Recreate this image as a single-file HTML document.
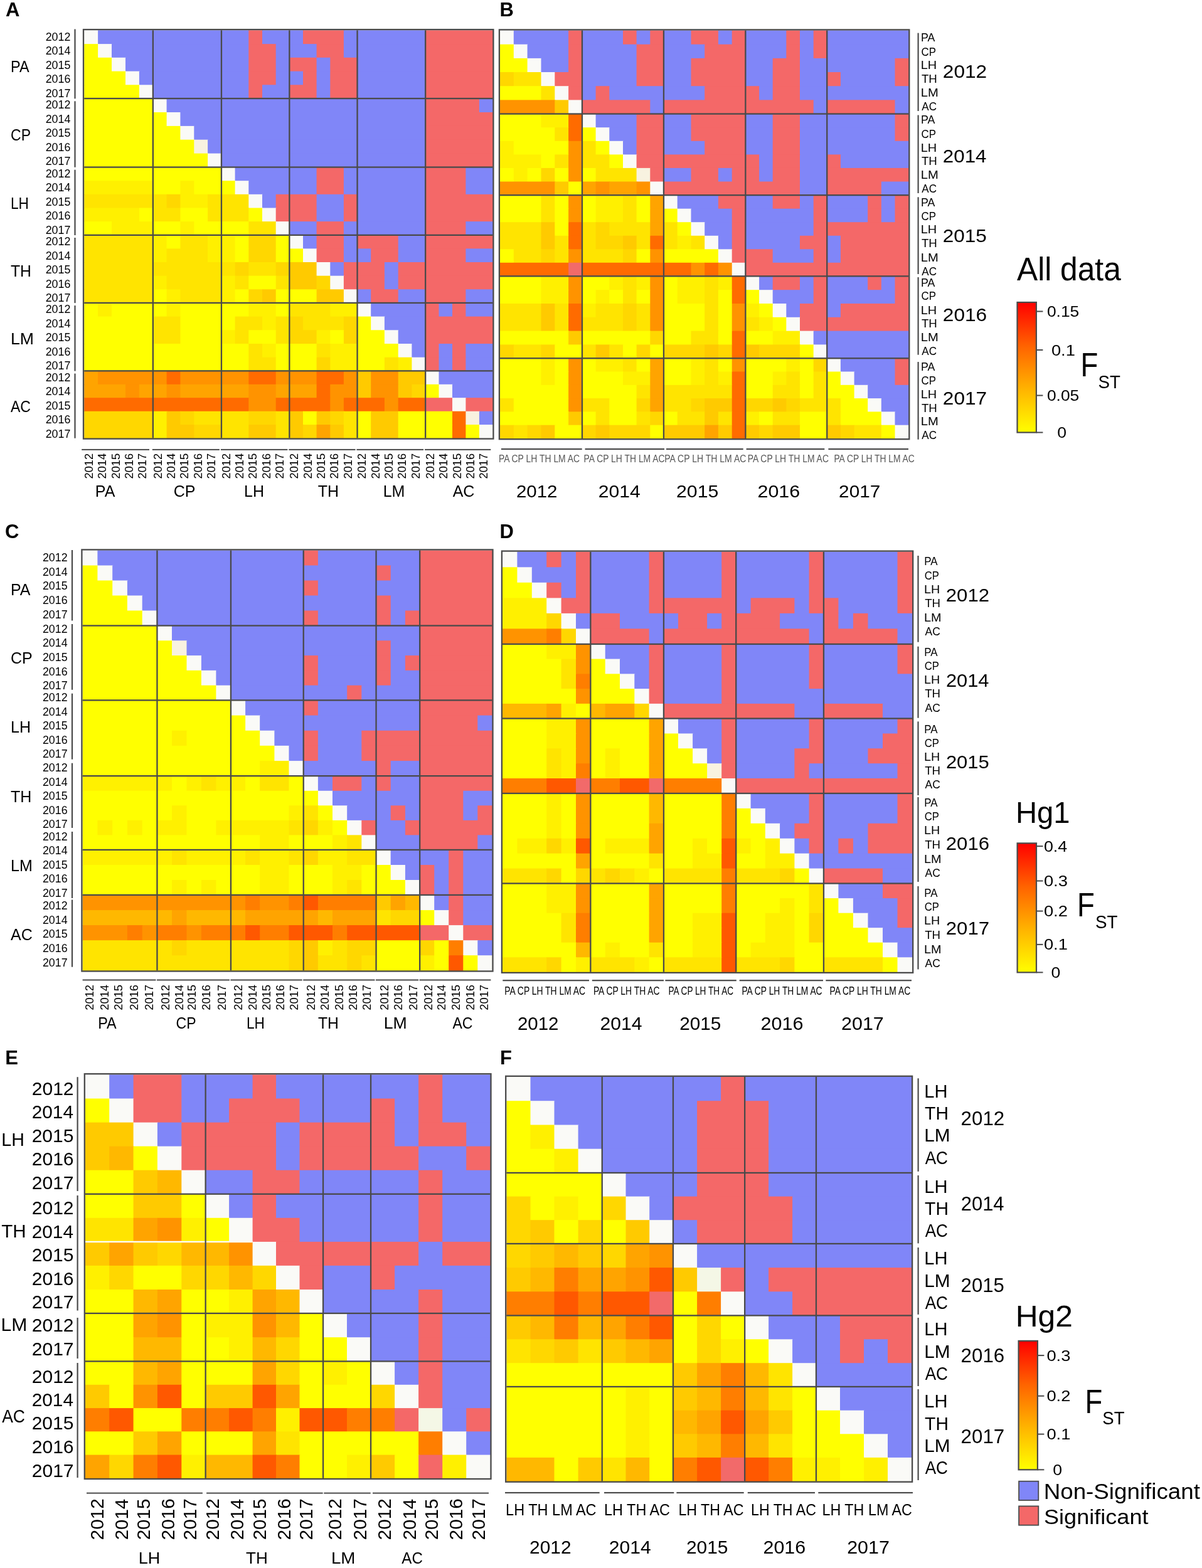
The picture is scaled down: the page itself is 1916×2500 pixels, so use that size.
<!DOCTYPE html>
<html><head><meta charset="utf-8"><title>Pairwise FST heatmaps</title>
<style>html,body{margin:0;padding:0;background:#fff;} svg{display:block;} text{font-family:'Liberation Sans', Arial, sans-serif;}</style>
</head><body>
<svg xmlns="http://www.w3.org/2000/svg" width="1916" height="2500" viewBox="0 0 1916 2500">
<rect width="1916" height="2500" fill="#fff"/>
<text x="9.0" y="25.9" font-size="31" font-weight="bold" fill="#000">A</text>
<rect x="134.2" y="48.3" width="22.9" height="22.8" fill="#fafaf7"/>
<rect x="156.1" y="48.3" width="241.2" height="22.8" fill="#8086f8"/>
<rect x="396.3" y="48.3" width="22.7" height="22.8" fill="#f46868"/>
<rect x="418.0" y="48.3" width="66.0" height="22.8" fill="#8086f8"/>
<rect x="483.0" y="48.3" width="65.9" height="22.8" fill="#f46868"/>
<rect x="547.9" y="48.3" width="131.2" height="22.8" fill="#8086f8"/>
<rect x="678.1" y="48.3" width="108.2" height="22.8" fill="#f46868"/>
<rect x="134.2" y="70.1" width="22.9" height="22.8" fill="#ffff00"/>
<rect x="156.1" y="70.1" width="22.9" height="22.8" fill="#fafaf7"/>
<rect x="178.0" y="70.1" width="219.3" height="22.8" fill="#8086f8"/>
<rect x="396.3" y="70.1" width="44.4" height="22.8" fill="#f46868"/>
<rect x="439.7" y="70.1" width="65.9" height="22.8" fill="#8086f8"/>
<rect x="504.6" y="70.1" width="44.2" height="22.8" fill="#f46868"/>
<rect x="547.9" y="70.1" width="131.2" height="22.8" fill="#8086f8"/>
<rect x="678.1" y="70.1" width="108.2" height="22.8" fill="#f46868"/>
<rect x="134.2" y="91.8" width="44.8" height="22.8" fill="#ffff00"/>
<rect x="178.0" y="91.8" width="22.9" height="22.8" fill="#fafaf7"/>
<rect x="200.0" y="91.8" width="197.3" height="22.8" fill="#8086f8"/>
<rect x="396.3" y="91.8" width="44.4" height="22.8" fill="#f46868"/>
<rect x="439.7" y="91.8" width="22.7" height="22.8" fill="#8086f8"/>
<rect x="461.4" y="91.8" width="44.2" height="22.8" fill="#f46868"/>
<rect x="504.6" y="91.8" width="22.6" height="22.8" fill="#8086f8"/>
<rect x="526.3" y="91.8" width="44.2" height="22.8" fill="#f46868"/>
<rect x="569.5" y="91.8" width="109.6" height="22.8" fill="#8086f8"/>
<rect x="678.1" y="91.8" width="108.2" height="22.8" fill="#f46868"/>
<rect x="134.2" y="113.6" width="66.8" height="22.8" fill="#ffff00"/>
<rect x="200.0" y="113.6" width="22.9" height="22.8" fill="#fafaf7"/>
<rect x="221.9" y="113.6" width="175.4" height="22.8" fill="#8086f8"/>
<rect x="396.3" y="113.6" width="44.4" height="22.8" fill="#f46868"/>
<rect x="439.7" y="113.6" width="44.3" height="22.8" fill="#8086f8"/>
<rect x="483.0" y="113.6" width="22.6" height="22.8" fill="#f46868"/>
<rect x="504.6" y="113.6" width="22.6" height="22.8" fill="#8086f8"/>
<rect x="526.3" y="113.6" width="44.2" height="22.8" fill="#f46868"/>
<rect x="569.5" y="113.6" width="109.6" height="22.8" fill="#8086f8"/>
<rect x="678.1" y="113.6" width="108.2" height="22.8" fill="#f46868"/>
<rect x="134.2" y="135.3" width="88.7" height="22.8" fill="#ffff00"/>
<rect x="221.9" y="135.3" width="22.9" height="22.8" fill="#fafaf7"/>
<rect x="243.8" y="135.3" width="153.5" height="22.8" fill="#8086f8"/>
<rect x="396.3" y="135.3" width="22.7" height="22.8" fill="#f46868"/>
<rect x="418.0" y="135.3" width="44.4" height="22.8" fill="#8086f8"/>
<rect x="461.4" y="135.3" width="44.2" height="22.8" fill="#f46868"/>
<rect x="504.6" y="135.3" width="22.6" height="22.8" fill="#8086f8"/>
<rect x="526.3" y="135.3" width="44.2" height="22.8" fill="#f46868"/>
<rect x="569.5" y="135.3" width="109.6" height="22.8" fill="#8086f8"/>
<rect x="678.1" y="135.3" width="108.2" height="22.8" fill="#f46868"/>
<rect x="134.2" y="157.1" width="110.6" height="22.9" fill="#ffff00"/>
<rect x="243.8" y="157.1" width="22.8" height="22.9" fill="#fafaf7"/>
<rect x="265.6" y="157.1" width="413.5" height="22.9" fill="#8086f8"/>
<rect x="678.1" y="157.1" width="86.8" height="22.9" fill="#f46868"/>
<rect x="763.9" y="157.1" width="22.4" height="22.9" fill="#8086f8"/>
<rect x="134.2" y="179.0" width="132.4" height="22.9" fill="#ffff00"/>
<rect x="265.6" y="179.0" width="22.8" height="22.9" fill="#fafaf7"/>
<rect x="287.4" y="179.0" width="391.7" height="22.9" fill="#8086f8"/>
<rect x="678.1" y="179.0" width="108.2" height="22.9" fill="#f46868"/>
<rect x="134.2" y="200.9" width="154.2" height="22.9" fill="#ffff00"/>
<rect x="287.4" y="200.9" width="22.8" height="22.9" fill="#fafaf7"/>
<rect x="309.3" y="200.9" width="369.8" height="22.9" fill="#8086f8"/>
<rect x="678.1" y="200.9" width="108.2" height="22.9" fill="#f46868"/>
<rect x="134.2" y="222.7" width="176.1" height="22.9" fill="#ffff00"/>
<rect x="309.3" y="222.7" width="22.8" height="22.9" fill="#f8f2e0"/>
<rect x="331.1" y="222.7" width="348.0" height="22.9" fill="#8086f8"/>
<rect x="678.1" y="222.7" width="108.2" height="22.9" fill="#f46868"/>
<rect x="134.2" y="244.6" width="197.9" height="22.9" fill="#ffff00"/>
<rect x="331.1" y="244.6" width="22.8" height="22.9" fill="#fafaf7"/>
<rect x="352.9" y="244.6" width="326.2" height="22.9" fill="#8086f8"/>
<rect x="678.1" y="244.6" width="108.2" height="22.9" fill="#f46868"/>
<rect x="134.2" y="266.5" width="219.7" height="22.7" fill="#ffff00"/>
<rect x="352.9" y="266.5" width="22.7" height="22.7" fill="#fafaf7"/>
<rect x="374.6" y="266.5" width="131.0" height="22.7" fill="#8086f8"/>
<rect x="504.6" y="266.5" width="44.2" height="22.7" fill="#f46868"/>
<rect x="547.9" y="266.5" width="131.2" height="22.7" fill="#8086f8"/>
<rect x="678.1" y="266.5" width="65.3" height="22.7" fill="#f46868"/>
<rect x="742.4" y="266.5" width="43.9" height="22.7" fill="#8086f8"/>
<rect x="134.2" y="288.2" width="110.6" height="22.7" fill="#fff000"/>
<rect x="243.8" y="288.2" width="44.6" height="22.7" fill="#ffff00"/>
<rect x="287.4" y="288.2" width="22.8" height="22.7" fill="#fff000"/>
<rect x="309.3" y="288.2" width="66.3" height="22.7" fill="#ffff00"/>
<rect x="374.6" y="288.2" width="22.7" height="22.7" fill="#fafaf7"/>
<rect x="396.3" y="288.2" width="109.3" height="22.7" fill="#8086f8"/>
<rect x="504.6" y="288.2" width="44.2" height="22.7" fill="#f46868"/>
<rect x="547.9" y="288.2" width="131.2" height="22.7" fill="#8086f8"/>
<rect x="678.1" y="288.2" width="65.3" height="22.7" fill="#f46868"/>
<rect x="742.4" y="288.2" width="43.9" height="22.7" fill="#8086f8"/>
<rect x="134.2" y="309.8" width="132.4" height="22.7" fill="#ffe400"/>
<rect x="265.6" y="309.8" width="22.8" height="22.7" fill="#ffd700"/>
<rect x="287.4" y="309.8" width="44.6" height="22.7" fill="#fff000"/>
<rect x="331.1" y="309.8" width="66.2" height="22.7" fill="#ffe400"/>
<rect x="396.3" y="309.8" width="22.7" height="22.7" fill="#fafaf7"/>
<rect x="418.0" y="309.8" width="22.7" height="22.7" fill="#8086f8"/>
<rect x="439.7" y="309.8" width="65.9" height="22.7" fill="#f46868"/>
<rect x="504.6" y="309.8" width="44.2" height="22.7" fill="#8086f8"/>
<rect x="547.9" y="309.8" width="22.6" height="22.7" fill="#f46868"/>
<rect x="569.5" y="309.8" width="109.6" height="22.7" fill="#8086f8"/>
<rect x="678.1" y="309.8" width="108.2" height="22.7" fill="#f46868"/>
<rect x="134.2" y="331.5" width="88.7" height="22.7" fill="#fff000"/>
<rect x="221.9" y="331.5" width="22.9" height="22.7" fill="#ffff00"/>
<rect x="243.8" y="331.5" width="44.6" height="22.7" fill="#ffe400"/>
<rect x="287.4" y="331.5" width="44.6" height="22.7" fill="#ffff00"/>
<rect x="331.1" y="331.5" width="66.2" height="22.7" fill="#ffe400"/>
<rect x="396.3" y="331.5" width="22.7" height="22.7" fill="#ffff00"/>
<rect x="418.0" y="331.5" width="22.7" height="22.7" fill="#fafaf7"/>
<rect x="439.7" y="331.5" width="65.9" height="22.7" fill="#f46868"/>
<rect x="504.6" y="331.5" width="44.2" height="22.7" fill="#8086f8"/>
<rect x="547.9" y="331.5" width="22.6" height="22.7" fill="#f46868"/>
<rect x="569.5" y="331.5" width="109.6" height="22.7" fill="#8086f8"/>
<rect x="678.1" y="331.5" width="108.2" height="22.7" fill="#f46868"/>
<rect x="134.2" y="353.1" width="44.8" height="22.7" fill="#ffff00"/>
<rect x="178.0" y="353.1" width="66.8" height="22.7" fill="#fff000"/>
<rect x="243.8" y="353.1" width="44.6" height="22.7" fill="#ffff00"/>
<rect x="287.4" y="353.1" width="22.8" height="22.7" fill="#fff000"/>
<rect x="309.3" y="353.1" width="88.0" height="22.7" fill="#ffff00"/>
<rect x="396.3" y="353.1" width="44.4" height="22.7" fill="#ffe400"/>
<rect x="439.7" y="353.1" width="22.7" height="22.7" fill="#fafaf7"/>
<rect x="461.4" y="353.1" width="44.2" height="22.7" fill="#8086f8"/>
<rect x="504.6" y="353.1" width="44.2" height="22.7" fill="#f46868"/>
<rect x="547.9" y="353.1" width="131.2" height="22.7" fill="#8086f8"/>
<rect x="678.1" y="353.1" width="65.3" height="22.7" fill="#f46868"/>
<rect x="742.4" y="353.1" width="43.9" height="22.7" fill="#8086f8"/>
<rect x="134.2" y="374.8" width="110.6" height="22.6" fill="#ffe400"/>
<rect x="243.8" y="374.8" width="22.8" height="22.6" fill="#fff000"/>
<rect x="265.6" y="374.8" width="22.8" height="22.6" fill="#ffff00"/>
<rect x="287.4" y="374.8" width="44.6" height="22.6" fill="#ffe400"/>
<rect x="331.1" y="374.8" width="44.5" height="22.6" fill="#fff000"/>
<rect x="374.6" y="374.8" width="22.7" height="22.6" fill="#ffff00"/>
<rect x="396.3" y="374.8" width="44.4" height="22.6" fill="#ffd700"/>
<rect x="439.7" y="374.8" width="22.7" height="22.6" fill="#ffff00"/>
<rect x="461.4" y="374.8" width="22.6" height="22.6" fill="#fafaf7"/>
<rect x="483.0" y="374.8" width="22.6" height="22.6" fill="#8086f8"/>
<rect x="504.6" y="374.8" width="44.2" height="22.6" fill="#f46868"/>
<rect x="547.9" y="374.8" width="22.6" height="22.6" fill="#8086f8"/>
<rect x="569.5" y="374.8" width="66.2" height="22.6" fill="#f46868"/>
<rect x="634.7" y="374.8" width="44.4" height="22.6" fill="#8086f8"/>
<rect x="678.1" y="374.8" width="108.2" height="22.6" fill="#f46868"/>
<rect x="134.2" y="396.4" width="110.6" height="22.6" fill="#ffe400"/>
<rect x="243.8" y="396.4" width="22.8" height="22.6" fill="#fff000"/>
<rect x="265.6" y="396.4" width="66.5" height="22.6" fill="#ffe400"/>
<rect x="331.1" y="396.4" width="44.5" height="22.6" fill="#fff000"/>
<rect x="374.6" y="396.4" width="22.7" height="22.6" fill="#ffff00"/>
<rect x="396.3" y="396.4" width="44.4" height="22.6" fill="#ffd700"/>
<rect x="439.7" y="396.4" width="44.3" height="22.6" fill="#ffff00"/>
<rect x="483.0" y="396.4" width="22.6" height="22.6" fill="#fafaf7"/>
<rect x="504.6" y="396.4" width="44.2" height="22.6" fill="#f46868"/>
<rect x="547.9" y="396.4" width="44.3" height="22.6" fill="#8086f8"/>
<rect x="591.2" y="396.4" width="44.4" height="22.6" fill="#f46868"/>
<rect x="634.7" y="396.4" width="44.4" height="22.6" fill="#8086f8"/>
<rect x="678.1" y="396.4" width="65.3" height="22.6" fill="#f46868"/>
<rect x="742.4" y="396.4" width="43.9" height="22.6" fill="#8086f8"/>
<rect x="134.2" y="418.0" width="241.4" height="22.6" fill="#ffe400"/>
<rect x="374.6" y="418.0" width="22.7" height="22.6" fill="#ffd700"/>
<rect x="396.3" y="418.0" width="44.4" height="22.6" fill="#ffe400"/>
<rect x="439.7" y="418.0" width="22.7" height="22.6" fill="#ffd700"/>
<rect x="461.4" y="418.0" width="44.2" height="22.6" fill="#ffca00"/>
<rect x="504.6" y="418.0" width="22.6" height="22.6" fill="#fafaf7"/>
<rect x="526.3" y="418.0" width="22.6" height="22.6" fill="#8086f8"/>
<rect x="547.9" y="418.0" width="66.1" height="22.6" fill="#f46868"/>
<rect x="612.9" y="418.0" width="22.7" height="22.6" fill="#8086f8"/>
<rect x="634.7" y="418.0" width="151.6" height="22.6" fill="#f46868"/>
<rect x="134.2" y="439.7" width="110.6" height="22.6" fill="#ffe400"/>
<rect x="243.8" y="439.7" width="22.8" height="22.6" fill="#fff000"/>
<rect x="265.6" y="439.7" width="88.3" height="22.6" fill="#ffe400"/>
<rect x="352.9" y="439.7" width="22.7" height="22.6" fill="#fff000"/>
<rect x="374.6" y="439.7" width="22.7" height="22.6" fill="#ffe400"/>
<rect x="396.3" y="439.7" width="44.4" height="22.6" fill="#ffff00"/>
<rect x="439.7" y="439.7" width="22.7" height="22.6" fill="#ffe400"/>
<rect x="461.4" y="439.7" width="44.2" height="22.6" fill="#ffca00"/>
<rect x="504.6" y="439.7" width="22.6" height="22.6" fill="#ffd700"/>
<rect x="526.3" y="439.7" width="22.6" height="22.6" fill="#fafaf7"/>
<rect x="547.9" y="439.7" width="66.1" height="22.6" fill="#f46868"/>
<rect x="612.9" y="439.7" width="22.7" height="22.6" fill="#8086f8"/>
<rect x="634.7" y="439.7" width="151.6" height="22.6" fill="#f46868"/>
<rect x="134.2" y="461.3" width="110.6" height="22.6" fill="#ffe400"/>
<rect x="243.8" y="461.3" width="22.8" height="22.6" fill="#ffff00"/>
<rect x="265.6" y="461.3" width="22.8" height="22.6" fill="#fff000"/>
<rect x="287.4" y="461.3" width="66.5" height="22.6" fill="#ffe400"/>
<rect x="352.9" y="461.3" width="22.7" height="22.6" fill="#fff000"/>
<rect x="374.6" y="461.3" width="22.7" height="22.6" fill="#ffff00"/>
<rect x="396.3" y="461.3" width="22.7" height="22.6" fill="#ffd700"/>
<rect x="418.0" y="461.3" width="22.7" height="22.6" fill="#ffca00"/>
<rect x="439.7" y="461.3" width="65.9" height="22.6" fill="#ffff00"/>
<rect x="504.6" y="461.3" width="44.2" height="22.6" fill="#ffca00"/>
<rect x="547.9" y="461.3" width="22.6" height="22.6" fill="#fafaf7"/>
<rect x="569.5" y="461.3" width="22.7" height="22.6" fill="#8086f8"/>
<rect x="591.2" y="461.3" width="44.4" height="22.6" fill="#f46868"/>
<rect x="634.7" y="461.3" width="44.4" height="22.6" fill="#8086f8"/>
<rect x="678.1" y="461.3" width="65.3" height="22.6" fill="#f46868"/>
<rect x="742.4" y="461.3" width="43.9" height="22.6" fill="#8086f8"/>
<rect x="134.2" y="482.9" width="22.9" height="22.7" fill="#ffff00"/>
<rect x="156.1" y="482.9" width="22.9" height="22.7" fill="#fff000"/>
<rect x="178.0" y="482.9" width="88.6" height="22.7" fill="#ffff00"/>
<rect x="265.6" y="482.9" width="22.8" height="22.7" fill="#fff000"/>
<rect x="287.4" y="482.9" width="109.9" height="22.7" fill="#ffff00"/>
<rect x="396.3" y="482.9" width="44.4" height="22.7" fill="#fff000"/>
<rect x="439.7" y="482.9" width="22.7" height="22.7" fill="#ffff00"/>
<rect x="461.4" y="482.9" width="65.9" height="22.7" fill="#ffe400"/>
<rect x="526.3" y="482.9" width="44.2" height="22.7" fill="#fff000"/>
<rect x="569.5" y="482.9" width="22.7" height="22.7" fill="#fafaf7"/>
<rect x="591.2" y="482.9" width="87.9" height="22.7" fill="#8086f8"/>
<rect x="678.1" y="482.9" width="22.4" height="22.7" fill="#f46868"/>
<rect x="699.5" y="482.9" width="22.4" height="22.7" fill="#8086f8"/>
<rect x="721.0" y="482.9" width="22.4" height="22.7" fill="#f46868"/>
<rect x="742.4" y="482.9" width="43.9" height="22.7" fill="#8086f8"/>
<rect x="134.2" y="504.6" width="110.6" height="22.7" fill="#ffff00"/>
<rect x="243.8" y="504.6" width="44.6" height="22.7" fill="#ffe400"/>
<rect x="287.4" y="504.6" width="88.2" height="22.7" fill="#ffff00"/>
<rect x="374.6" y="504.6" width="44.4" height="22.7" fill="#ffe400"/>
<rect x="418.0" y="504.6" width="22.7" height="22.7" fill="#fff000"/>
<rect x="439.7" y="504.6" width="22.7" height="22.7" fill="#ffe400"/>
<rect x="461.4" y="504.6" width="22.6" height="22.7" fill="#ffd700"/>
<rect x="483.0" y="504.6" width="65.9" height="22.7" fill="#ffe400"/>
<rect x="547.9" y="504.6" width="22.6" height="22.7" fill="#ffd700"/>
<rect x="569.5" y="504.6" width="22.7" height="22.7" fill="#ffff00"/>
<rect x="591.2" y="504.6" width="22.7" height="22.7" fill="#fafaf7"/>
<rect x="612.9" y="504.6" width="66.2" height="22.7" fill="#8086f8"/>
<rect x="678.1" y="504.6" width="108.2" height="22.7" fill="#f46868"/>
<rect x="134.2" y="526.3" width="110.6" height="22.7" fill="#ffff00"/>
<rect x="243.8" y="526.3" width="44.6" height="22.7" fill="#ffe400"/>
<rect x="287.4" y="526.3" width="66.5" height="22.7" fill="#ffff00"/>
<rect x="352.9" y="526.3" width="22.7" height="22.7" fill="#fff000"/>
<rect x="374.6" y="526.3" width="22.7" height="22.7" fill="#ffe400"/>
<rect x="396.3" y="526.3" width="44.4" height="22.7" fill="#ffff00"/>
<rect x="439.7" y="526.3" width="22.7" height="22.7" fill="#ffe400"/>
<rect x="461.4" y="526.3" width="44.2" height="22.7" fill="#ffd700"/>
<rect x="504.6" y="526.3" width="22.6" height="22.7" fill="#fff000"/>
<rect x="526.3" y="526.3" width="22.6" height="22.7" fill="#ffff00"/>
<rect x="547.9" y="526.3" width="22.6" height="22.7" fill="#ffd700"/>
<rect x="569.5" y="526.3" width="44.4" height="22.7" fill="#ffff00"/>
<rect x="612.9" y="526.3" width="22.7" height="22.7" fill="#fafaf7"/>
<rect x="634.7" y="526.3" width="44.4" height="22.7" fill="#8086f8"/>
<rect x="678.1" y="526.3" width="108.2" height="22.7" fill="#f46868"/>
<rect x="134.2" y="548.0" width="263.1" height="22.7" fill="#ffff00"/>
<rect x="396.3" y="548.0" width="22.7" height="22.7" fill="#ffe400"/>
<rect x="418.0" y="548.0" width="22.7" height="22.7" fill="#fff000"/>
<rect x="439.7" y="548.0" width="65.9" height="22.7" fill="#ffff00"/>
<rect x="504.6" y="548.0" width="22.6" height="22.7" fill="#ffe400"/>
<rect x="526.3" y="548.0" width="44.2" height="22.7" fill="#fff000"/>
<rect x="569.5" y="548.0" width="66.2" height="22.7" fill="#ffff00"/>
<rect x="634.7" y="548.0" width="22.7" height="22.7" fill="#fafaf7"/>
<rect x="656.4" y="548.0" width="22.7" height="22.7" fill="#8086f8"/>
<rect x="678.1" y="548.0" width="22.4" height="22.7" fill="#f46868"/>
<rect x="699.5" y="548.0" width="22.4" height="22.7" fill="#8086f8"/>
<rect x="721.0" y="548.0" width="22.4" height="22.7" fill="#f46868"/>
<rect x="742.4" y="548.0" width="43.9" height="22.7" fill="#8086f8"/>
<rect x="134.2" y="569.7" width="263.1" height="22.7" fill="#ffff00"/>
<rect x="396.3" y="569.7" width="44.4" height="22.7" fill="#ffe400"/>
<rect x="439.7" y="569.7" width="65.9" height="22.7" fill="#ffff00"/>
<rect x="504.6" y="569.7" width="22.6" height="22.7" fill="#ffd700"/>
<rect x="526.3" y="569.7" width="44.2" height="22.7" fill="#fff000"/>
<rect x="569.5" y="569.7" width="44.4" height="22.7" fill="#ffff00"/>
<rect x="612.9" y="569.7" width="22.7" height="22.7" fill="#ffe400"/>
<rect x="634.7" y="569.7" width="22.7" height="22.7" fill="#fff000"/>
<rect x="656.4" y="569.7" width="22.7" height="22.7" fill="#fafaf7"/>
<rect x="678.1" y="569.7" width="22.4" height="22.7" fill="#f46868"/>
<rect x="699.5" y="569.7" width="22.4" height="22.7" fill="#8086f8"/>
<rect x="721.0" y="569.7" width="22.4" height="22.7" fill="#f46868"/>
<rect x="742.4" y="569.7" width="43.9" height="22.7" fill="#8086f8"/>
<rect x="134.2" y="591.4" width="22.9" height="22.4" fill="#ffa400"/>
<rect x="156.1" y="591.4" width="110.5" height="22.4" fill="#ff9300"/>
<rect x="265.6" y="591.4" width="22.8" height="22.4" fill="#ff6b00"/>
<rect x="287.4" y="591.4" width="109.9" height="22.4" fill="#ff9300"/>
<rect x="396.3" y="591.4" width="44.4" height="22.4" fill="#ff6b00"/>
<rect x="439.7" y="591.4" width="65.9" height="22.4" fill="#ff9300"/>
<rect x="504.6" y="591.4" width="44.2" height="22.4" fill="#ff6b00"/>
<rect x="547.9" y="591.4" width="22.6" height="22.4" fill="#ff9300"/>
<rect x="569.5" y="591.4" width="22.7" height="22.4" fill="#ffca00"/>
<rect x="591.2" y="591.4" width="44.4" height="22.4" fill="#ff9300"/>
<rect x="634.7" y="591.4" width="44.4" height="22.4" fill="#ffca00"/>
<rect x="678.1" y="591.4" width="22.4" height="22.4" fill="#fafaf7"/>
<rect x="699.5" y="591.4" width="86.8" height="22.4" fill="#8086f8"/>
<rect x="134.2" y="612.8" width="66.8" height="22.4" fill="#ffa400"/>
<rect x="200.0" y="612.8" width="22.9" height="22.4" fill="#ff9300"/>
<rect x="221.9" y="612.8" width="44.7" height="22.4" fill="#ffa400"/>
<rect x="265.6" y="612.8" width="22.8" height="22.4" fill="#ff9300"/>
<rect x="287.4" y="612.8" width="109.9" height="22.4" fill="#ffa400"/>
<rect x="396.3" y="612.8" width="44.4" height="22.4" fill="#ff9300"/>
<rect x="439.7" y="612.8" width="65.9" height="22.4" fill="#ffa400"/>
<rect x="504.6" y="612.8" width="22.6" height="22.4" fill="#ff6b00"/>
<rect x="526.3" y="612.8" width="44.2" height="22.4" fill="#ff9300"/>
<rect x="569.5" y="612.8" width="22.7" height="22.4" fill="#ffca00"/>
<rect x="591.2" y="612.8" width="44.4" height="22.4" fill="#ff9300"/>
<rect x="634.7" y="612.8" width="22.7" height="22.4" fill="#ffca00"/>
<rect x="656.4" y="612.8" width="22.7" height="22.4" fill="#ffd700"/>
<rect x="678.1" y="612.8" width="22.4" height="22.4" fill="#ffff00"/>
<rect x="699.5" y="612.8" width="22.4" height="22.4" fill="#fafaf7"/>
<rect x="721.0" y="612.8" width="65.3" height="22.4" fill="#8086f8"/>
<rect x="134.2" y="634.2" width="263.1" height="22.4" fill="#ff6b00"/>
<rect x="396.3" y="634.2" width="44.4" height="22.4" fill="#ff9300"/>
<rect x="439.7" y="634.2" width="87.6" height="22.4" fill="#ff6b00"/>
<rect x="526.3" y="634.2" width="22.6" height="22.4" fill="#ff9300"/>
<rect x="547.9" y="634.2" width="66.1" height="22.4" fill="#ff6b00"/>
<rect x="612.9" y="634.2" width="22.7" height="22.4" fill="#ff9300"/>
<rect x="634.7" y="634.2" width="44.4" height="22.4" fill="#ff6b00"/>
<rect x="678.1" y="634.2" width="43.9" height="22.4" fill="#f46868"/>
<rect x="721.0" y="634.2" width="22.4" height="22.4" fill="#fafaf7"/>
<rect x="742.4" y="634.2" width="43.9" height="22.4" fill="#f46868"/>
<rect x="134.2" y="655.7" width="110.6" height="22.4" fill="#ffd700"/>
<rect x="243.8" y="655.7" width="22.8" height="22.4" fill="#fff000"/>
<rect x="265.6" y="655.7" width="22.8" height="22.4" fill="#ffca00"/>
<rect x="287.4" y="655.7" width="22.8" height="22.4" fill="#ffd700"/>
<rect x="309.3" y="655.7" width="88.0" height="22.4" fill="#ffe400"/>
<rect x="396.3" y="655.7" width="44.4" height="22.4" fill="#ffd700"/>
<rect x="439.7" y="655.7" width="22.7" height="22.4" fill="#ffe400"/>
<rect x="461.4" y="655.7" width="22.6" height="22.4" fill="#ffca00"/>
<rect x="483.0" y="655.7" width="22.6" height="22.4" fill="#ffff00"/>
<rect x="504.6" y="655.7" width="22.6" height="22.4" fill="#ffca00"/>
<rect x="526.3" y="655.7" width="22.6" height="22.4" fill="#ffd700"/>
<rect x="547.9" y="655.7" width="22.6" height="22.4" fill="#ffe400"/>
<rect x="569.5" y="655.7" width="22.7" height="22.4" fill="#ffff00"/>
<rect x="591.2" y="655.7" width="44.4" height="22.4" fill="#ffca00"/>
<rect x="634.7" y="655.7" width="87.3" height="22.4" fill="#ffff00"/>
<rect x="721.0" y="655.7" width="22.4" height="22.4" fill="#ff6b00"/>
<rect x="742.4" y="655.7" width="22.4" height="22.4" fill="#f8f2e0"/>
<rect x="763.9" y="655.7" width="22.4" height="22.4" fill="#8086f8"/>
<rect x="134.2" y="677.1" width="110.6" height="22.4" fill="#ffd700"/>
<rect x="243.8" y="677.1" width="22.8" height="22.4" fill="#fff000"/>
<rect x="265.6" y="677.1" width="44.6" height="22.4" fill="#ffca00"/>
<rect x="309.3" y="677.1" width="44.6" height="22.4" fill="#ffd700"/>
<rect x="352.9" y="677.1" width="44.4" height="22.4" fill="#ffe400"/>
<rect x="396.3" y="677.1" width="44.4" height="22.4" fill="#ffca00"/>
<rect x="439.7" y="677.1" width="22.7" height="22.4" fill="#ffe400"/>
<rect x="461.4" y="677.1" width="22.6" height="22.4" fill="#ffca00"/>
<rect x="483.0" y="677.1" width="22.6" height="22.4" fill="#ffd700"/>
<rect x="504.6" y="677.1" width="22.6" height="22.4" fill="#ffa400"/>
<rect x="526.3" y="677.1" width="22.6" height="22.4" fill="#ffca00"/>
<rect x="547.9" y="677.1" width="22.6" height="22.4" fill="#ffe400"/>
<rect x="569.5" y="677.1" width="22.7" height="22.4" fill="#ffff00"/>
<rect x="591.2" y="677.1" width="44.4" height="22.4" fill="#ffca00"/>
<rect x="634.7" y="677.1" width="87.3" height="22.4" fill="#ffff00"/>
<rect x="721.0" y="677.1" width="22.4" height="22.4" fill="#ff6b00"/>
<rect x="742.4" y="677.1" width="22.4" height="22.4" fill="#ffff00"/>
<rect x="763.9" y="677.1" width="22.4" height="22.4" fill="#fafaf7"/>
<rect x="242.7" y="48.3" width="2.3" height="650.2" fill="#4a4a4a"/>
<rect x="351.8" y="48.3" width="2.3" height="650.2" fill="#4a4a4a"/>
<rect x="460.2" y="48.3" width="2.3" height="650.2" fill="#4a4a4a"/>
<rect x="568.4" y="48.3" width="2.3" height="650.2" fill="#4a4a4a"/>
<rect x="677.0" y="48.3" width="2.3" height="650.2" fill="#4a4a4a"/>
<rect x="134.2" y="155.9" width="651.1" height="2.3" fill="#4a4a4a"/>
<rect x="134.2" y="265.4" width="651.1" height="2.3" fill="#4a4a4a"/>
<rect x="134.2" y="373.7" width="651.1" height="2.3" fill="#4a4a4a"/>
<rect x="134.2" y="481.8" width="651.1" height="2.3" fill="#4a4a4a"/>
<rect x="134.2" y="590.2" width="651.1" height="2.3" fill="#4a4a4a"/>
<rect x="133.0" y="47.1" width="653.4" height="652.5" fill="none" stroke="#4a4a4a" stroke-width="2.3"/>
<text x="112.4" y="64.6" font-size="18" text-anchor="end" textLength="39.7" lengthAdjust="spacingAndGlyphs">2012</text>
<text x="112.4" y="87.1" font-size="18" text-anchor="end" textLength="39.7" lengthAdjust="spacingAndGlyphs">2014</text>
<text x="112.4" y="109.6" font-size="18" text-anchor="end" textLength="39.7" lengthAdjust="spacingAndGlyphs">2015</text>
<text x="112.4" y="132.1" font-size="18" text-anchor="end" textLength="39.7" lengthAdjust="spacingAndGlyphs">2016</text>
<text x="112.4" y="154.6" font-size="18" text-anchor="end" textLength="39.7" lengthAdjust="spacingAndGlyphs">2017</text>
<rect x="118.4" y="46.5" width="2.2" height="110.8" fill="#4a4a4a"/>
<text x="17.0" y="115.0" font-size="25" textLength="29.5" lengthAdjust="spacingAndGlyphs">PA</text>
<text x="112.4" y="173.4" font-size="18" text-anchor="end" textLength="39.7" lengthAdjust="spacingAndGlyphs">2012</text>
<text x="112.4" y="195.9" font-size="18" text-anchor="end" textLength="39.7" lengthAdjust="spacingAndGlyphs">2014</text>
<text x="112.4" y="218.4" font-size="18" text-anchor="end" textLength="39.7" lengthAdjust="spacingAndGlyphs">2015</text>
<text x="112.4" y="240.9" font-size="18" text-anchor="end" textLength="39.7" lengthAdjust="spacingAndGlyphs">2016</text>
<text x="112.4" y="263.4" font-size="18" text-anchor="end" textLength="39.7" lengthAdjust="spacingAndGlyphs">2017</text>
<rect x="118.4" y="161.3" width="2.2" height="105.4" fill="#4a4a4a"/>
<text x="17.0" y="224.1" font-size="25" textLength="32.0" lengthAdjust="spacingAndGlyphs">CP</text>
<text x="112.4" y="282.8" font-size="18" text-anchor="end" textLength="39.7" lengthAdjust="spacingAndGlyphs">2012</text>
<text x="112.4" y="305.3" font-size="18" text-anchor="end" textLength="39.7" lengthAdjust="spacingAndGlyphs">2014</text>
<text x="112.4" y="327.8" font-size="18" text-anchor="end" textLength="39.7" lengthAdjust="spacingAndGlyphs">2015</text>
<text x="112.4" y="350.3" font-size="18" text-anchor="end" textLength="39.7" lengthAdjust="spacingAndGlyphs">2016</text>
<text x="112.4" y="372.8" font-size="18" text-anchor="end" textLength="39.7" lengthAdjust="spacingAndGlyphs">2017</text>
<rect x="118.4" y="270.7" width="2.2" height="104.3" fill="#4a4a4a"/>
<text x="17.0" y="332.9" font-size="25" textLength="29.0" lengthAdjust="spacingAndGlyphs">LH</text>
<text x="112.4" y="391.1" font-size="18" text-anchor="end" textLength="39.7" lengthAdjust="spacingAndGlyphs">2012</text>
<text x="112.4" y="413.6" font-size="18" text-anchor="end" textLength="39.7" lengthAdjust="spacingAndGlyphs">2014</text>
<text x="112.4" y="436.1" font-size="18" text-anchor="end" textLength="39.7" lengthAdjust="spacingAndGlyphs">2015</text>
<text x="112.4" y="458.6" font-size="18" text-anchor="end" textLength="39.7" lengthAdjust="spacingAndGlyphs">2016</text>
<text x="112.4" y="481.1" font-size="18" text-anchor="end" textLength="39.7" lengthAdjust="spacingAndGlyphs">2017</text>
<rect x="118.4" y="379.0" width="2.2" height="104.1" fill="#4a4a4a"/>
<text x="17.0" y="441.2" font-size="25" textLength="33.0" lengthAdjust="spacingAndGlyphs">TH</text>
<text x="112.4" y="499.2" font-size="18" text-anchor="end" textLength="39.7" lengthAdjust="spacingAndGlyphs">2012</text>
<text x="112.4" y="521.7" font-size="18" text-anchor="end" textLength="39.7" lengthAdjust="spacingAndGlyphs">2014</text>
<text x="112.4" y="544.2" font-size="18" text-anchor="end" textLength="39.7" lengthAdjust="spacingAndGlyphs">2015</text>
<text x="112.4" y="566.7" font-size="18" text-anchor="end" textLength="39.7" lengthAdjust="spacingAndGlyphs">2016</text>
<text x="112.4" y="589.2" font-size="18" text-anchor="end" textLength="39.7" lengthAdjust="spacingAndGlyphs">2017</text>
<rect x="118.4" y="487.1" width="2.2" height="104.5" fill="#4a4a4a"/>
<text x="17.0" y="549.4" font-size="25" textLength="37.0" lengthAdjust="spacingAndGlyphs">LM</text>
<text x="112.4" y="607.7" font-size="18" text-anchor="end" textLength="39.7" lengthAdjust="spacingAndGlyphs">2012</text>
<text x="112.4" y="630.2" font-size="18" text-anchor="end" textLength="39.7" lengthAdjust="spacingAndGlyphs">2014</text>
<text x="112.4" y="652.7" font-size="18" text-anchor="end" textLength="39.7" lengthAdjust="spacingAndGlyphs">2015</text>
<text x="112.4" y="675.2" font-size="18" text-anchor="end" textLength="39.7" lengthAdjust="spacingAndGlyphs">2016</text>
<text x="112.4" y="697.7" font-size="18" text-anchor="end" textLength="39.7" lengthAdjust="spacingAndGlyphs">2017</text>
<rect x="118.4" y="595.6" width="2.2" height="103.1" fill="#4a4a4a"/>
<text x="17.0" y="657.2" font-size="25" textLength="32.0" lengthAdjust="spacingAndGlyphs">AC</text>
<rect x="130.2" y="715.9" width="107.8" height="2.0" fill="#4a4a4a"/>
<text x="0" y="0" font-size="18" text-anchor="end" textLength="40.7" lengthAdjust="spacingAndGlyphs" transform="translate(148.0,722.8) rotate(-90)">2012</text>
<text x="0" y="0" font-size="18" text-anchor="end" textLength="40.7" lengthAdjust="spacingAndGlyphs" transform="translate(169.3,722.8) rotate(-90)">2014</text>
<text x="0" y="0" font-size="18" text-anchor="end" textLength="40.7" lengthAdjust="spacingAndGlyphs" transform="translate(190.7,722.8) rotate(-90)">2015</text>
<text x="0" y="0" font-size="18" text-anchor="end" textLength="40.7" lengthAdjust="spacingAndGlyphs" transform="translate(212.1,722.8) rotate(-90)">2016</text>
<text x="0" y="0" font-size="18" text-anchor="end" textLength="40.7" lengthAdjust="spacingAndGlyphs" transform="translate(233.4,722.8) rotate(-90)">2017</text>
<rect x="242.8" y="715.9" width="107.1" height="2.0" fill="#4a4a4a"/>
<text x="0" y="0" font-size="18" text-anchor="end" textLength="40.7" lengthAdjust="spacingAndGlyphs" transform="translate(257.6,722.8) rotate(-90)">2012</text>
<text x="0" y="0" font-size="18" text-anchor="end" textLength="40.7" lengthAdjust="spacingAndGlyphs" transform="translate(278.9,722.8) rotate(-90)">2014</text>
<text x="0" y="0" font-size="18" text-anchor="end" textLength="40.7" lengthAdjust="spacingAndGlyphs" transform="translate(300.3,722.8) rotate(-90)">2015</text>
<text x="0" y="0" font-size="18" text-anchor="end" textLength="40.7" lengthAdjust="spacingAndGlyphs" transform="translate(321.6,722.8) rotate(-90)">2016</text>
<text x="0" y="0" font-size="18" text-anchor="end" textLength="40.7" lengthAdjust="spacingAndGlyphs" transform="translate(343.0,722.8) rotate(-90)">2017</text>
<rect x="351.9" y="715.9" width="106.5" height="2.0" fill="#4a4a4a"/>
<text x="0" y="0" font-size="18" text-anchor="end" textLength="40.7" lengthAdjust="spacingAndGlyphs" transform="translate(366.7,722.8) rotate(-90)">2012</text>
<text x="0" y="0" font-size="18" text-anchor="end" textLength="40.7" lengthAdjust="spacingAndGlyphs" transform="translate(388.0,722.8) rotate(-90)">2014</text>
<text x="0" y="0" font-size="18" text-anchor="end" textLength="40.7" lengthAdjust="spacingAndGlyphs" transform="translate(409.4,722.8) rotate(-90)">2015</text>
<text x="0" y="0" font-size="18" text-anchor="end" textLength="40.7" lengthAdjust="spacingAndGlyphs" transform="translate(430.7,722.8) rotate(-90)">2016</text>
<text x="0" y="0" font-size="18" text-anchor="end" textLength="40.7" lengthAdjust="spacingAndGlyphs" transform="translate(452.1,722.8) rotate(-90)">2017</text>
<rect x="460.4" y="715.9" width="106.1" height="2.0" fill="#4a4a4a"/>
<text x="0" y="0" font-size="18" text-anchor="end" textLength="40.7" lengthAdjust="spacingAndGlyphs" transform="translate(475.2,722.8) rotate(-90)">2012</text>
<text x="0" y="0" font-size="18" text-anchor="end" textLength="40.7" lengthAdjust="spacingAndGlyphs" transform="translate(496.5,722.8) rotate(-90)">2014</text>
<text x="0" y="0" font-size="18" text-anchor="end" textLength="40.7" lengthAdjust="spacingAndGlyphs" transform="translate(517.9,722.8) rotate(-90)">2015</text>
<text x="0" y="0" font-size="18" text-anchor="end" textLength="40.7" lengthAdjust="spacingAndGlyphs" transform="translate(539.2,722.8) rotate(-90)">2016</text>
<text x="0" y="0" font-size="18" text-anchor="end" textLength="40.7" lengthAdjust="spacingAndGlyphs" transform="translate(560.6,722.8) rotate(-90)">2017</text>
<rect x="568.5" y="715.9" width="106.6" height="2.0" fill="#4a4a4a"/>
<text x="0" y="0" font-size="18" text-anchor="end" textLength="40.7" lengthAdjust="spacingAndGlyphs" transform="translate(583.3,722.8) rotate(-90)">2012</text>
<text x="0" y="0" font-size="18" text-anchor="end" textLength="40.7" lengthAdjust="spacingAndGlyphs" transform="translate(604.6,722.8) rotate(-90)">2014</text>
<text x="0" y="0" font-size="18" text-anchor="end" textLength="40.7" lengthAdjust="spacingAndGlyphs" transform="translate(626.0,722.8) rotate(-90)">2015</text>
<text x="0" y="0" font-size="18" text-anchor="end" textLength="40.7" lengthAdjust="spacingAndGlyphs" transform="translate(647.4,722.8) rotate(-90)">2016</text>
<text x="0" y="0" font-size="18" text-anchor="end" textLength="40.7" lengthAdjust="spacingAndGlyphs" transform="translate(668.7,722.8) rotate(-90)">2017</text>
<rect x="677.1" y="715.9" width="105.2" height="2.0" fill="#4a4a4a"/>
<text x="0" y="0" font-size="18" text-anchor="end" textLength="40.7" lengthAdjust="spacingAndGlyphs" transform="translate(691.9,722.8) rotate(-90)">2012</text>
<text x="0" y="0" font-size="18" text-anchor="end" textLength="40.7" lengthAdjust="spacingAndGlyphs" transform="translate(713.2,722.8) rotate(-90)">2014</text>
<text x="0" y="0" font-size="18" text-anchor="end" textLength="40.7" lengthAdjust="spacingAndGlyphs" transform="translate(734.6,722.8) rotate(-90)">2015</text>
<text x="0" y="0" font-size="18" text-anchor="end" textLength="40.7" lengthAdjust="spacingAndGlyphs" transform="translate(755.9,722.8) rotate(-90)">2016</text>
<text x="0" y="0" font-size="18" text-anchor="end" textLength="40.7" lengthAdjust="spacingAndGlyphs" transform="translate(777.3,722.8) rotate(-90)">2017</text>
<text x="167.6" y="792.0" font-size="25" text-anchor="middle">PA</text>
<text x="294.0" y="792.0" font-size="25" text-anchor="middle">CP</text>
<text x="405.0" y="792.0" font-size="25" text-anchor="middle">LH</text>
<text x="523.5" y="792.0" font-size="25" text-anchor="middle">TH</text>
<text x="628.0" y="792.0" font-size="25" text-anchor="middle">LM</text>
<text x="739.0" y="792.0" font-size="25" text-anchor="middle">AC</text>
<text x="796.5" y="25.9" font-size="31" font-weight="bold" fill="#000">B</text>
<rect x="797.0" y="48.5" width="22.8" height="23.2" fill="#fafaf7"/>
<rect x="818.8" y="48.5" width="88.3" height="23.2" fill="#8086f8"/>
<rect x="906.1" y="48.5" width="22.8" height="23.2" fill="#f46868"/>
<rect x="927.9" y="48.5" width="66.1" height="23.2" fill="#8086f8"/>
<rect x="993.0" y="48.5" width="22.7" height="23.2" fill="#f46868"/>
<rect x="1014.6" y="48.5" width="22.7" height="23.2" fill="#8086f8"/>
<rect x="1036.3" y="48.5" width="22.7" height="23.2" fill="#f46868"/>
<rect x="1058.0" y="48.5" width="44.5" height="23.2" fill="#8086f8"/>
<rect x="1101.5" y="48.5" width="44.5" height="23.2" fill="#f46868"/>
<rect x="1144.9" y="48.5" width="22.7" height="23.2" fill="#8086f8"/>
<rect x="1166.7" y="48.5" width="22.7" height="23.2" fill="#f46868"/>
<rect x="1188.4" y="48.5" width="65.9" height="23.2" fill="#8086f8"/>
<rect x="1253.3" y="48.5" width="22.7" height="23.2" fill="#f46868"/>
<rect x="1275.0" y="48.5" width="22.7" height="23.2" fill="#8086f8"/>
<rect x="1296.7" y="48.5" width="22.6" height="23.2" fill="#f46868"/>
<rect x="1318.3" y="48.5" width="130.8" height="23.2" fill="#8086f8"/>
<rect x="797.0" y="70.7" width="22.8" height="23.2" fill="#ffff00"/>
<rect x="818.8" y="70.7" width="22.8" height="23.2" fill="#fafaf7"/>
<rect x="840.6" y="70.7" width="66.4" height="23.2" fill="#8086f8"/>
<rect x="906.1" y="70.7" width="22.8" height="23.2" fill="#f46868"/>
<rect x="927.9" y="70.7" width="87.7" height="23.2" fill="#8086f8"/>
<rect x="1014.6" y="70.7" width="44.4" height="23.2" fill="#f46868"/>
<rect x="1058.0" y="70.7" width="66.2" height="23.2" fill="#8086f8"/>
<rect x="1123.2" y="70.7" width="66.2" height="23.2" fill="#f46868"/>
<rect x="1188.4" y="70.7" width="65.9" height="23.2" fill="#8086f8"/>
<rect x="1253.3" y="70.7" width="22.7" height="23.2" fill="#f46868"/>
<rect x="1275.0" y="70.7" width="22.7" height="23.2" fill="#8086f8"/>
<rect x="1296.7" y="70.7" width="22.6" height="23.2" fill="#f46868"/>
<rect x="1318.3" y="70.7" width="130.8" height="23.2" fill="#8086f8"/>
<rect x="797.0" y="92.9" width="44.6" height="23.2" fill="#ffff00"/>
<rect x="840.6" y="92.9" width="22.8" height="23.2" fill="#fafaf7"/>
<rect x="862.5" y="92.9" width="44.6" height="23.2" fill="#8086f8"/>
<rect x="906.1" y="92.9" width="22.8" height="23.2" fill="#f46868"/>
<rect x="927.9" y="92.9" width="87.7" height="23.2" fill="#8086f8"/>
<rect x="1014.6" y="92.9" width="44.4" height="23.2" fill="#f46868"/>
<rect x="1058.0" y="92.9" width="44.5" height="23.2" fill="#8086f8"/>
<rect x="1101.5" y="92.9" width="87.9" height="23.2" fill="#f46868"/>
<rect x="1188.4" y="92.9" width="44.3" height="23.2" fill="#8086f8"/>
<rect x="1231.7" y="92.9" width="44.3" height="23.2" fill="#f46868"/>
<rect x="1275.0" y="92.9" width="152.5" height="23.2" fill="#8086f8"/>
<rect x="1426.5" y="92.9" width="22.6" height="23.2" fill="#f46868"/>
<rect x="797.0" y="115.0" width="22.8" height="23.2" fill="#ffd700"/>
<rect x="818.8" y="115.0" width="44.6" height="23.2" fill="#ffe400"/>
<rect x="862.5" y="115.0" width="22.8" height="23.2" fill="#fafaf7"/>
<rect x="884.3" y="115.0" width="44.6" height="23.2" fill="#f46868"/>
<rect x="927.9" y="115.0" width="87.7" height="23.2" fill="#8086f8"/>
<rect x="1014.6" y="115.0" width="44.4" height="23.2" fill="#f46868"/>
<rect x="1058.0" y="115.0" width="44.5" height="23.2" fill="#8086f8"/>
<rect x="1101.5" y="115.0" width="87.9" height="23.2" fill="#f46868"/>
<rect x="1188.4" y="115.0" width="44.3" height="23.2" fill="#8086f8"/>
<rect x="1231.7" y="115.0" width="44.3" height="23.2" fill="#f46868"/>
<rect x="1275.0" y="115.0" width="44.3" height="23.2" fill="#8086f8"/>
<rect x="1318.3" y="115.0" width="22.6" height="23.2" fill="#f46868"/>
<rect x="1339.9" y="115.0" width="87.5" height="23.2" fill="#8086f8"/>
<rect x="1426.5" y="115.0" width="22.6" height="23.2" fill="#f46868"/>
<rect x="797.0" y="137.2" width="66.5" height="23.2" fill="#ffff00"/>
<rect x="862.5" y="137.2" width="22.8" height="23.2" fill="#ffe400"/>
<rect x="884.3" y="137.2" width="22.8" height="23.2" fill="#fafaf7"/>
<rect x="906.1" y="137.2" width="22.8" height="23.2" fill="#f46868"/>
<rect x="927.9" y="137.2" width="22.7" height="23.2" fill="#8086f8"/>
<rect x="949.6" y="137.2" width="22.7" height="23.2" fill="#f46868"/>
<rect x="971.3" y="137.2" width="152.9" height="23.2" fill="#8086f8"/>
<rect x="1123.2" y="137.2" width="87.9" height="23.2" fill="#f46868"/>
<rect x="1210.1" y="137.2" width="22.6" height="23.2" fill="#8086f8"/>
<rect x="1231.7" y="137.2" width="44.3" height="23.2" fill="#f46868"/>
<rect x="1275.0" y="137.2" width="174.1" height="23.2" fill="#8086f8"/>
<rect x="797.0" y="159.4" width="88.3" height="23.2" fill="#ff9300"/>
<rect x="884.3" y="159.4" width="22.8" height="23.2" fill="#ffca00"/>
<rect x="906.1" y="159.4" width="22.8" height="23.2" fill="#fafaf7"/>
<rect x="927.9" y="159.4" width="109.4" height="23.2" fill="#f46868"/>
<rect x="1036.3" y="159.4" width="22.7" height="23.2" fill="#8086f8"/>
<rect x="1058.0" y="159.4" width="239.7" height="23.2" fill="#f46868"/>
<rect x="1296.7" y="159.4" width="22.6" height="23.2" fill="#8086f8"/>
<rect x="1318.3" y="159.4" width="109.2" height="23.2" fill="#f46868"/>
<rect x="1426.5" y="159.4" width="22.6" height="23.2" fill="#8086f8"/>
<rect x="797.0" y="181.6" width="66.5" height="22.6" fill="#ffff00"/>
<rect x="862.5" y="181.6" width="44.6" height="22.6" fill="#fff000"/>
<rect x="906.1" y="181.6" width="22.8" height="22.6" fill="#ff6b00"/>
<rect x="927.9" y="181.6" width="22.7" height="22.6" fill="#fafaf7"/>
<rect x="949.6" y="181.6" width="66.1" height="22.6" fill="#8086f8"/>
<rect x="1014.6" y="181.6" width="44.4" height="22.6" fill="#f46868"/>
<rect x="1058.0" y="181.6" width="44.5" height="22.6" fill="#8086f8"/>
<rect x="1101.5" y="181.6" width="87.9" height="22.6" fill="#f46868"/>
<rect x="1188.4" y="181.6" width="44.3" height="22.6" fill="#8086f8"/>
<rect x="1231.7" y="181.6" width="44.3" height="22.6" fill="#f46868"/>
<rect x="1275.0" y="181.6" width="152.5" height="22.6" fill="#8086f8"/>
<rect x="1426.5" y="181.6" width="22.6" height="22.6" fill="#f46868"/>
<rect x="797.0" y="203.2" width="88.3" height="22.6" fill="#ffff00"/>
<rect x="884.3" y="203.2" width="22.8" height="22.6" fill="#ffe400"/>
<rect x="906.1" y="203.2" width="22.8" height="22.6" fill="#ff6b00"/>
<rect x="927.9" y="203.2" width="22.7" height="22.6" fill="#ffff00"/>
<rect x="949.6" y="203.2" width="22.7" height="22.6" fill="#fafaf7"/>
<rect x="971.3" y="203.2" width="44.4" height="22.6" fill="#8086f8"/>
<rect x="1014.6" y="203.2" width="44.4" height="22.6" fill="#f46868"/>
<rect x="1058.0" y="203.2" width="44.5" height="22.6" fill="#8086f8"/>
<rect x="1101.5" y="203.2" width="87.9" height="22.6" fill="#f46868"/>
<rect x="1188.4" y="203.2" width="44.3" height="22.6" fill="#8086f8"/>
<rect x="1231.7" y="203.2" width="44.3" height="22.6" fill="#f46868"/>
<rect x="1275.0" y="203.2" width="152.5" height="22.6" fill="#8086f8"/>
<rect x="1426.5" y="203.2" width="22.6" height="22.6" fill="#f46868"/>
<rect x="797.0" y="224.8" width="22.8" height="22.6" fill="#fff000"/>
<rect x="818.8" y="224.8" width="88.3" height="22.6" fill="#ffff00"/>
<rect x="906.1" y="224.8" width="22.8" height="22.6" fill="#ff9300"/>
<rect x="927.9" y="224.8" width="22.7" height="22.6" fill="#ffe400"/>
<rect x="949.6" y="224.8" width="22.7" height="22.6" fill="#ffff00"/>
<rect x="971.3" y="224.8" width="22.7" height="22.6" fill="#fafaf7"/>
<rect x="993.0" y="224.8" width="22.7" height="22.6" fill="#8086f8"/>
<rect x="1014.6" y="224.8" width="44.4" height="22.6" fill="#f46868"/>
<rect x="1058.0" y="224.8" width="66.2" height="22.6" fill="#8086f8"/>
<rect x="1123.2" y="224.8" width="66.2" height="22.6" fill="#f46868"/>
<rect x="1188.4" y="224.8" width="44.3" height="22.6" fill="#8086f8"/>
<rect x="1231.7" y="224.8" width="44.3" height="22.6" fill="#f46868"/>
<rect x="1275.0" y="224.8" width="174.1" height="22.6" fill="#8086f8"/>
<rect x="797.0" y="246.4" width="66.5" height="22.6" fill="#fff000"/>
<rect x="862.5" y="246.4" width="22.8" height="22.6" fill="#ffff00"/>
<rect x="884.3" y="246.4" width="22.8" height="22.6" fill="#ffe400"/>
<rect x="906.1" y="246.4" width="22.8" height="22.6" fill="#ff9300"/>
<rect x="927.9" y="246.4" width="44.4" height="22.6" fill="#ffe400"/>
<rect x="971.3" y="246.4" width="22.7" height="22.6" fill="#ffff00"/>
<rect x="993.0" y="246.4" width="22.7" height="22.6" fill="#fafaf7"/>
<rect x="1014.6" y="246.4" width="196.4" height="22.6" fill="#f46868"/>
<rect x="1210.1" y="246.4" width="22.6" height="22.6" fill="#8086f8"/>
<rect x="1231.7" y="246.4" width="44.3" height="22.6" fill="#f46868"/>
<rect x="1275.0" y="246.4" width="44.3" height="22.6" fill="#8086f8"/>
<rect x="1318.3" y="246.4" width="22.6" height="22.6" fill="#f46868"/>
<rect x="1339.9" y="246.4" width="109.2" height="22.6" fill="#8086f8"/>
<rect x="797.0" y="267.9" width="22.8" height="22.6" fill="#ffff00"/>
<rect x="818.8" y="267.9" width="22.8" height="22.6" fill="#fff000"/>
<rect x="840.6" y="267.9" width="22.8" height="22.6" fill="#ffff00"/>
<rect x="862.5" y="267.9" width="22.8" height="22.6" fill="#ffd700"/>
<rect x="884.3" y="267.9" width="22.8" height="22.6" fill="#ffff00"/>
<rect x="906.1" y="267.9" width="22.8" height="22.6" fill="#ff9300"/>
<rect x="927.9" y="267.9" width="22.7" height="22.6" fill="#ffff00"/>
<rect x="949.6" y="267.9" width="66.1" height="22.6" fill="#ffe400"/>
<rect x="1014.6" y="267.9" width="22.7" height="22.6" fill="#f8f2e0"/>
<rect x="1036.3" y="267.9" width="22.7" height="22.6" fill="#f46868"/>
<rect x="1058.0" y="267.9" width="44.5" height="22.6" fill="#8086f8"/>
<rect x="1101.5" y="267.9" width="44.5" height="22.6" fill="#f46868"/>
<rect x="1144.9" y="267.9" width="22.7" height="22.6" fill="#8086f8"/>
<rect x="1166.7" y="267.9" width="44.4" height="22.6" fill="#f46868"/>
<rect x="1210.1" y="267.9" width="22.6" height="22.6" fill="#8086f8"/>
<rect x="1231.7" y="267.9" width="44.3" height="22.6" fill="#f46868"/>
<rect x="1275.0" y="267.9" width="44.3" height="22.6" fill="#8086f8"/>
<rect x="1318.3" y="267.9" width="130.8" height="22.6" fill="#f46868"/>
<rect x="797.0" y="289.5" width="88.3" height="22.6" fill="#ff9300"/>
<rect x="884.3" y="289.5" width="22.8" height="22.6" fill="#ffca00"/>
<rect x="906.1" y="289.5" width="22.8" height="22.6" fill="#ffff00"/>
<rect x="927.9" y="289.5" width="22.7" height="22.6" fill="#ffa400"/>
<rect x="949.6" y="289.5" width="22.7" height="22.6" fill="#ff9300"/>
<rect x="971.3" y="289.5" width="44.4" height="22.6" fill="#ffa400"/>
<rect x="1014.6" y="289.5" width="22.7" height="22.6" fill="#ff9300"/>
<rect x="1036.3" y="289.5" width="22.7" height="22.6" fill="#fafaf7"/>
<rect x="1058.0" y="289.5" width="218.0" height="22.6" fill="#f46868"/>
<rect x="1275.0" y="289.5" width="44.3" height="22.6" fill="#8086f8"/>
<rect x="1318.3" y="289.5" width="87.5" height="22.6" fill="#f46868"/>
<rect x="1404.8" y="289.5" width="44.3" height="22.6" fill="#8086f8"/>
<rect x="797.0" y="311.1" width="66.5" height="22.6" fill="#ffff00"/>
<rect x="862.5" y="311.1" width="22.8" height="22.6" fill="#ffe400"/>
<rect x="884.3" y="311.1" width="22.8" height="22.6" fill="#ffff00"/>
<rect x="906.1" y="311.1" width="22.8" height="22.6" fill="#ff9300"/>
<rect x="927.9" y="311.1" width="22.7" height="22.6" fill="#ffff00"/>
<rect x="949.6" y="311.1" width="44.4" height="22.6" fill="#fff000"/>
<rect x="993.0" y="311.1" width="22.7" height="22.6" fill="#ffe400"/>
<rect x="1014.6" y="311.1" width="22.7" height="22.6" fill="#ffff00"/>
<rect x="1036.3" y="311.1" width="22.7" height="22.6" fill="#ffa400"/>
<rect x="1058.0" y="311.1" width="22.7" height="22.6" fill="#fafaf7"/>
<rect x="1079.7" y="311.1" width="66.2" height="22.6" fill="#8086f8"/>
<rect x="1144.9" y="311.1" width="44.5" height="22.6" fill="#f46868"/>
<rect x="1188.4" y="311.1" width="44.3" height="22.6" fill="#8086f8"/>
<rect x="1231.7" y="311.1" width="44.3" height="22.6" fill="#f46868"/>
<rect x="1275.0" y="311.1" width="22.7" height="22.6" fill="#8086f8"/>
<rect x="1296.7" y="311.1" width="22.6" height="22.6" fill="#f46868"/>
<rect x="1318.3" y="311.1" width="65.9" height="22.6" fill="#8086f8"/>
<rect x="1383.2" y="311.1" width="22.6" height="22.6" fill="#f46868"/>
<rect x="1404.8" y="311.1" width="22.6" height="22.6" fill="#8086f8"/>
<rect x="1426.5" y="311.1" width="22.6" height="22.6" fill="#f46868"/>
<rect x="797.0" y="332.7" width="66.5" height="22.5" fill="#ffff00"/>
<rect x="862.5" y="332.7" width="22.8" height="22.5" fill="#ffe400"/>
<rect x="884.3" y="332.7" width="22.8" height="22.5" fill="#ffff00"/>
<rect x="906.1" y="332.7" width="22.8" height="22.5" fill="#ff9300"/>
<rect x="927.9" y="332.7" width="22.7" height="22.5" fill="#ffff00"/>
<rect x="949.6" y="332.7" width="44.4" height="22.5" fill="#fff000"/>
<rect x="993.0" y="332.7" width="22.7" height="22.5" fill="#ffe400"/>
<rect x="1014.6" y="332.7" width="22.7" height="22.5" fill="#ffff00"/>
<rect x="1036.3" y="332.7" width="22.7" height="22.5" fill="#ffa400"/>
<rect x="1058.0" y="332.7" width="22.7" height="22.5" fill="#ffff00"/>
<rect x="1079.7" y="332.7" width="22.7" height="22.5" fill="#fafaf7"/>
<rect x="1101.5" y="332.7" width="66.2" height="22.5" fill="#8086f8"/>
<rect x="1166.7" y="332.7" width="22.7" height="22.5" fill="#f46868"/>
<rect x="1188.4" y="332.7" width="109.2" height="22.5" fill="#8086f8"/>
<rect x="1296.7" y="332.7" width="22.6" height="22.5" fill="#f46868"/>
<rect x="1318.3" y="332.7" width="65.9" height="22.5" fill="#8086f8"/>
<rect x="1383.2" y="332.7" width="22.6" height="22.5" fill="#f46868"/>
<rect x="1404.8" y="332.7" width="22.6" height="22.5" fill="#8086f8"/>
<rect x="1426.5" y="332.7" width="22.6" height="22.5" fill="#f46868"/>
<rect x="797.0" y="354.2" width="66.5" height="22.6" fill="#ffe400"/>
<rect x="862.5" y="354.2" width="22.8" height="22.6" fill="#ffca00"/>
<rect x="884.3" y="354.2" width="22.8" height="22.6" fill="#ffff00"/>
<rect x="906.1" y="354.2" width="22.8" height="22.6" fill="#ff6b00"/>
<rect x="927.9" y="354.2" width="22.7" height="22.6" fill="#ffe400"/>
<rect x="949.6" y="354.2" width="22.7" height="22.6" fill="#ffd700"/>
<rect x="971.3" y="354.2" width="66.0" height="22.6" fill="#ffe400"/>
<rect x="1036.3" y="354.2" width="22.7" height="22.6" fill="#ffa400"/>
<rect x="1058.0" y="354.2" width="22.7" height="22.6" fill="#ffe400"/>
<rect x="1079.7" y="354.2" width="22.7" height="22.6" fill="#ffff00"/>
<rect x="1101.5" y="354.2" width="22.7" height="22.6" fill="#fafaf7"/>
<rect x="1123.2" y="354.2" width="44.5" height="22.6" fill="#8086f8"/>
<rect x="1166.7" y="354.2" width="22.7" height="22.6" fill="#f46868"/>
<rect x="1188.4" y="354.2" width="109.2" height="22.6" fill="#8086f8"/>
<rect x="1296.7" y="354.2" width="152.4" height="22.6" fill="#f46868"/>
<rect x="797.0" y="375.8" width="66.5" height="22.6" fill="#ffe400"/>
<rect x="862.5" y="375.8" width="22.8" height="22.6" fill="#ffca00"/>
<rect x="884.3" y="375.8" width="22.8" height="22.6" fill="#ffe400"/>
<rect x="906.1" y="375.8" width="22.8" height="22.6" fill="#ff6b00"/>
<rect x="927.9" y="375.8" width="22.7" height="22.6" fill="#ffe400"/>
<rect x="949.6" y="375.8" width="44.4" height="22.6" fill="#ffd700"/>
<rect x="993.0" y="375.8" width="22.7" height="22.6" fill="#ffca00"/>
<rect x="1014.6" y="375.8" width="22.7" height="22.6" fill="#ffe400"/>
<rect x="1036.3" y="375.8" width="22.7" height="22.6" fill="#ff6b00"/>
<rect x="1058.0" y="375.8" width="22.7" height="22.6" fill="#ffe400"/>
<rect x="1079.7" y="375.8" width="22.7" height="22.6" fill="#fff000"/>
<rect x="1101.5" y="375.8" width="22.7" height="22.6" fill="#ffe400"/>
<rect x="1123.2" y="375.8" width="22.7" height="22.6" fill="#fafaf7"/>
<rect x="1144.9" y="375.8" width="22.7" height="22.6" fill="#8086f8"/>
<rect x="1166.7" y="375.8" width="22.7" height="22.6" fill="#f46868"/>
<rect x="1188.4" y="375.8" width="87.6" height="22.6" fill="#8086f8"/>
<rect x="1275.0" y="375.8" width="44.3" height="22.6" fill="#f46868"/>
<rect x="1318.3" y="375.8" width="22.6" height="22.6" fill="#8086f8"/>
<rect x="1339.9" y="375.8" width="109.2" height="22.6" fill="#f46868"/>
<rect x="797.0" y="397.3" width="22.8" height="22.5" fill="#ffff00"/>
<rect x="818.8" y="397.3" width="44.6" height="22.5" fill="#ffe400"/>
<rect x="862.5" y="397.3" width="22.8" height="22.5" fill="#ffd700"/>
<rect x="884.3" y="397.3" width="22.8" height="22.5" fill="#ffe400"/>
<rect x="906.1" y="397.3" width="22.8" height="22.5" fill="#ff9300"/>
<rect x="927.9" y="397.3" width="66.1" height="22.5" fill="#ffe400"/>
<rect x="993.0" y="397.3" width="22.7" height="22.5" fill="#ffd700"/>
<rect x="1014.6" y="397.3" width="22.7" height="22.5" fill="#ffff00"/>
<rect x="1036.3" y="397.3" width="22.7" height="22.5" fill="#ff9300"/>
<rect x="1058.0" y="397.3" width="87.9" height="22.5" fill="#ffff00"/>
<rect x="1144.9" y="397.3" width="22.7" height="22.5" fill="#fafaf7"/>
<rect x="1166.7" y="397.3" width="66.0" height="22.5" fill="#f46868"/>
<rect x="1231.7" y="397.3" width="66.0" height="22.5" fill="#8086f8"/>
<rect x="1296.7" y="397.3" width="22.6" height="22.5" fill="#f46868"/>
<rect x="1318.3" y="397.3" width="22.6" height="22.5" fill="#8086f8"/>
<rect x="1339.9" y="397.3" width="109.2" height="22.5" fill="#f46868"/>
<rect x="797.0" y="418.8" width="110.1" height="22.6" fill="#ff6b00"/>
<rect x="906.1" y="418.8" width="22.8" height="22.6" fill="#f26a6a"/>
<rect x="927.9" y="418.8" width="174.6" height="22.6" fill="#ff6b00"/>
<rect x="1101.5" y="418.8" width="22.7" height="22.6" fill="#ff9300"/>
<rect x="1123.2" y="418.8" width="22.7" height="22.6" fill="#ff6b00"/>
<rect x="1144.9" y="418.8" width="22.7" height="22.6" fill="#ff9300"/>
<rect x="1166.7" y="418.8" width="22.7" height="22.6" fill="#fafaf7"/>
<rect x="1188.4" y="418.8" width="260.7" height="22.6" fill="#f46868"/>
<rect x="797.0" y="440.4" width="66.5" height="22.8" fill="#ffff00"/>
<rect x="862.5" y="440.4" width="44.6" height="22.8" fill="#fff000"/>
<rect x="906.1" y="440.4" width="22.8" height="22.8" fill="#ff9300"/>
<rect x="927.9" y="440.4" width="44.4" height="22.8" fill="#ffff00"/>
<rect x="971.3" y="440.4" width="22.7" height="22.8" fill="#fff000"/>
<rect x="993.0" y="440.4" width="22.7" height="22.8" fill="#ffe400"/>
<rect x="1014.6" y="440.4" width="22.7" height="22.8" fill="#fff000"/>
<rect x="1036.3" y="440.4" width="22.7" height="22.8" fill="#ff9300"/>
<rect x="1058.0" y="440.4" width="22.7" height="22.8" fill="#ffff00"/>
<rect x="1079.7" y="440.4" width="44.5" height="22.8" fill="#fff000"/>
<rect x="1123.2" y="440.4" width="22.7" height="22.8" fill="#ffe400"/>
<rect x="1144.9" y="440.4" width="22.7" height="22.8" fill="#fff000"/>
<rect x="1166.7" y="440.4" width="22.7" height="22.8" fill="#ff6b00"/>
<rect x="1188.4" y="440.4" width="22.7" height="22.8" fill="#fafaf7"/>
<rect x="1210.1" y="440.4" width="22.6" height="22.8" fill="#8086f8"/>
<rect x="1231.7" y="440.4" width="44.3" height="22.8" fill="#f46868"/>
<rect x="1275.0" y="440.4" width="22.7" height="22.8" fill="#8086f8"/>
<rect x="1296.7" y="440.4" width="22.6" height="22.8" fill="#f46868"/>
<rect x="1318.3" y="440.4" width="65.9" height="22.8" fill="#8086f8"/>
<rect x="1383.2" y="440.4" width="22.6" height="22.8" fill="#f46868"/>
<rect x="1404.8" y="440.4" width="22.6" height="22.8" fill="#8086f8"/>
<rect x="1426.5" y="440.4" width="22.6" height="22.8" fill="#f46868"/>
<rect x="797.0" y="462.2" width="66.5" height="22.8" fill="#ffff00"/>
<rect x="862.5" y="462.2" width="44.6" height="22.8" fill="#fff000"/>
<rect x="906.1" y="462.2" width="22.8" height="22.8" fill="#ff9300"/>
<rect x="927.9" y="462.2" width="22.7" height="22.8" fill="#ffff00"/>
<rect x="949.6" y="462.2" width="22.7" height="22.8" fill="#fff000"/>
<rect x="971.3" y="462.2" width="22.7" height="22.8" fill="#ffff00"/>
<rect x="993.0" y="462.2" width="22.7" height="22.8" fill="#ffe400"/>
<rect x="1014.6" y="462.2" width="22.7" height="22.8" fill="#ffff00"/>
<rect x="1036.3" y="462.2" width="22.7" height="22.8" fill="#ff9300"/>
<rect x="1058.0" y="462.2" width="22.7" height="22.8" fill="#ffff00"/>
<rect x="1079.7" y="462.2" width="44.5" height="22.8" fill="#fff000"/>
<rect x="1123.2" y="462.2" width="22.7" height="22.8" fill="#ffe400"/>
<rect x="1144.9" y="462.2" width="22.7" height="22.8" fill="#ffff00"/>
<rect x="1166.7" y="462.2" width="22.7" height="22.8" fill="#ff6b00"/>
<rect x="1188.4" y="462.2" width="22.7" height="22.8" fill="#ffff00"/>
<rect x="1210.1" y="462.2" width="22.6" height="22.8" fill="#fafaf7"/>
<rect x="1231.7" y="462.2" width="66.0" height="22.8" fill="#8086f8"/>
<rect x="1296.7" y="462.2" width="22.6" height="22.8" fill="#f46868"/>
<rect x="1318.3" y="462.2" width="109.2" height="22.8" fill="#8086f8"/>
<rect x="1426.5" y="462.2" width="22.6" height="22.8" fill="#f46868"/>
<rect x="797.0" y="484.0" width="66.5" height="22.8" fill="#ffe400"/>
<rect x="862.5" y="484.0" width="22.8" height="22.8" fill="#ffca00"/>
<rect x="884.3" y="484.0" width="22.8" height="22.8" fill="#ffe400"/>
<rect x="906.1" y="484.0" width="22.8" height="22.8" fill="#ff6b00"/>
<rect x="927.9" y="484.0" width="22.7" height="22.8" fill="#fff000"/>
<rect x="949.6" y="484.0" width="44.4" height="22.8" fill="#ffe400"/>
<rect x="993.0" y="484.0" width="22.7" height="22.8" fill="#ffd700"/>
<rect x="1014.6" y="484.0" width="22.7" height="22.8" fill="#ffe400"/>
<rect x="1036.3" y="484.0" width="22.7" height="22.8" fill="#ff9300"/>
<rect x="1058.0" y="484.0" width="66.2" height="22.8" fill="#ffff00"/>
<rect x="1123.2" y="484.0" width="22.7" height="22.8" fill="#ffe400"/>
<rect x="1144.9" y="484.0" width="22.7" height="22.8" fill="#ffff00"/>
<rect x="1166.7" y="484.0" width="22.7" height="22.8" fill="#ff9300"/>
<rect x="1188.4" y="484.0" width="22.7" height="22.8" fill="#fff000"/>
<rect x="1210.1" y="484.0" width="22.6" height="22.8" fill="#ffff00"/>
<rect x="1231.7" y="484.0" width="22.6" height="22.8" fill="#fafaf7"/>
<rect x="1253.3" y="484.0" width="22.7" height="22.8" fill="#8086f8"/>
<rect x="1275.0" y="484.0" width="44.3" height="22.8" fill="#f46868"/>
<rect x="1318.3" y="484.0" width="22.6" height="22.8" fill="#8086f8"/>
<rect x="1339.9" y="484.0" width="109.2" height="22.8" fill="#f46868"/>
<rect x="797.0" y="505.8" width="66.5" height="22.8" fill="#ffe400"/>
<rect x="862.5" y="505.8" width="22.8" height="22.8" fill="#ffca00"/>
<rect x="884.3" y="505.8" width="22.8" height="22.8" fill="#ffe400"/>
<rect x="906.1" y="505.8" width="22.8" height="22.8" fill="#ff6b00"/>
<rect x="927.9" y="505.8" width="66.1" height="22.8" fill="#ffe400"/>
<rect x="993.0" y="505.8" width="22.7" height="22.8" fill="#ffd700"/>
<rect x="1014.6" y="505.8" width="22.7" height="22.8" fill="#ffe400"/>
<rect x="1036.3" y="505.8" width="22.7" height="22.8" fill="#ff9300"/>
<rect x="1058.0" y="505.8" width="66.2" height="22.8" fill="#ffff00"/>
<rect x="1123.2" y="505.8" width="22.7" height="22.8" fill="#ffe400"/>
<rect x="1144.9" y="505.8" width="22.7" height="22.8" fill="#ffff00"/>
<rect x="1166.7" y="505.8" width="22.7" height="22.8" fill="#ff9300"/>
<rect x="1188.4" y="505.8" width="22.7" height="22.8" fill="#ffe400"/>
<rect x="1210.1" y="505.8" width="22.6" height="22.8" fill="#fff000"/>
<rect x="1231.7" y="505.8" width="22.6" height="22.8" fill="#ffff00"/>
<rect x="1253.3" y="505.8" width="22.7" height="22.8" fill="#fafaf7"/>
<rect x="1275.0" y="505.8" width="174.1" height="22.8" fill="#f46868"/>
<rect x="797.0" y="527.6" width="110.1" height="22.8" fill="#ffff00"/>
<rect x="906.1" y="527.6" width="22.8" height="22.8" fill="#ffca00"/>
<rect x="927.9" y="527.6" width="109.4" height="22.8" fill="#ffff00"/>
<rect x="1036.3" y="527.6" width="22.7" height="22.8" fill="#ffd700"/>
<rect x="1058.0" y="527.6" width="44.5" height="22.8" fill="#ffff00"/>
<rect x="1101.5" y="527.6" width="44.5" height="22.8" fill="#ffe400"/>
<rect x="1144.9" y="527.6" width="22.7" height="22.8" fill="#ffff00"/>
<rect x="1166.7" y="527.6" width="22.7" height="22.8" fill="#ff6b00"/>
<rect x="1188.4" y="527.6" width="44.3" height="22.8" fill="#ffff00"/>
<rect x="1231.7" y="527.6" width="44.3" height="22.8" fill="#fff000"/>
<rect x="1275.0" y="527.6" width="22.7" height="22.8" fill="#fafaf7"/>
<rect x="1296.7" y="527.6" width="152.4" height="22.8" fill="#8086f8"/>
<rect x="797.0" y="549.4" width="22.8" height="22.8" fill="#ffd700"/>
<rect x="818.8" y="549.4" width="44.6" height="22.8" fill="#ffe400"/>
<rect x="862.5" y="549.4" width="22.8" height="22.8" fill="#ffd700"/>
<rect x="884.3" y="549.4" width="44.6" height="22.8" fill="#ffff00"/>
<rect x="927.9" y="549.4" width="22.7" height="22.8" fill="#ffe400"/>
<rect x="949.6" y="549.4" width="22.7" height="22.8" fill="#ffca00"/>
<rect x="971.3" y="549.4" width="22.7" height="22.8" fill="#ffe400"/>
<rect x="993.0" y="549.4" width="22.7" height="22.8" fill="#ffff00"/>
<rect x="1014.6" y="549.4" width="22.7" height="22.8" fill="#ffd700"/>
<rect x="1036.3" y="549.4" width="22.7" height="22.8" fill="#ffff00"/>
<rect x="1058.0" y="549.4" width="66.2" height="22.8" fill="#ffd700"/>
<rect x="1123.2" y="549.4" width="22.7" height="22.8" fill="#ffca00"/>
<rect x="1144.9" y="549.4" width="22.7" height="22.8" fill="#ffd700"/>
<rect x="1166.7" y="549.4" width="22.7" height="22.8" fill="#ff6b00"/>
<rect x="1188.4" y="549.4" width="22.7" height="22.8" fill="#ffca00"/>
<rect x="1210.1" y="549.4" width="65.9" height="22.8" fill="#ffd700"/>
<rect x="1275.0" y="549.4" width="22.7" height="22.8" fill="#ffff00"/>
<rect x="1296.7" y="549.4" width="22.6" height="22.8" fill="#fafaf7"/>
<rect x="1318.3" y="549.4" width="130.8" height="22.8" fill="#8086f8"/>
<rect x="797.0" y="571.2" width="66.5" height="22.3" fill="#ffff00"/>
<rect x="862.5" y="571.2" width="22.8" height="22.3" fill="#fff000"/>
<rect x="884.3" y="571.2" width="22.8" height="22.3" fill="#ffff00"/>
<rect x="906.1" y="571.2" width="22.8" height="22.3" fill="#ff9300"/>
<rect x="927.9" y="571.2" width="22.7" height="22.3" fill="#ffff00"/>
<rect x="949.6" y="571.2" width="44.4" height="22.3" fill="#fff000"/>
<rect x="993.0" y="571.2" width="22.7" height="22.3" fill="#ffe400"/>
<rect x="1014.6" y="571.2" width="22.7" height="22.3" fill="#ffff00"/>
<rect x="1036.3" y="571.2" width="22.7" height="22.3" fill="#ffa400"/>
<rect x="1058.0" y="571.2" width="44.5" height="22.3" fill="#ffff00"/>
<rect x="1101.5" y="571.2" width="22.7" height="22.3" fill="#fff000"/>
<rect x="1123.2" y="571.2" width="22.7" height="22.3" fill="#ffe400"/>
<rect x="1144.9" y="571.2" width="22.7" height="22.3" fill="#ffff00"/>
<rect x="1166.7" y="571.2" width="22.7" height="22.3" fill="#ff9300"/>
<rect x="1188.4" y="571.2" width="65.9" height="22.3" fill="#ffff00"/>
<rect x="1253.3" y="571.2" width="22.7" height="22.3" fill="#fff000"/>
<rect x="1275.0" y="571.2" width="22.7" height="22.3" fill="#ffff00"/>
<rect x="1296.7" y="571.2" width="22.6" height="22.3" fill="#ffd700"/>
<rect x="1318.3" y="571.2" width="22.6" height="22.3" fill="#fafaf7"/>
<rect x="1339.9" y="571.2" width="87.5" height="22.3" fill="#8086f8"/>
<rect x="1426.5" y="571.2" width="22.6" height="22.3" fill="#f46868"/>
<rect x="797.0" y="592.5" width="66.5" height="22.3" fill="#ffff00"/>
<rect x="862.5" y="592.5" width="22.8" height="22.3" fill="#fff000"/>
<rect x="884.3" y="592.5" width="22.8" height="22.3" fill="#ffff00"/>
<rect x="906.1" y="592.5" width="22.8" height="22.3" fill="#ff9300"/>
<rect x="927.9" y="592.5" width="66.1" height="22.3" fill="#ffff00"/>
<rect x="993.0" y="592.5" width="44.4" height="22.3" fill="#fff000"/>
<rect x="1036.3" y="592.5" width="22.7" height="22.3" fill="#ffa400"/>
<rect x="1058.0" y="592.5" width="44.5" height="22.3" fill="#ffff00"/>
<rect x="1101.5" y="592.5" width="22.7" height="22.3" fill="#fff000"/>
<rect x="1123.2" y="592.5" width="22.7" height="22.3" fill="#ffe400"/>
<rect x="1144.9" y="592.5" width="22.7" height="22.3" fill="#fff000"/>
<rect x="1166.7" y="592.5" width="22.7" height="22.3" fill="#ff6b00"/>
<rect x="1188.4" y="592.5" width="44.3" height="22.3" fill="#ffff00"/>
<rect x="1231.7" y="592.5" width="22.6" height="22.3" fill="#fff000"/>
<rect x="1253.3" y="592.5" width="22.7" height="22.3" fill="#ffe400"/>
<rect x="1275.0" y="592.5" width="22.7" height="22.3" fill="#ffff00"/>
<rect x="1296.7" y="592.5" width="22.6" height="22.3" fill="#ffe400"/>
<rect x="1318.3" y="592.5" width="22.6" height="22.3" fill="#ffff00"/>
<rect x="1339.9" y="592.5" width="22.6" height="22.3" fill="#fafaf7"/>
<rect x="1361.6" y="592.5" width="65.9" height="22.3" fill="#8086f8"/>
<rect x="1426.5" y="592.5" width="22.6" height="22.3" fill="#f46868"/>
<rect x="797.0" y="613.8" width="110.1" height="22.3" fill="#ffff00"/>
<rect x="906.1" y="613.8" width="22.8" height="22.3" fill="#ff9300"/>
<rect x="927.9" y="613.8" width="87.7" height="22.3" fill="#ffff00"/>
<rect x="1014.6" y="613.8" width="22.7" height="22.3" fill="#ffe400"/>
<rect x="1036.3" y="613.8" width="22.7" height="22.3" fill="#ffa400"/>
<rect x="1058.0" y="613.8" width="109.7" height="22.3" fill="#ffe400"/>
<rect x="1166.7" y="613.8" width="22.7" height="22.3" fill="#ff6b00"/>
<rect x="1188.4" y="613.8" width="44.3" height="22.3" fill="#ffff00"/>
<rect x="1231.7" y="613.8" width="44.3" height="22.3" fill="#ffe400"/>
<rect x="1275.0" y="613.8" width="22.7" height="22.3" fill="#ffff00"/>
<rect x="1296.7" y="613.8" width="22.6" height="22.3" fill="#ffe400"/>
<rect x="1318.3" y="613.8" width="44.3" height="22.3" fill="#ffff00"/>
<rect x="1361.6" y="613.8" width="22.6" height="22.3" fill="#fafaf7"/>
<rect x="1383.2" y="613.8" width="65.9" height="22.3" fill="#8086f8"/>
<rect x="797.0" y="635.1" width="22.8" height="22.3" fill="#ffe400"/>
<rect x="818.8" y="635.1" width="88.3" height="22.3" fill="#ffff00"/>
<rect x="906.1" y="635.1" width="22.8" height="22.3" fill="#ff9300"/>
<rect x="927.9" y="635.1" width="44.4" height="22.3" fill="#ffe400"/>
<rect x="971.3" y="635.1" width="44.4" height="22.3" fill="#ffff00"/>
<rect x="1014.6" y="635.1" width="22.7" height="22.3" fill="#ffd700"/>
<rect x="1036.3" y="635.1" width="22.7" height="22.3" fill="#ffa400"/>
<rect x="1058.0" y="635.1" width="44.5" height="22.3" fill="#ffe400"/>
<rect x="1101.5" y="635.1" width="22.7" height="22.3" fill="#ffd700"/>
<rect x="1123.2" y="635.1" width="44.5" height="22.3" fill="#ffca00"/>
<rect x="1166.7" y="635.1" width="22.7" height="22.3" fill="#ff6b00"/>
<rect x="1188.4" y="635.1" width="44.3" height="22.3" fill="#ffd700"/>
<rect x="1231.7" y="635.1" width="22.6" height="22.3" fill="#ffca00"/>
<rect x="1253.3" y="635.1" width="22.7" height="22.3" fill="#ffd700"/>
<rect x="1275.0" y="635.1" width="65.9" height="22.3" fill="#ffe400"/>
<rect x="1339.9" y="635.1" width="44.3" height="22.3" fill="#ffff00"/>
<rect x="1383.2" y="635.1" width="22.6" height="22.3" fill="#fafaf7"/>
<rect x="1404.8" y="635.1" width="44.3" height="22.3" fill="#8086f8"/>
<rect x="797.0" y="656.4" width="110.1" height="22.3" fill="#ffff00"/>
<rect x="906.1" y="656.4" width="22.8" height="22.3" fill="#ffca00"/>
<rect x="927.9" y="656.4" width="22.7" height="22.3" fill="#ffff00"/>
<rect x="949.6" y="656.4" width="22.7" height="22.3" fill="#ffe400"/>
<rect x="971.3" y="656.4" width="44.4" height="22.3" fill="#ffff00"/>
<rect x="1014.6" y="656.4" width="22.7" height="22.3" fill="#ffe400"/>
<rect x="1036.3" y="656.4" width="22.7" height="22.3" fill="#ffd700"/>
<rect x="1058.0" y="656.4" width="22.7" height="22.3" fill="#ffff00"/>
<rect x="1079.7" y="656.4" width="44.5" height="22.3" fill="#ffe400"/>
<rect x="1123.2" y="656.4" width="22.7" height="22.3" fill="#ffca00"/>
<rect x="1144.9" y="656.4" width="22.7" height="22.3" fill="#ffe400"/>
<rect x="1166.7" y="656.4" width="22.7" height="22.3" fill="#ff6b00"/>
<rect x="1188.4" y="656.4" width="22.7" height="22.3" fill="#fff000"/>
<rect x="1210.1" y="656.4" width="22.6" height="22.3" fill="#ffff00"/>
<rect x="1231.7" y="656.4" width="44.3" height="22.3" fill="#ffe400"/>
<rect x="1275.0" y="656.4" width="44.3" height="22.3" fill="#ffff00"/>
<rect x="1318.3" y="656.4" width="22.6" height="22.3" fill="#ffe400"/>
<rect x="1339.9" y="656.4" width="65.9" height="22.3" fill="#ffff00"/>
<rect x="1404.8" y="656.4" width="22.6" height="22.3" fill="#fafaf7"/>
<rect x="1426.5" y="656.4" width="22.6" height="22.3" fill="#8086f8"/>
<rect x="797.0" y="677.7" width="22.8" height="22.3" fill="#ffd700"/>
<rect x="818.8" y="677.7" width="22.8" height="22.3" fill="#ffe400"/>
<rect x="840.6" y="677.7" width="22.8" height="22.3" fill="#ffd700"/>
<rect x="862.5" y="677.7" width="22.8" height="22.3" fill="#ffca00"/>
<rect x="884.3" y="677.7" width="44.6" height="22.3" fill="#ffff00"/>
<rect x="927.9" y="677.7" width="22.7" height="22.3" fill="#ffd700"/>
<rect x="949.6" y="677.7" width="22.7" height="22.3" fill="#ffca00"/>
<rect x="971.3" y="677.7" width="66.0" height="22.3" fill="#ffd700"/>
<rect x="1036.3" y="677.7" width="22.7" height="22.3" fill="#ffff00"/>
<rect x="1058.0" y="677.7" width="66.2" height="22.3" fill="#ffca00"/>
<rect x="1123.2" y="677.7" width="22.7" height="22.3" fill="#ffa400"/>
<rect x="1144.9" y="677.7" width="22.7" height="22.3" fill="#ffca00"/>
<rect x="1166.7" y="677.7" width="22.7" height="22.3" fill="#ff6b00"/>
<rect x="1188.4" y="677.7" width="22.7" height="22.3" fill="#ffca00"/>
<rect x="1210.1" y="677.7" width="22.6" height="22.3" fill="#ffd700"/>
<rect x="1231.7" y="677.7" width="44.3" height="22.3" fill="#ffca00"/>
<rect x="1275.0" y="677.7" width="44.3" height="22.3" fill="#ffff00"/>
<rect x="1318.3" y="677.7" width="22.6" height="22.3" fill="#ffca00"/>
<rect x="1339.9" y="677.7" width="22.6" height="22.3" fill="#ffd700"/>
<rect x="1361.6" y="677.7" width="44.3" height="22.3" fill="#ffe400"/>
<rect x="1404.8" y="677.7" width="22.6" height="22.3" fill="#ffff00"/>
<rect x="1426.5" y="677.7" width="22.6" height="22.3" fill="#fafaf7"/>
<rect x="926.8" y="48.5" width="2.3" height="650.5" fill="#4a4a4a"/>
<rect x="1056.8" y="48.5" width="2.3" height="650.5" fill="#4a4a4a"/>
<rect x="1187.2" y="48.5" width="2.3" height="650.5" fill="#4a4a4a"/>
<rect x="1317.1" y="48.5" width="2.3" height="650.5" fill="#4a4a4a"/>
<rect x="797.0" y="180.4" width="651.1" height="2.3" fill="#4a4a4a"/>
<rect x="797.0" y="310.0" width="651.1" height="2.3" fill="#4a4a4a"/>
<rect x="797.0" y="439.2" width="651.1" height="2.3" fill="#4a4a4a"/>
<rect x="797.0" y="570.1" width="651.1" height="2.3" fill="#4a4a4a"/>
<rect x="795.9" y="47.4" width="653.4" height="652.8" fill="none" stroke="#4a4a4a" stroke-width="2.3"/>
<rect x="1462.5" y="52.6" width="2.2" height="124.4" fill="#4a4a4a"/>
<text x="1467.9" y="66.4" font-size="18.0" textLength="22.4" lengthAdjust="spacingAndGlyphs">PA</text>
<text x="1468.5" y="88.7" font-size="18.0" textLength="23.4" lengthAdjust="spacingAndGlyphs">CP</text>
<text x="1467.7" y="110.0" font-size="18.0" textLength="25.5" lengthAdjust="spacingAndGlyphs">LH</text>
<text x="1468.9" y="131.5" font-size="18.0" textLength="24.9" lengthAdjust="spacingAndGlyphs">TH</text>
<text x="1467.7" y="154.1" font-size="18.0" textLength="28.1" lengthAdjust="spacingAndGlyphs">LM</text>
<text x="1469.3" y="176.1" font-size="18.0" textLength="23.7" lengthAdjust="spacingAndGlyphs">AC</text>
<rect x="1462.5" y="183.5" width="2.2" height="124.5" fill="#4a4a4a"/>
<text x="1467.9" y="197.2" font-size="18.0" textLength="22.4" lengthAdjust="spacingAndGlyphs">PA</text>
<text x="1468.5" y="220.2" font-size="18.0" textLength="23.4" lengthAdjust="spacingAndGlyphs">CP</text>
<text x="1467.7" y="241.5" font-size="18.0" textLength="25.5" lengthAdjust="spacingAndGlyphs">LH</text>
<text x="1468.9" y="263.2" font-size="18.0" textLength="24.9" lengthAdjust="spacingAndGlyphs">TH</text>
<text x="1467.7" y="284.9" font-size="18.0" textLength="28.1" lengthAdjust="spacingAndGlyphs">LM</text>
<text x="1469.3" y="307.0" font-size="18.0" textLength="23.7" lengthAdjust="spacingAndGlyphs">AC</text>
<rect x="1462.5" y="314.3" width="2.2" height="122.7" fill="#4a4a4a"/>
<text x="1467.9" y="328.6" font-size="18.0" textLength="22.4" lengthAdjust="spacingAndGlyphs">PA</text>
<text x="1468.5" y="351.0" font-size="18.0" textLength="23.4" lengthAdjust="spacingAndGlyphs">CP</text>
<text x="1467.7" y="372.4" font-size="18.0" textLength="25.5" lengthAdjust="spacingAndGlyphs">LH</text>
<text x="1468.9" y="394.2" font-size="18.0" textLength="24.9" lengthAdjust="spacingAndGlyphs">TH</text>
<text x="1467.7" y="416.7" font-size="18.0" textLength="28.1" lengthAdjust="spacingAndGlyphs">LM</text>
<text x="1469.3" y="439.0" font-size="18.0" textLength="23.7" lengthAdjust="spacingAndGlyphs">AC</text>
<rect x="1462.5" y="442.0" width="2.2" height="123.7" fill="#4a4a4a"/>
<text x="1467.9" y="456.6" font-size="18.0" textLength="22.4" lengthAdjust="spacingAndGlyphs">PA</text>
<text x="1468.5" y="478.3" font-size="18.0" textLength="23.4" lengthAdjust="spacingAndGlyphs">CP</text>
<text x="1467.7" y="500.6" font-size="18.0" textLength="25.5" lengthAdjust="spacingAndGlyphs">LH</text>
<text x="1468.9" y="522.0" font-size="18.0" textLength="24.9" lengthAdjust="spacingAndGlyphs">TH</text>
<text x="1467.7" y="544.3" font-size="18.0" textLength="28.1" lengthAdjust="spacingAndGlyphs">LM</text>
<text x="1469.3" y="565.7" font-size="18.0" textLength="23.7" lengthAdjust="spacingAndGlyphs">AC</text>
<rect x="1462.5" y="577.0" width="2.2" height="123.7" fill="#4a4a4a"/>
<text x="1467.9" y="591.2" font-size="18.0" textLength="22.4" lengthAdjust="spacingAndGlyphs">PA</text>
<text x="1468.5" y="612.9" font-size="18.0" textLength="23.4" lengthAdjust="spacingAndGlyphs">CP</text>
<text x="1467.7" y="634.6" font-size="18.0" textLength="25.5" lengthAdjust="spacingAndGlyphs">LH</text>
<text x="1468.9" y="656.6" font-size="18.0" textLength="24.9" lengthAdjust="spacingAndGlyphs">TH</text>
<text x="1467.7" y="678.3" font-size="18.0" textLength="28.1" lengthAdjust="spacingAndGlyphs">LM</text>
<text x="1469.3" y="700.0" font-size="18.0" textLength="23.7" lengthAdjust="spacingAndGlyphs">AC</text>
<text x="1502.8" y="123.8" font-size="30.0" textLength="70.4" lengthAdjust="spacingAndGlyphs">2012</text>
<text x="1502.8" y="258.5" font-size="30.0" textLength="69.7" lengthAdjust="spacingAndGlyphs">2014</text>
<text x="1502.8" y="386.1" font-size="30.0" textLength="70.1" lengthAdjust="spacingAndGlyphs">2015</text>
<text x="1502.8" y="512.4" font-size="30.0" textLength="70.4" lengthAdjust="spacingAndGlyphs">2016</text>
<text x="1502.8" y="644.8" font-size="30.0" textLength="70.4" lengthAdjust="spacingAndGlyphs">2017</text>
<rect x="798.9" y="714.9" width="128.8" height="2.2" fill="#4a4a4a"/>
<text x="794.9" y="736.7" font-size="16.14" textLength="129.3" lengthAdjust="spacingAndGlyphs" fill="#555">PA CP LH TH LM AC</text>
<rect x="932.5" y="714.9" width="126.5" height="2.2" fill="#4a4a4a"/>
<text x="930.6" y="736.7" font-size="16.14" textLength="129.0" lengthAdjust="spacingAndGlyphs" fill="#555">PA CP LH TH LM AC</text>
<rect x="1062.0" y="714.9" width="122.7" height="2.2" fill="#4a4a4a"/>
<text x="1059.3" y="736.7" font-size="16.14" textLength="130.1" lengthAdjust="spacingAndGlyphs" fill="#555">PA CP LH TH LM AC</text>
<rect x="1189.6" y="714.9" width="124.7" height="2.2" fill="#4a4a4a"/>
<text x="1191.7" y="736.7" font-size="16.14" textLength="129.3" lengthAdjust="spacingAndGlyphs" fill="#555">PA CP LH TH LM AC</text>
<rect x="1320.4" y="714.9" width="127.6" height="2.2" fill="#4a4a4a"/>
<text x="1329.4" y="736.7" font-size="16.14" textLength="128.4" lengthAdjust="spacingAndGlyphs" fill="#555">PA CP LH TH LM AC</text>
<text x="822.9" y="793.4" font-size="28.0" textLength="65.6" lengthAdjust="spacingAndGlyphs">2012</text>
<text x="953.7" y="793.4" font-size="28.0" textLength="67.0" lengthAdjust="spacingAndGlyphs">2014</text>
<text x="1078.0" y="793.4" font-size="28.0" textLength="67.4" lengthAdjust="spacingAndGlyphs">2015</text>
<text x="1207.5" y="793.4" font-size="28.0" textLength="67.7" lengthAdjust="spacingAndGlyphs">2016</text>
<text x="1337.1" y="793.4" font-size="28.0" textLength="66.2" lengthAdjust="spacingAndGlyphs">2017</text>
<text x="1621.0" y="447.0" font-size="52.14" textLength="165.8" lengthAdjust="spacingAndGlyphs">All data</text>
<defs><linearGradient id="g1" x1="0" y1="1" x2="0" y2="0"><stop offset="0" stop-color="#ffff00"/><stop offset="0.33" stop-color="#ffb400"/><stop offset="0.66" stop-color="#ff6400"/><stop offset="1" stop-color="#ff0000"/></linearGradient></defs>
<rect x="1621.5" y="482.0" width="30.4" height="207.5" fill="url(#g1)" stroke="#4a4a4a" stroke-width="2.2"/>
<rect x="1651.9" y="495.5" width="10.5" height="2.0" fill="#4a4a4a"/>
<text x="1668.9" y="505.0" font-size="23.57" textLength="51.4" lengthAdjust="spacingAndGlyphs">0.15</text>
<rect x="1651.9" y="557.0" width="10.5" height="2.0" fill="#4a4a4a"/>
<text x="1675.9" y="566.5" font-size="23.57" textLength="38.0" lengthAdjust="spacingAndGlyphs">0.1</text>
<rect x="1651.9" y="629.5" width="10.5" height="2.0" fill="#4a4a4a"/>
<text x="1668.9" y="639.0" font-size="23.57" textLength="51.4" lengthAdjust="spacingAndGlyphs">0.05</text>
<rect x="1651.9" y="688.5" width="10.5" height="2.0" fill="#4a4a4a"/>
<text x="1685.2" y="698.0" font-size="23.57" textLength="14.8" lengthAdjust="spacingAndGlyphs">0</text>
<text x="1722.4" y="600.0" font-size="54.29" textLength="27.8" lengthAdjust="spacingAndGlyphs">F</text>
<text x="1750.6" y="619.0" font-size="30.0" textLength="35.4" lengthAdjust="spacingAndGlyphs">ST</text>
<text x="8.0" y="858.2" font-size="31" font-weight="bold" fill="#000">C</text>
<rect x="131.6" y="877.5" width="24.8" height="25.0" fill="#fafaf7"/>
<rect x="155.4" y="877.5" width="329.3" height="25.0" fill="#8086f8"/>
<rect x="483.7" y="877.5" width="24.2" height="25.0" fill="#f46868"/>
<rect x="506.9" y="877.5" width="163.2" height="25.0" fill="#8086f8"/>
<rect x="669.1" y="877.5" width="116.3" height="25.0" fill="#f46868"/>
<rect x="131.6" y="901.5" width="24.8" height="25.0" fill="#ffff00"/>
<rect x="155.4" y="901.5" width="24.8" height="25.0" fill="#fafaf7"/>
<rect x="179.2" y="901.5" width="421.3" height="25.0" fill="#8086f8"/>
<rect x="599.5" y="901.5" width="24.2" height="25.0" fill="#f46868"/>
<rect x="622.7" y="901.5" width="47.4" height="25.0" fill="#8086f8"/>
<rect x="669.1" y="901.5" width="116.3" height="25.0" fill="#f46868"/>
<rect x="131.6" y="925.5" width="48.6" height="25.0" fill="#ffff00"/>
<rect x="179.2" y="925.5" width="24.8" height="25.0" fill="#fafaf7"/>
<rect x="202.9" y="925.5" width="281.8" height="25.0" fill="#8086f8"/>
<rect x="483.7" y="925.5" width="24.2" height="25.0" fill="#f46868"/>
<rect x="506.9" y="925.5" width="163.2" height="25.0" fill="#8086f8"/>
<rect x="669.1" y="925.5" width="116.3" height="25.0" fill="#f46868"/>
<rect x="131.6" y="949.5" width="72.3" height="25.0" fill="#ffff00"/>
<rect x="202.9" y="949.5" width="24.8" height="25.0" fill="#fafaf7"/>
<rect x="226.7" y="949.5" width="373.8" height="25.0" fill="#8086f8"/>
<rect x="599.5" y="949.5" width="24.2" height="25.0" fill="#f46868"/>
<rect x="622.7" y="949.5" width="47.4" height="25.0" fill="#8086f8"/>
<rect x="669.1" y="949.5" width="116.3" height="25.0" fill="#f46868"/>
<rect x="131.6" y="973.5" width="96.1" height="25.0" fill="#ffff00"/>
<rect x="226.7" y="973.5" width="24.8" height="25.0" fill="#fafaf7"/>
<rect x="250.5" y="973.5" width="234.2" height="25.0" fill="#8086f8"/>
<rect x="483.7" y="973.5" width="24.2" height="25.0" fill="#f46868"/>
<rect x="506.9" y="973.5" width="93.6" height="25.0" fill="#8086f8"/>
<rect x="599.5" y="973.5" width="24.2" height="25.0" fill="#f46868"/>
<rect x="622.7" y="973.5" width="24.2" height="25.0" fill="#8086f8"/>
<rect x="645.9" y="973.5" width="139.5" height="25.0" fill="#f46868"/>
<rect x="131.6" y="997.5" width="119.9" height="24.8" fill="#ffff00"/>
<rect x="250.5" y="997.5" width="24.5" height="24.8" fill="#fafaf7"/>
<rect x="274.0" y="997.5" width="396.1" height="24.8" fill="#8086f8"/>
<rect x="669.1" y="997.5" width="116.3" height="24.8" fill="#f46868"/>
<rect x="131.6" y="1021.3" width="143.4" height="24.8" fill="#ffff00"/>
<rect x="274.0" y="1021.3" width="24.5" height="24.8" fill="#f8f2e0"/>
<rect x="297.5" y="1021.3" width="303.0" height="24.8" fill="#8086f8"/>
<rect x="599.5" y="1021.3" width="24.2" height="24.8" fill="#f46868"/>
<rect x="622.7" y="1021.3" width="47.4" height="24.8" fill="#8086f8"/>
<rect x="669.1" y="1021.3" width="116.3" height="24.8" fill="#f46868"/>
<rect x="131.6" y="1045.1" width="166.9" height="24.8" fill="#ffff00"/>
<rect x="297.5" y="1045.1" width="24.5" height="24.8" fill="#fafaf7"/>
<rect x="320.9" y="1045.1" width="163.8" height="24.8" fill="#8086f8"/>
<rect x="483.7" y="1045.1" width="24.2" height="24.8" fill="#f46868"/>
<rect x="506.9" y="1045.1" width="93.6" height="24.8" fill="#8086f8"/>
<rect x="599.5" y="1045.1" width="24.2" height="24.8" fill="#f46868"/>
<rect x="622.7" y="1045.1" width="24.2" height="24.8" fill="#8086f8"/>
<rect x="645.9" y="1045.1" width="139.5" height="24.8" fill="#f46868"/>
<rect x="131.6" y="1068.9" width="190.3" height="24.8" fill="#ffff00"/>
<rect x="320.9" y="1068.9" width="24.5" height="24.8" fill="#fafaf7"/>
<rect x="344.4" y="1068.9" width="140.3" height="24.8" fill="#8086f8"/>
<rect x="483.7" y="1068.9" width="24.2" height="24.8" fill="#f46868"/>
<rect x="506.9" y="1068.9" width="93.6" height="24.8" fill="#8086f8"/>
<rect x="599.5" y="1068.9" width="24.2" height="24.8" fill="#f46868"/>
<rect x="622.7" y="1068.9" width="47.4" height="24.8" fill="#8086f8"/>
<rect x="669.1" y="1068.9" width="116.3" height="24.8" fill="#f46868"/>
<rect x="131.6" y="1092.7" width="213.8" height="24.8" fill="#ffff00"/>
<rect x="344.4" y="1092.7" width="24.5" height="24.8" fill="#fafaf7"/>
<rect x="367.9" y="1092.7" width="186.3" height="24.8" fill="#8086f8"/>
<rect x="553.2" y="1092.7" width="24.2" height="24.8" fill="#f46868"/>
<rect x="576.3" y="1092.7" width="93.8" height="24.8" fill="#8086f8"/>
<rect x="669.1" y="1092.7" width="116.3" height="24.8" fill="#f46868"/>
<rect x="131.6" y="1116.5" width="237.3" height="25.1" fill="#ffff00"/>
<rect x="367.9" y="1116.5" width="24.2" height="25.1" fill="#fafaf7"/>
<rect x="391.1" y="1116.5" width="93.6" height="25.1" fill="#8086f8"/>
<rect x="483.7" y="1116.5" width="24.2" height="25.1" fill="#f46868"/>
<rect x="506.9" y="1116.5" width="163.2" height="25.1" fill="#8086f8"/>
<rect x="669.1" y="1116.5" width="116.3" height="25.1" fill="#f46868"/>
<rect x="131.6" y="1140.6" width="260.5" height="25.1" fill="#ffff00"/>
<rect x="391.1" y="1140.6" width="24.2" height="25.1" fill="#fafaf7"/>
<rect x="414.2" y="1140.6" width="255.9" height="25.1" fill="#8086f8"/>
<rect x="669.1" y="1140.6" width="93.2" height="25.1" fill="#f46868"/>
<rect x="761.3" y="1140.6" width="24.1" height="25.1" fill="#8086f8"/>
<rect x="131.6" y="1164.8" width="143.4" height="25.1" fill="#ffff00"/>
<rect x="274.0" y="1164.8" width="24.5" height="25.1" fill="#fff000"/>
<rect x="297.5" y="1164.8" width="117.8" height="25.1" fill="#ffff00"/>
<rect x="414.2" y="1164.8" width="24.2" height="25.1" fill="#fafaf7"/>
<rect x="437.4" y="1164.8" width="47.3" height="25.1" fill="#8086f8"/>
<rect x="483.7" y="1164.8" width="24.2" height="25.1" fill="#f46868"/>
<rect x="506.9" y="1164.8" width="70.5" height="25.1" fill="#8086f8"/>
<rect x="576.3" y="1164.8" width="209.1" height="25.1" fill="#f46868"/>
<rect x="131.6" y="1188.9" width="306.8" height="25.1" fill="#ffff00"/>
<rect x="437.4" y="1188.9" width="24.2" height="25.1" fill="#fafaf7"/>
<rect x="460.5" y="1188.9" width="24.2" height="25.1" fill="#8086f8"/>
<rect x="483.7" y="1188.9" width="24.2" height="25.1" fill="#f46868"/>
<rect x="506.9" y="1188.9" width="70.5" height="25.1" fill="#8086f8"/>
<rect x="576.3" y="1188.9" width="209.1" height="25.1" fill="#f46868"/>
<rect x="131.6" y="1213.1" width="283.6" height="25.1" fill="#ffff00"/>
<rect x="414.2" y="1213.1" width="47.3" height="25.1" fill="#fff000"/>
<rect x="460.5" y="1213.1" width="24.2" height="25.1" fill="#fafaf7"/>
<rect x="483.7" y="1213.1" width="116.8" height="25.1" fill="#8086f8"/>
<rect x="599.5" y="1213.1" width="24.2" height="25.1" fill="#f46868"/>
<rect x="622.7" y="1213.1" width="47.4" height="25.1" fill="#8086f8"/>
<rect x="669.1" y="1213.1" width="116.3" height="25.1" fill="#f46868"/>
<rect x="131.6" y="1237.2" width="143.4" height="24.6" fill="#fff000"/>
<rect x="274.0" y="1237.2" width="24.5" height="24.6" fill="#ffff00"/>
<rect x="297.5" y="1237.2" width="24.5" height="24.6" fill="#fff000"/>
<rect x="320.9" y="1237.2" width="24.5" height="24.6" fill="#ffe400"/>
<rect x="344.4" y="1237.2" width="47.6" height="24.6" fill="#fff000"/>
<rect x="391.1" y="1237.2" width="24.2" height="24.6" fill="#ffff00"/>
<rect x="414.2" y="1237.2" width="47.3" height="24.6" fill="#ffe400"/>
<rect x="460.5" y="1237.2" width="24.2" height="24.6" fill="#ffff00"/>
<rect x="483.7" y="1237.2" width="24.2" height="24.6" fill="#fafaf7"/>
<rect x="506.9" y="1237.2" width="24.2" height="24.6" fill="#8086f8"/>
<rect x="530.0" y="1237.2" width="47.3" height="24.6" fill="#f46868"/>
<rect x="576.3" y="1237.2" width="24.2" height="24.6" fill="#8086f8"/>
<rect x="599.5" y="1237.2" width="24.2" height="24.6" fill="#f46868"/>
<rect x="622.7" y="1237.2" width="47.4" height="24.6" fill="#8086f8"/>
<rect x="669.1" y="1237.2" width="116.3" height="24.6" fill="#f46868"/>
<rect x="131.6" y="1260.8" width="376.3" height="24.6" fill="#ffff00"/>
<rect x="506.9" y="1260.8" width="24.2" height="24.6" fill="#fafaf7"/>
<rect x="530.0" y="1260.8" width="140.1" height="24.6" fill="#8086f8"/>
<rect x="669.1" y="1260.8" width="70.2" height="24.6" fill="#f46868"/>
<rect x="738.3" y="1260.8" width="47.1" height="24.6" fill="#8086f8"/>
<rect x="131.6" y="1284.3" width="143.4" height="24.6" fill="#ffff00"/>
<rect x="274.0" y="1284.3" width="24.5" height="24.6" fill="#fff000"/>
<rect x="297.5" y="1284.3" width="164.1" height="24.6" fill="#ffff00"/>
<rect x="460.5" y="1284.3" width="24.2" height="24.6" fill="#fff000"/>
<rect x="483.7" y="1284.3" width="24.2" height="24.6" fill="#ffe400"/>
<rect x="506.9" y="1284.3" width="24.2" height="24.6" fill="#ffff00"/>
<rect x="530.0" y="1284.3" width="24.2" height="24.6" fill="#fafaf7"/>
<rect x="553.2" y="1284.3" width="70.5" height="24.6" fill="#8086f8"/>
<rect x="622.7" y="1284.3" width="24.2" height="24.6" fill="#f46868"/>
<rect x="645.9" y="1284.3" width="24.2" height="24.6" fill="#8086f8"/>
<rect x="669.1" y="1284.3" width="70.2" height="24.6" fill="#f46868"/>
<rect x="738.3" y="1284.3" width="24.1" height="24.6" fill="#8086f8"/>
<rect x="761.3" y="1284.3" width="24.1" height="24.6" fill="#f46868"/>
<rect x="131.6" y="1307.9" width="24.8" height="24.6" fill="#ffff00"/>
<rect x="155.4" y="1307.9" width="24.8" height="24.6" fill="#fff000"/>
<rect x="179.2" y="1307.9" width="24.8" height="24.6" fill="#ffff00"/>
<rect x="202.9" y="1307.9" width="24.8" height="24.6" fill="#fff000"/>
<rect x="226.7" y="1307.9" width="24.8" height="24.6" fill="#ffff00"/>
<rect x="250.5" y="1307.9" width="48.0" height="24.6" fill="#fff000"/>
<rect x="297.5" y="1307.9" width="48.0" height="24.6" fill="#ffff00"/>
<rect x="344.4" y="1307.9" width="117.1" height="24.6" fill="#fff000"/>
<rect x="460.5" y="1307.9" width="24.2" height="24.6" fill="#ffe400"/>
<rect x="483.7" y="1307.9" width="24.2" height="24.6" fill="#ffd700"/>
<rect x="506.9" y="1307.9" width="24.2" height="24.6" fill="#fff000"/>
<rect x="530.0" y="1307.9" width="24.2" height="24.6" fill="#ffff00"/>
<rect x="553.2" y="1307.9" width="24.2" height="24.6" fill="#fafaf7"/>
<rect x="576.3" y="1307.9" width="24.2" height="24.6" fill="#f46868"/>
<rect x="599.5" y="1307.9" width="47.4" height="24.6" fill="#8086f8"/>
<rect x="645.9" y="1307.9" width="139.5" height="24.6" fill="#f46868"/>
<rect x="131.6" y="1331.4" width="283.6" height="24.6" fill="#ffff00"/>
<rect x="414.2" y="1331.4" width="47.3" height="24.6" fill="#fff000"/>
<rect x="460.5" y="1331.4" width="70.5" height="24.6" fill="#ffff00"/>
<rect x="530.0" y="1331.4" width="24.2" height="24.6" fill="#fff000"/>
<rect x="553.2" y="1331.4" width="24.2" height="24.6" fill="#ffe400"/>
<rect x="576.3" y="1331.4" width="24.2" height="24.6" fill="#fafaf7"/>
<rect x="599.5" y="1331.4" width="70.6" height="24.6" fill="#8086f8"/>
<rect x="669.1" y="1331.4" width="93.2" height="24.6" fill="#f46868"/>
<rect x="761.3" y="1331.4" width="24.1" height="24.6" fill="#8086f8"/>
<rect x="131.6" y="1355.0" width="143.4" height="25.0" fill="#fff000"/>
<rect x="274.0" y="1355.0" width="24.5" height="25.0" fill="#ffe400"/>
<rect x="297.5" y="1355.0" width="94.6" height="25.0" fill="#fff000"/>
<rect x="391.1" y="1355.0" width="24.2" height="25.0" fill="#ffe400"/>
<rect x="414.2" y="1355.0" width="47.3" height="25.0" fill="#fff000"/>
<rect x="460.5" y="1355.0" width="24.2" height="25.0" fill="#ffe400"/>
<rect x="483.7" y="1355.0" width="24.2" height="25.0" fill="#ffd700"/>
<rect x="506.9" y="1355.0" width="47.3" height="25.0" fill="#fff000"/>
<rect x="553.2" y="1355.0" width="47.3" height="25.0" fill="#ffe400"/>
<rect x="599.5" y="1355.0" width="24.2" height="25.0" fill="#fafaf7"/>
<rect x="622.7" y="1355.0" width="93.5" height="25.0" fill="#8086f8"/>
<rect x="715.2" y="1355.0" width="24.1" height="25.0" fill="#f46868"/>
<rect x="738.3" y="1355.0" width="47.1" height="25.0" fill="#8086f8"/>
<rect x="131.6" y="1379.0" width="283.6" height="25.0" fill="#ffff00"/>
<rect x="414.2" y="1379.0" width="47.3" height="25.0" fill="#fff000"/>
<rect x="460.5" y="1379.0" width="70.5" height="25.0" fill="#ffff00"/>
<rect x="530.0" y="1379.0" width="47.3" height="25.0" fill="#fff000"/>
<rect x="576.3" y="1379.0" width="47.4" height="25.0" fill="#ffff00"/>
<rect x="622.7" y="1379.0" width="24.2" height="25.0" fill="#fafaf7"/>
<rect x="645.9" y="1379.0" width="24.2" height="25.0" fill="#8086f8"/>
<rect x="669.1" y="1379.0" width="24.1" height="25.0" fill="#f46868"/>
<rect x="692.2" y="1379.0" width="24.1" height="25.0" fill="#8086f8"/>
<rect x="715.2" y="1379.0" width="24.1" height="25.0" fill="#f46868"/>
<rect x="738.3" y="1379.0" width="47.1" height="25.0" fill="#8086f8"/>
<rect x="131.6" y="1403.0" width="143.4" height="25.0" fill="#ffff00"/>
<rect x="274.0" y="1403.0" width="24.5" height="25.0" fill="#fff000"/>
<rect x="297.5" y="1403.0" width="24.5" height="25.0" fill="#ffff00"/>
<rect x="320.9" y="1403.0" width="24.5" height="25.0" fill="#fff000"/>
<rect x="344.4" y="1403.0" width="70.8" height="25.0" fill="#ffff00"/>
<rect x="414.2" y="1403.0" width="47.3" height="25.0" fill="#fff000"/>
<rect x="460.5" y="1403.0" width="70.5" height="25.0" fill="#ffff00"/>
<rect x="530.0" y="1403.0" width="24.2" height="25.0" fill="#fff000"/>
<rect x="553.2" y="1403.0" width="24.2" height="25.0" fill="#ffe400"/>
<rect x="576.3" y="1403.0" width="70.6" height="25.0" fill="#ffff00"/>
<rect x="645.9" y="1403.0" width="24.2" height="25.0" fill="#fafaf7"/>
<rect x="669.1" y="1403.0" width="24.1" height="25.0" fill="#f46868"/>
<rect x="692.2" y="1403.0" width="24.1" height="25.0" fill="#8086f8"/>
<rect x="715.2" y="1403.0" width="24.1" height="25.0" fill="#f46868"/>
<rect x="738.3" y="1403.0" width="47.1" height="25.0" fill="#8086f8"/>
<rect x="131.6" y="1427.0" width="260.5" height="25.1" fill="#ff9300"/>
<rect x="391.1" y="1427.0" width="24.2" height="25.1" fill="#ff7e00"/>
<rect x="414.2" y="1427.0" width="47.3" height="25.1" fill="#ff9300"/>
<rect x="460.5" y="1427.0" width="24.2" height="25.1" fill="#ff7e00"/>
<rect x="483.7" y="1427.0" width="24.2" height="25.1" fill="#ff5800"/>
<rect x="506.9" y="1427.0" width="93.6" height="25.1" fill="#ff7e00"/>
<rect x="599.5" y="1427.0" width="24.2" height="25.1" fill="#ffca00"/>
<rect x="622.7" y="1427.0" width="24.2" height="25.1" fill="#ffa400"/>
<rect x="645.9" y="1427.0" width="24.2" height="25.1" fill="#ffb800"/>
<rect x="669.1" y="1427.0" width="24.1" height="25.1" fill="#fafaf7"/>
<rect x="692.2" y="1427.0" width="24.1" height="25.1" fill="#8086f8"/>
<rect x="715.2" y="1427.0" width="24.1" height="25.1" fill="#f46868"/>
<rect x="738.3" y="1427.0" width="47.1" height="25.1" fill="#8086f8"/>
<rect x="131.6" y="1451.1" width="143.4" height="25.1" fill="#ffb800"/>
<rect x="274.0" y="1451.1" width="24.5" height="25.1" fill="#ffa400"/>
<rect x="297.5" y="1451.1" width="94.6" height="25.1" fill="#ffb800"/>
<rect x="391.1" y="1451.1" width="116.8" height="25.1" fill="#ffa400"/>
<rect x="506.9" y="1451.1" width="24.2" height="25.1" fill="#ffb800"/>
<rect x="530.0" y="1451.1" width="70.5" height="25.1" fill="#ffa400"/>
<rect x="599.5" y="1451.1" width="24.2" height="25.1" fill="#ffe400"/>
<rect x="622.7" y="1451.1" width="47.4" height="25.1" fill="#ffd700"/>
<rect x="669.1" y="1451.1" width="24.1" height="25.1" fill="#ffff00"/>
<rect x="692.2" y="1451.1" width="24.1" height="25.1" fill="#fafaf7"/>
<rect x="715.2" y="1451.1" width="24.1" height="25.1" fill="#f46868"/>
<rect x="738.3" y="1451.1" width="47.1" height="25.1" fill="#8086f8"/>
<rect x="131.6" y="1475.1" width="72.3" height="25.1" fill="#ff9300"/>
<rect x="202.9" y="1475.1" width="24.8" height="25.1" fill="#ff7e00"/>
<rect x="226.7" y="1475.1" width="24.8" height="25.1" fill="#ff9300"/>
<rect x="250.5" y="1475.1" width="48.0" height="25.1" fill="#ff7e00"/>
<rect x="297.5" y="1475.1" width="24.5" height="25.1" fill="#ff9300"/>
<rect x="320.9" y="1475.1" width="71.1" height="25.1" fill="#ff7e00"/>
<rect x="391.1" y="1475.1" width="24.2" height="25.1" fill="#ff5800"/>
<rect x="414.2" y="1475.1" width="47.3" height="25.1" fill="#ff7e00"/>
<rect x="460.5" y="1475.1" width="70.5" height="25.1" fill="#ff5800"/>
<rect x="530.0" y="1475.1" width="24.2" height="25.1" fill="#ff7e00"/>
<rect x="553.2" y="1475.1" width="116.9" height="25.1" fill="#ff5800"/>
<rect x="669.1" y="1475.1" width="47.1" height="25.1" fill="#f46868"/>
<rect x="715.2" y="1475.1" width="24.1" height="25.1" fill="#fafaf7"/>
<rect x="738.3" y="1475.1" width="47.1" height="25.1" fill="#f46868"/>
<rect x="131.6" y="1499.2" width="143.4" height="25.1" fill="#ffe400"/>
<rect x="274.0" y="1499.2" width="24.5" height="25.1" fill="#ffd700"/>
<rect x="297.5" y="1499.2" width="164.1" height="25.1" fill="#ffe400"/>
<rect x="460.5" y="1499.2" width="24.2" height="25.1" fill="#ffd700"/>
<rect x="483.7" y="1499.2" width="24.2" height="25.1" fill="#ffca00"/>
<rect x="506.9" y="1499.2" width="24.2" height="25.1" fill="#fff000"/>
<rect x="530.0" y="1499.2" width="24.2" height="25.1" fill="#ffe400"/>
<rect x="553.2" y="1499.2" width="47.3" height="25.1" fill="#ffd700"/>
<rect x="599.5" y="1499.2" width="70.6" height="25.1" fill="#ffff00"/>
<rect x="669.1" y="1499.2" width="24.1" height="25.1" fill="#ffd700"/>
<rect x="692.2" y="1499.2" width="24.1" height="25.1" fill="#ffff00"/>
<rect x="715.2" y="1499.2" width="24.1" height="25.1" fill="#ff7e00"/>
<rect x="738.3" y="1499.2" width="24.1" height="25.1" fill="#fafaf7"/>
<rect x="761.3" y="1499.2" width="24.1" height="25.1" fill="#8086f8"/>
<rect x="131.6" y="1523.2" width="329.9" height="25.1" fill="#ffe400"/>
<rect x="460.5" y="1523.2" width="24.2" height="25.1" fill="#ffd700"/>
<rect x="483.7" y="1523.2" width="24.2" height="25.1" fill="#ffca00"/>
<rect x="506.9" y="1523.2" width="47.3" height="25.1" fill="#ffe400"/>
<rect x="553.2" y="1523.2" width="24.2" height="25.1" fill="#ffd700"/>
<rect x="576.3" y="1523.2" width="24.2" height="25.1" fill="#ffe400"/>
<rect x="599.5" y="1523.2" width="70.6" height="25.1" fill="#ffff00"/>
<rect x="669.1" y="1523.2" width="24.1" height="25.1" fill="#fff000"/>
<rect x="692.2" y="1523.2" width="24.1" height="25.1" fill="#ffff00"/>
<rect x="715.2" y="1523.2" width="24.1" height="25.1" fill="#ff5800"/>
<rect x="738.3" y="1523.2" width="24.1" height="25.1" fill="#ffff00"/>
<rect x="761.3" y="1523.2" width="24.1" height="25.1" fill="#fafaf7"/>
<rect x="249.3" y="877.5" width="2.3" height="669.8" fill="#4a4a4a"/>
<rect x="366.8" y="877.5" width="2.3" height="669.8" fill="#4a4a4a"/>
<rect x="482.6" y="877.5" width="2.3" height="669.8" fill="#4a4a4a"/>
<rect x="598.4" y="877.5" width="2.3" height="669.8" fill="#4a4a4a"/>
<rect x="668.0" y="877.5" width="2.3" height="669.8" fill="#4a4a4a"/>
<rect x="131.6" y="996.4" width="652.8" height="2.3" fill="#4a4a4a"/>
<rect x="131.6" y="1115.3" width="652.8" height="2.3" fill="#4a4a4a"/>
<rect x="131.6" y="1236.0" width="652.8" height="2.3" fill="#4a4a4a"/>
<rect x="131.6" y="1353.8" width="652.8" height="2.3" fill="#4a4a4a"/>
<rect x="131.6" y="1425.8" width="652.8" height="2.3" fill="#4a4a4a"/>
<rect x="130.4" y="876.4" width="655.1" height="672.1" fill="none" stroke="#4a4a4a" stroke-width="2.3"/>
<text x="107.6" y="895.2" font-size="17.5" text-anchor="end" textLength="39.7" lengthAdjust="spacingAndGlyphs">2012</text>
<text x="107.6" y="917.8" font-size="17.5" text-anchor="end" textLength="39.7" lengthAdjust="spacingAndGlyphs">2014</text>
<text x="107.6" y="940.4" font-size="17.5" text-anchor="end" textLength="39.7" lengthAdjust="spacingAndGlyphs">2015</text>
<text x="107.6" y="963.0" font-size="17.5" text-anchor="end" textLength="39.7" lengthAdjust="spacingAndGlyphs">2016</text>
<text x="107.6" y="985.6" font-size="17.5" text-anchor="end" textLength="39.7" lengthAdjust="spacingAndGlyphs">2017</text>
<text x="107.6" y="1008.8" font-size="17.5" text-anchor="end" textLength="39.7" lengthAdjust="spacingAndGlyphs">2012</text>
<text x="107.6" y="1031.4" font-size="17.5" text-anchor="end" textLength="39.7" lengthAdjust="spacingAndGlyphs">2014</text>
<text x="107.6" y="1054.0" font-size="17.5" text-anchor="end" textLength="39.7" lengthAdjust="spacingAndGlyphs">2015</text>
<text x="107.6" y="1076.6" font-size="17.5" text-anchor="end" textLength="39.7" lengthAdjust="spacingAndGlyphs">2016</text>
<text x="107.6" y="1099.2" font-size="17.5" text-anchor="end" textLength="39.7" lengthAdjust="spacingAndGlyphs">2017</text>
<text x="107.6" y="1117.9" font-size="17.5" text-anchor="end" textLength="39.7" lengthAdjust="spacingAndGlyphs">2012</text>
<text x="107.6" y="1140.5" font-size="17.5" text-anchor="end" textLength="39.7" lengthAdjust="spacingAndGlyphs">2014</text>
<text x="107.6" y="1163.1" font-size="17.5" text-anchor="end" textLength="39.7" lengthAdjust="spacingAndGlyphs">2015</text>
<text x="107.6" y="1185.7" font-size="17.5" text-anchor="end" textLength="39.7" lengthAdjust="spacingAndGlyphs">2016</text>
<text x="107.6" y="1208.3" font-size="17.5" text-anchor="end" textLength="39.7" lengthAdjust="spacingAndGlyphs">2017</text>
<text x="107.6" y="1230.0" font-size="17.5" text-anchor="end" textLength="39.7" lengthAdjust="spacingAndGlyphs">2012</text>
<text x="107.6" y="1252.6" font-size="17.5" text-anchor="end" textLength="39.7" lengthAdjust="spacingAndGlyphs">2014</text>
<text x="107.6" y="1275.2" font-size="17.5" text-anchor="end" textLength="39.7" lengthAdjust="spacingAndGlyphs">2015</text>
<text x="107.6" y="1297.8" font-size="17.5" text-anchor="end" textLength="39.7" lengthAdjust="spacingAndGlyphs">2016</text>
<text x="107.6" y="1320.4" font-size="17.5" text-anchor="end" textLength="39.7" lengthAdjust="spacingAndGlyphs">2017</text>
<text x="107.6" y="1339.5" font-size="17.5" text-anchor="end" textLength="39.7" lengthAdjust="spacingAndGlyphs">2012</text>
<text x="107.6" y="1362.1" font-size="17.5" text-anchor="end" textLength="39.7" lengthAdjust="spacingAndGlyphs">2014</text>
<text x="107.6" y="1384.7" font-size="17.5" text-anchor="end" textLength="39.7" lengthAdjust="spacingAndGlyphs">2015</text>
<text x="107.6" y="1407.3" font-size="17.5" text-anchor="end" textLength="39.7" lengthAdjust="spacingAndGlyphs">2016</text>
<text x="107.6" y="1429.9" font-size="17.5" text-anchor="end" textLength="39.7" lengthAdjust="spacingAndGlyphs">2017</text>
<text x="107.6" y="1450.2" font-size="17.5" text-anchor="end" textLength="39.7" lengthAdjust="spacingAndGlyphs">2012</text>
<text x="107.6" y="1472.8" font-size="17.5" text-anchor="end" textLength="39.7" lengthAdjust="spacingAndGlyphs">2014</text>
<text x="107.6" y="1495.4" font-size="17.5" text-anchor="end" textLength="39.7" lengthAdjust="spacingAndGlyphs">2015</text>
<text x="107.6" y="1518.0" font-size="17.5" text-anchor="end" textLength="39.7" lengthAdjust="spacingAndGlyphs">2016</text>
<text x="107.6" y="1540.6" font-size="17.5" text-anchor="end" textLength="39.7" lengthAdjust="spacingAndGlyphs">2017</text>
<rect x="113.9" y="877.0" width="2.2" height="112.5" fill="#4a4a4a"/>
<rect x="113.9" y="995.0" width="2.2" height="104.8" fill="#4a4a4a"/>
<rect x="113.9" y="1105.7" width="2.2" height="105.0" fill="#4a4a4a"/>
<rect x="113.9" y="1216.7" width="2.2" height="103.3" fill="#4a4a4a"/>
<rect x="113.9" y="1326.0" width="2.2" height="106.0" fill="#4a4a4a"/>
<rect x="113.9" y="1434.5" width="2.2" height="107.2" fill="#4a4a4a"/>
<text x="17.0" y="948.6" font-size="25">PA</text>
<text x="17.0" y="1058.0" font-size="25">CP</text>
<text x="17.0" y="1167.6" font-size="25">LH</text>
<text x="17.0" y="1278.6" font-size="25">TH</text>
<text x="17.0" y="1389.0" font-size="25">LM</text>
<text x="17.0" y="1498.8" font-size="25">AC</text>
<rect x="131.6" y="1561.5" width="116.9" height="2.0" fill="#4a4a4a"/>
<text x="0" y="0" font-size="17.5" text-anchor="end" textLength="40.7" lengthAdjust="spacingAndGlyphs" transform="translate(148.9,1570.0) rotate(-90)">2012</text>
<text x="0" y="0" font-size="17.5" text-anchor="end" textLength="40.7" lengthAdjust="spacingAndGlyphs" transform="translate(173.1,1570.0) rotate(-90)">2014</text>
<text x="0" y="0" font-size="17.5" text-anchor="end" textLength="40.7" lengthAdjust="spacingAndGlyphs" transform="translate(195.4,1570.0) rotate(-90)">2015</text>
<text x="0" y="0" font-size="17.5" text-anchor="end" textLength="40.7" lengthAdjust="spacingAndGlyphs" transform="translate(220.3,1570.0) rotate(-90)">2016</text>
<text x="0" y="0" font-size="17.5" text-anchor="end" textLength="40.7" lengthAdjust="spacingAndGlyphs" transform="translate(244.3,1570.0) rotate(-90)">2017</text>
<rect x="250.0" y="1561.5" width="115.9" height="2.0" fill="#4a4a4a"/>
<text x="0" y="0" font-size="17.5" text-anchor="end" textLength="40.7" lengthAdjust="spacingAndGlyphs" transform="translate(270.0,1570.0) rotate(-90)">2012</text>
<text x="0" y="0" font-size="17.5" text-anchor="end" textLength="40.7" lengthAdjust="spacingAndGlyphs" transform="translate(292.4,1570.0) rotate(-90)">2014</text>
<text x="0" y="0" font-size="17.5" text-anchor="end" textLength="40.7" lengthAdjust="spacingAndGlyphs" transform="translate(312.4,1570.0) rotate(-90)">2015</text>
<text x="0" y="0" font-size="17.5" text-anchor="end" textLength="40.7" lengthAdjust="spacingAndGlyphs" transform="translate(334.7,1570.0) rotate(-90)">2016</text>
<text x="0" y="0" font-size="17.5" text-anchor="end" textLength="40.7" lengthAdjust="spacingAndGlyphs" transform="translate(359.5,1570.0) rotate(-90)">2017</text>
<rect x="367.4" y="1561.5" width="114.3" height="2.0" fill="#4a4a4a"/>
<text x="0" y="0" font-size="17.5" text-anchor="end" textLength="40.7" lengthAdjust="spacingAndGlyphs" transform="translate(386.1,1570.0) rotate(-90)">2012</text>
<text x="0" y="0" font-size="17.5" text-anchor="end" textLength="40.7" lengthAdjust="spacingAndGlyphs" transform="translate(408.8,1570.0) rotate(-90)">2014</text>
<text x="0" y="0" font-size="17.5" text-anchor="end" textLength="40.7" lengthAdjust="spacingAndGlyphs" transform="translate(430.7,1570.0) rotate(-90)">2015</text>
<text x="0" y="0" font-size="17.5" text-anchor="end" textLength="40.7" lengthAdjust="spacingAndGlyphs" transform="translate(453.2,1570.0) rotate(-90)">2016</text>
<text x="0" y="0" font-size="17.5" text-anchor="end" textLength="40.7" lengthAdjust="spacingAndGlyphs" transform="translate(475.2,1570.0) rotate(-90)">2017</text>
<rect x="483.2" y="1561.5" width="114.3" height="2.0" fill="#4a4a4a"/>
<text x="0" y="0" font-size="17.5" text-anchor="end" textLength="40.7" lengthAdjust="spacingAndGlyphs" transform="translate(502.1,1570.0) rotate(-90)">2012</text>
<text x="0" y="0" font-size="17.5" text-anchor="end" textLength="40.7" lengthAdjust="spacingAndGlyphs" transform="translate(524.4,1570.0) rotate(-90)">2014</text>
<text x="0" y="0" font-size="17.5" text-anchor="end" textLength="40.7" lengthAdjust="spacingAndGlyphs" transform="translate(546.7,1570.0) rotate(-90)">2015</text>
<text x="0" y="0" font-size="17.5" text-anchor="end" textLength="40.7" lengthAdjust="spacingAndGlyphs" transform="translate(569.0,1570.0) rotate(-90)">2016</text>
<text x="0" y="0" font-size="17.5" text-anchor="end" textLength="40.7" lengthAdjust="spacingAndGlyphs" transform="translate(591.3,1570.0) rotate(-90)">2017</text>
<rect x="599.0" y="1561.5" width="68.1" height="2.0" fill="#4a4a4a"/>
<text x="0" y="0" font-size="17.5" text-anchor="end" textLength="40.7" lengthAdjust="spacingAndGlyphs" transform="translate(618.8,1570.0) rotate(-90)">2012</text>
<text x="0" y="0" font-size="17.5" text-anchor="end" textLength="40.7" lengthAdjust="spacingAndGlyphs" transform="translate(641.4,1570.0) rotate(-90)">2016</text>
<text x="0" y="0" font-size="17.5" text-anchor="end" textLength="40.7" lengthAdjust="spacingAndGlyphs" transform="translate(665.2,1570.0) rotate(-90)">2017</text>
<rect x="668.6" y="1561.5" width="113.8" height="2.0" fill="#4a4a4a"/>
<text x="0" y="0" font-size="17.5" text-anchor="end" textLength="40.7" lengthAdjust="spacingAndGlyphs" transform="translate(689.0,1570.0) rotate(-90)">2012</text>
<text x="0" y="0" font-size="17.5" text-anchor="end" textLength="40.7" lengthAdjust="spacingAndGlyphs" transform="translate(710.4,1570.0) rotate(-90)">2014</text>
<text x="0" y="0" font-size="17.5" text-anchor="end" textLength="40.7" lengthAdjust="spacingAndGlyphs" transform="translate(733.1,1570.0) rotate(-90)">2015</text>
<text x="0" y="0" font-size="17.5" text-anchor="end" textLength="40.7" lengthAdjust="spacingAndGlyphs" transform="translate(755.7,1570.0) rotate(-90)">2016</text>
<text x="0" y="0" font-size="17.5" text-anchor="end" textLength="40.7" lengthAdjust="spacingAndGlyphs" transform="translate(777.9,1570.0) rotate(-90)">2017</text>
<text x="170.9" y="1639.6" font-size="25" text-anchor="middle" textLength="29.5" lengthAdjust="spacingAndGlyphs">PA</text>
<text x="296.5" y="1639.6" font-size="25" text-anchor="middle" textLength="32.0" lengthAdjust="spacingAndGlyphs">CP</text>
<text x="407.4" y="1639.6" font-size="25" text-anchor="middle" textLength="29.0" lengthAdjust="spacingAndGlyphs">LH</text>
<text x="523.5" y="1639.6" font-size="25" text-anchor="middle" textLength="33.0" lengthAdjust="spacingAndGlyphs">TH</text>
<text x="630.2" y="1639.6" font-size="25" text-anchor="middle" textLength="37.0" lengthAdjust="spacingAndGlyphs">LM</text>
<text x="737.4" y="1639.6" font-size="25" text-anchor="middle" textLength="32.0" lengthAdjust="spacingAndGlyphs">AC</text>
<text x="796.5" y="857.7" font-size="31" font-weight="bold" fill="#000">D</text>
<rect x="801.0" y="879.8" width="24.4" height="25.5" fill="#fafaf7"/>
<rect x="824.4" y="879.8" width="47.8" height="25.5" fill="#8086f8"/>
<rect x="871.2" y="879.8" width="24.4" height="25.5" fill="#f46868"/>
<rect x="894.6" y="879.8" width="24.4" height="25.5" fill="#8086f8"/>
<rect x="918.0" y="879.8" width="24.4" height="25.5" fill="#f46868"/>
<rect x="941.4" y="879.8" width="94.2" height="25.5" fill="#8086f8"/>
<rect x="1034.6" y="879.8" width="24.3" height="25.5" fill="#f46868"/>
<rect x="1057.9" y="879.8" width="93.3" height="25.5" fill="#8086f8"/>
<rect x="1150.2" y="879.8" width="24.1" height="25.5" fill="#f46868"/>
<rect x="1173.3" y="879.8" width="117.3" height="25.5" fill="#8086f8"/>
<rect x="1289.6" y="879.8" width="24.3" height="25.5" fill="#f46868"/>
<rect x="1312.9" y="879.8" width="118.6" height="25.5" fill="#8086f8"/>
<rect x="1430.5" y="879.8" width="24.5" height="25.5" fill="#f46868"/>
<rect x="801.0" y="904.3" width="24.4" height="25.5" fill="#ffff00"/>
<rect x="824.4" y="904.3" width="24.4" height="25.5" fill="#fafaf7"/>
<rect x="847.8" y="904.3" width="71.2" height="25.5" fill="#8086f8"/>
<rect x="918.0" y="904.3" width="24.4" height="25.5" fill="#f46868"/>
<rect x="941.4" y="904.3" width="94.2" height="25.5" fill="#8086f8"/>
<rect x="1034.6" y="904.3" width="24.3" height="25.5" fill="#f46868"/>
<rect x="1057.9" y="904.3" width="93.3" height="25.5" fill="#8086f8"/>
<rect x="1150.2" y="904.3" width="24.1" height="25.5" fill="#f46868"/>
<rect x="1173.3" y="904.3" width="117.3" height="25.5" fill="#8086f8"/>
<rect x="1289.6" y="904.3" width="24.3" height="25.5" fill="#f46868"/>
<rect x="1312.9" y="904.3" width="118.6" height="25.5" fill="#8086f8"/>
<rect x="1430.5" y="904.3" width="24.5" height="25.5" fill="#f46868"/>
<rect x="801.0" y="928.8" width="47.8" height="25.5" fill="#ffff00"/>
<rect x="847.8" y="928.8" width="24.4" height="25.5" fill="#fafaf7"/>
<rect x="871.2" y="928.8" width="24.4" height="25.5" fill="#f46868"/>
<rect x="894.6" y="928.8" width="24.4" height="25.5" fill="#8086f8"/>
<rect x="918.0" y="928.8" width="24.4" height="25.5" fill="#f46868"/>
<rect x="941.4" y="928.8" width="94.2" height="25.5" fill="#8086f8"/>
<rect x="1034.6" y="928.8" width="24.3" height="25.5" fill="#f46868"/>
<rect x="1057.9" y="928.8" width="93.3" height="25.5" fill="#8086f8"/>
<rect x="1150.2" y="928.8" width="24.1" height="25.5" fill="#f46868"/>
<rect x="1173.3" y="928.8" width="117.3" height="25.5" fill="#8086f8"/>
<rect x="1289.6" y="928.8" width="24.3" height="25.5" fill="#f46868"/>
<rect x="1312.9" y="928.8" width="118.6" height="25.5" fill="#8086f8"/>
<rect x="1430.5" y="928.8" width="24.5" height="25.5" fill="#f46868"/>
<rect x="801.0" y="953.4" width="71.2" height="25.5" fill="#fff000"/>
<rect x="871.2" y="953.4" width="24.4" height="25.5" fill="#fafaf7"/>
<rect x="894.6" y="953.4" width="47.8" height="25.5" fill="#f46868"/>
<rect x="941.4" y="953.4" width="94.2" height="25.5" fill="#8086f8"/>
<rect x="1034.6" y="953.4" width="139.7" height="25.5" fill="#f46868"/>
<rect x="1173.3" y="953.4" width="24.3" height="25.5" fill="#8086f8"/>
<rect x="1196.6" y="953.4" width="70.8" height="25.5" fill="#f46868"/>
<rect x="1266.4" y="953.4" width="24.3" height="25.5" fill="#8086f8"/>
<rect x="1289.6" y="953.4" width="47.8" height="25.5" fill="#f46868"/>
<rect x="1336.4" y="953.4" width="95.1" height="25.5" fill="#8086f8"/>
<rect x="1430.5" y="953.4" width="24.5" height="25.5" fill="#f46868"/>
<rect x="801.0" y="977.9" width="71.2" height="25.5" fill="#fff000"/>
<rect x="871.2" y="977.9" width="24.4" height="25.5" fill="#ffd700"/>
<rect x="894.6" y="977.9" width="24.4" height="25.5" fill="#fafaf7"/>
<rect x="918.0" y="977.9" width="24.4" height="25.5" fill="#8086f8"/>
<rect x="941.4" y="977.9" width="47.6" height="25.5" fill="#f46868"/>
<rect x="988.0" y="977.9" width="94.0" height="25.5" fill="#8086f8"/>
<rect x="1081.0" y="977.9" width="47.2" height="25.5" fill="#f46868"/>
<rect x="1127.1" y="977.9" width="24.1" height="25.5" fill="#8086f8"/>
<rect x="1150.2" y="977.9" width="93.9" height="25.5" fill="#f46868"/>
<rect x="1243.1" y="977.9" width="70.8" height="25.5" fill="#8086f8"/>
<rect x="1312.9" y="977.9" width="24.5" height="25.5" fill="#f46868"/>
<rect x="1336.4" y="977.9" width="24.5" height="25.5" fill="#8086f8"/>
<rect x="1359.9" y="977.9" width="24.5" height="25.5" fill="#f46868"/>
<rect x="1383.5" y="977.9" width="71.5" height="25.5" fill="#8086f8"/>
<rect x="801.0" y="1002.4" width="71.2" height="25.5" fill="#ff9300"/>
<rect x="871.2" y="1002.4" width="24.4" height="25.5" fill="#ff7e00"/>
<rect x="894.6" y="1002.4" width="24.4" height="25.5" fill="#ffd700"/>
<rect x="918.0" y="1002.4" width="24.4" height="25.5" fill="#fafaf7"/>
<rect x="941.4" y="1002.4" width="94.2" height="25.5" fill="#f46868"/>
<rect x="1034.6" y="1002.4" width="24.3" height="25.5" fill="#8086f8"/>
<rect x="1057.9" y="1002.4" width="232.7" height="25.5" fill="#f46868"/>
<rect x="1289.6" y="1002.4" width="24.3" height="25.5" fill="#8086f8"/>
<rect x="1312.9" y="1002.4" width="118.6" height="25.5" fill="#f46868"/>
<rect x="1430.5" y="1002.4" width="24.5" height="25.5" fill="#8086f8"/>
<rect x="801.0" y="1026.9" width="71.2" height="24.7" fill="#ffff00"/>
<rect x="871.2" y="1026.9" width="47.8" height="24.7" fill="#fff000"/>
<rect x="918.0" y="1026.9" width="24.4" height="24.7" fill="#ff9300"/>
<rect x="941.4" y="1026.9" width="24.3" height="24.7" fill="#fafaf7"/>
<rect x="964.7" y="1026.9" width="70.9" height="24.7" fill="#8086f8"/>
<rect x="1034.6" y="1026.9" width="24.3" height="24.7" fill="#f46868"/>
<rect x="1057.9" y="1026.9" width="93.3" height="24.7" fill="#8086f8"/>
<rect x="1150.2" y="1026.9" width="24.1" height="24.7" fill="#f46868"/>
<rect x="1173.3" y="1026.9" width="117.3" height="24.7" fill="#8086f8"/>
<rect x="1289.6" y="1026.9" width="24.3" height="24.7" fill="#f46868"/>
<rect x="1312.9" y="1026.9" width="118.6" height="24.7" fill="#8086f8"/>
<rect x="1430.5" y="1026.9" width="24.5" height="24.7" fill="#f46868"/>
<rect x="801.0" y="1050.6" width="94.6" height="24.7" fill="#ffff00"/>
<rect x="894.6" y="1050.6" width="24.4" height="24.7" fill="#ffe400"/>
<rect x="918.0" y="1050.6" width="24.4" height="24.7" fill="#ff9300"/>
<rect x="941.4" y="1050.6" width="24.3" height="24.7" fill="#ffff00"/>
<rect x="964.7" y="1050.6" width="24.3" height="24.7" fill="#fafaf7"/>
<rect x="988.0" y="1050.6" width="47.6" height="24.7" fill="#8086f8"/>
<rect x="1034.6" y="1050.6" width="24.3" height="24.7" fill="#f46868"/>
<rect x="1057.9" y="1050.6" width="93.3" height="24.7" fill="#8086f8"/>
<rect x="1150.2" y="1050.6" width="24.1" height="24.7" fill="#f46868"/>
<rect x="1173.3" y="1050.6" width="117.3" height="24.7" fill="#8086f8"/>
<rect x="1289.6" y="1050.6" width="24.3" height="24.7" fill="#f46868"/>
<rect x="1312.9" y="1050.6" width="118.6" height="24.7" fill="#8086f8"/>
<rect x="1430.5" y="1050.6" width="24.5" height="24.7" fill="#f46868"/>
<rect x="801.0" y="1074.4" width="94.6" height="24.7" fill="#ffff00"/>
<rect x="894.6" y="1074.4" width="24.4" height="24.7" fill="#ffe400"/>
<rect x="918.0" y="1074.4" width="24.4" height="24.7" fill="#ff7e00"/>
<rect x="941.4" y="1074.4" width="47.6" height="24.7" fill="#ffff00"/>
<rect x="988.0" y="1074.4" width="24.3" height="24.7" fill="#fafaf7"/>
<rect x="1011.3" y="1074.4" width="24.3" height="24.7" fill="#8086f8"/>
<rect x="1034.6" y="1074.4" width="24.3" height="24.7" fill="#f46868"/>
<rect x="1057.9" y="1074.4" width="93.3" height="24.7" fill="#8086f8"/>
<rect x="1150.2" y="1074.4" width="24.1" height="24.7" fill="#f46868"/>
<rect x="1173.3" y="1074.4" width="117.3" height="24.7" fill="#8086f8"/>
<rect x="1289.6" y="1074.4" width="24.3" height="24.7" fill="#f46868"/>
<rect x="1312.9" y="1074.4" width="142.1" height="24.7" fill="#8086f8"/>
<rect x="801.0" y="1098.1" width="118.0" height="24.7" fill="#ffff00"/>
<rect x="918.0" y="1098.1" width="24.4" height="24.7" fill="#ff9300"/>
<rect x="941.4" y="1098.1" width="70.9" height="24.7" fill="#ffff00"/>
<rect x="1011.3" y="1098.1" width="24.3" height="24.7" fill="#fafaf7"/>
<rect x="1034.6" y="1098.1" width="24.3" height="24.7" fill="#f46868"/>
<rect x="1057.9" y="1098.1" width="93.3" height="24.7" fill="#8086f8"/>
<rect x="1150.2" y="1098.1" width="24.1" height="24.7" fill="#f46868"/>
<rect x="1173.3" y="1098.1" width="281.7" height="24.7" fill="#8086f8"/>
<rect x="801.0" y="1121.9" width="71.2" height="24.7" fill="#ffb800"/>
<rect x="871.2" y="1121.9" width="24.4" height="24.7" fill="#ffa400"/>
<rect x="894.6" y="1121.9" width="24.4" height="24.7" fill="#fff000"/>
<rect x="918.0" y="1121.9" width="24.4" height="24.7" fill="#ffff00"/>
<rect x="941.4" y="1121.9" width="24.3" height="24.7" fill="#ffb800"/>
<rect x="964.7" y="1121.9" width="47.6" height="24.7" fill="#ffa400"/>
<rect x="1011.3" y="1121.9" width="24.3" height="24.7" fill="#ffd700"/>
<rect x="1034.6" y="1121.9" width="24.3" height="24.7" fill="#fafaf7"/>
<rect x="1057.9" y="1121.9" width="209.5" height="24.7" fill="#f46868"/>
<rect x="1266.4" y="1121.9" width="47.5" height="24.7" fill="#8086f8"/>
<rect x="1312.9" y="1121.9" width="95.1" height="24.7" fill="#f46868"/>
<rect x="1407.0" y="1121.9" width="48.0" height="24.7" fill="#8086f8"/>
<rect x="801.0" y="1145.6" width="71.2" height="24.9" fill="#ffff00"/>
<rect x="871.2" y="1145.6" width="47.8" height="24.9" fill="#fff000"/>
<rect x="918.0" y="1145.6" width="24.4" height="24.9" fill="#ff9300"/>
<rect x="941.4" y="1145.6" width="94.2" height="24.9" fill="#ffff00"/>
<rect x="1034.6" y="1145.6" width="24.3" height="24.9" fill="#ffa400"/>
<rect x="1057.9" y="1145.6" width="24.1" height="24.9" fill="#fafaf7"/>
<rect x="1081.0" y="1145.6" width="70.2" height="24.9" fill="#8086f8"/>
<rect x="1150.2" y="1145.6" width="24.1" height="24.9" fill="#f46868"/>
<rect x="1173.3" y="1145.6" width="117.3" height="24.9" fill="#8086f8"/>
<rect x="1289.6" y="1145.6" width="24.3" height="24.9" fill="#f46868"/>
<rect x="1312.9" y="1145.6" width="118.6" height="24.9" fill="#8086f8"/>
<rect x="1430.5" y="1145.6" width="24.5" height="24.9" fill="#f46868"/>
<rect x="801.0" y="1169.5" width="71.2" height="24.9" fill="#ffff00"/>
<rect x="871.2" y="1169.5" width="47.8" height="24.9" fill="#fff000"/>
<rect x="918.0" y="1169.5" width="24.4" height="24.9" fill="#ff9300"/>
<rect x="941.4" y="1169.5" width="94.2" height="24.9" fill="#ffff00"/>
<rect x="1034.6" y="1169.5" width="24.3" height="24.9" fill="#ffa400"/>
<rect x="1057.9" y="1169.5" width="24.1" height="24.9" fill="#ffff00"/>
<rect x="1081.0" y="1169.5" width="24.1" height="24.9" fill="#fafaf7"/>
<rect x="1104.1" y="1169.5" width="47.2" height="24.9" fill="#8086f8"/>
<rect x="1150.2" y="1169.5" width="24.1" height="24.9" fill="#f46868"/>
<rect x="1173.3" y="1169.5" width="117.3" height="24.9" fill="#8086f8"/>
<rect x="1289.6" y="1169.5" width="24.3" height="24.9" fill="#f46868"/>
<rect x="1312.9" y="1169.5" width="95.1" height="24.9" fill="#8086f8"/>
<rect x="1407.0" y="1169.5" width="48.0" height="24.9" fill="#f46868"/>
<rect x="801.0" y="1193.3" width="71.2" height="24.9" fill="#ffff00"/>
<rect x="871.2" y="1193.3" width="24.4" height="24.9" fill="#ffe400"/>
<rect x="894.6" y="1193.3" width="24.4" height="24.9" fill="#fff000"/>
<rect x="918.0" y="1193.3" width="24.4" height="24.9" fill="#ff9300"/>
<rect x="941.4" y="1193.3" width="24.3" height="24.9" fill="#ffff00"/>
<rect x="964.7" y="1193.3" width="24.3" height="24.9" fill="#fff000"/>
<rect x="988.0" y="1193.3" width="47.6" height="24.9" fill="#ffff00"/>
<rect x="1034.6" y="1193.3" width="24.3" height="24.9" fill="#ffa400"/>
<rect x="1057.9" y="1193.3" width="47.2" height="24.9" fill="#ffff00"/>
<rect x="1104.1" y="1193.3" width="24.1" height="24.9" fill="#fafaf7"/>
<rect x="1127.1" y="1193.3" width="24.1" height="24.9" fill="#8086f8"/>
<rect x="1150.2" y="1193.3" width="24.1" height="24.9" fill="#f46868"/>
<rect x="1173.3" y="1193.3" width="94.1" height="24.9" fill="#8086f8"/>
<rect x="1266.4" y="1193.3" width="47.5" height="24.9" fill="#f46868"/>
<rect x="1312.9" y="1193.3" width="71.5" height="24.9" fill="#8086f8"/>
<rect x="1383.5" y="1193.3" width="71.5" height="24.9" fill="#f46868"/>
<rect x="801.0" y="1217.2" width="71.2" height="24.9" fill="#ffff00"/>
<rect x="871.2" y="1217.2" width="24.4" height="24.9" fill="#ffe400"/>
<rect x="894.6" y="1217.2" width="24.4" height="24.9" fill="#fff000"/>
<rect x="918.0" y="1217.2" width="24.4" height="24.9" fill="#ff7e00"/>
<rect x="941.4" y="1217.2" width="24.3" height="24.9" fill="#ffff00"/>
<rect x="964.7" y="1217.2" width="24.3" height="24.9" fill="#fff000"/>
<rect x="988.0" y="1217.2" width="47.6" height="24.9" fill="#ffff00"/>
<rect x="1034.6" y="1217.2" width="24.3" height="24.9" fill="#ffa400"/>
<rect x="1057.9" y="1217.2" width="70.2" height="24.9" fill="#ffff00"/>
<rect x="1127.1" y="1217.2" width="24.1" height="24.9" fill="#f8f2e0"/>
<rect x="1150.2" y="1217.2" width="24.1" height="24.9" fill="#f46868"/>
<rect x="1173.3" y="1217.2" width="94.1" height="24.9" fill="#8086f8"/>
<rect x="1266.4" y="1217.2" width="24.3" height="24.9" fill="#f46868"/>
<rect x="1289.6" y="1217.2" width="141.8" height="24.9" fill="#8086f8"/>
<rect x="1430.5" y="1217.2" width="24.5" height="24.9" fill="#f46868"/>
<rect x="801.0" y="1241.0" width="71.2" height="24.9" fill="#ff7e00"/>
<rect x="871.2" y="1241.0" width="47.8" height="24.9" fill="#ff5800"/>
<rect x="918.0" y="1241.0" width="24.4" height="24.9" fill="#f26a6a"/>
<rect x="941.4" y="1241.0" width="47.6" height="24.9" fill="#ff7e00"/>
<rect x="988.0" y="1241.0" width="47.6" height="24.9" fill="#ff5800"/>
<rect x="1034.6" y="1241.0" width="24.3" height="24.9" fill="#f26a6a"/>
<rect x="1057.9" y="1241.0" width="93.3" height="24.9" fill="#ff7e00"/>
<rect x="1150.2" y="1241.0" width="24.1" height="24.9" fill="#fafaf7"/>
<rect x="1173.3" y="1241.0" width="281.7" height="24.9" fill="#f46868"/>
<rect x="801.0" y="1264.9" width="71.2" height="25.0" fill="#ffff00"/>
<rect x="871.2" y="1264.9" width="24.4" height="25.0" fill="#fff000"/>
<rect x="894.6" y="1264.9" width="24.4" height="25.0" fill="#ffff00"/>
<rect x="918.0" y="1264.9" width="24.4" height="25.0" fill="#ff9300"/>
<rect x="941.4" y="1264.9" width="94.2" height="25.0" fill="#ffff00"/>
<rect x="1034.6" y="1264.9" width="24.3" height="25.0" fill="#ffb800"/>
<rect x="1057.9" y="1264.9" width="93.3" height="25.0" fill="#ffff00"/>
<rect x="1150.2" y="1264.9" width="24.1" height="25.0" fill="#ff7e00"/>
<rect x="1173.3" y="1264.9" width="24.3" height="25.0" fill="#fafaf7"/>
<rect x="1196.6" y="1264.9" width="94.1" height="25.0" fill="#8086f8"/>
<rect x="1289.6" y="1264.9" width="24.3" height="25.0" fill="#f46868"/>
<rect x="1312.9" y="1264.9" width="118.6" height="25.0" fill="#8086f8"/>
<rect x="1430.5" y="1264.9" width="24.5" height="25.0" fill="#f46868"/>
<rect x="801.0" y="1288.9" width="71.2" height="24.9" fill="#ffff00"/>
<rect x="871.2" y="1288.9" width="24.4" height="24.9" fill="#fff000"/>
<rect x="894.6" y="1288.9" width="24.4" height="24.9" fill="#ffff00"/>
<rect x="918.0" y="1288.9" width="24.4" height="24.9" fill="#ff9300"/>
<rect x="941.4" y="1288.9" width="94.2" height="24.9" fill="#ffff00"/>
<rect x="1034.6" y="1288.9" width="24.3" height="24.9" fill="#ffb800"/>
<rect x="1057.9" y="1288.9" width="93.3" height="24.9" fill="#ffff00"/>
<rect x="1150.2" y="1288.9" width="24.1" height="24.9" fill="#ff7e00"/>
<rect x="1173.3" y="1288.9" width="24.3" height="24.9" fill="#ffff00"/>
<rect x="1196.6" y="1288.9" width="24.3" height="24.9" fill="#fafaf7"/>
<rect x="1219.8" y="1288.9" width="70.8" height="24.9" fill="#8086f8"/>
<rect x="1289.6" y="1288.9" width="24.3" height="24.9" fill="#f46868"/>
<rect x="1312.9" y="1288.9" width="118.6" height="24.9" fill="#8086f8"/>
<rect x="1430.5" y="1288.9" width="24.5" height="24.9" fill="#f46868"/>
<rect x="801.0" y="1312.8" width="71.2" height="25.0" fill="#ffff00"/>
<rect x="871.2" y="1312.8" width="24.4" height="25.0" fill="#fff000"/>
<rect x="894.6" y="1312.8" width="24.4" height="25.0" fill="#ffff00"/>
<rect x="918.0" y="1312.8" width="24.4" height="25.0" fill="#ff9300"/>
<rect x="941.4" y="1312.8" width="94.2" height="25.0" fill="#ffff00"/>
<rect x="1034.6" y="1312.8" width="24.3" height="25.0" fill="#ffa400"/>
<rect x="1057.9" y="1312.8" width="93.3" height="25.0" fill="#ffff00"/>
<rect x="1150.2" y="1312.8" width="24.1" height="25.0" fill="#ff7e00"/>
<rect x="1173.3" y="1312.8" width="47.5" height="25.0" fill="#ffff00"/>
<rect x="1219.8" y="1312.8" width="24.3" height="25.0" fill="#fafaf7"/>
<rect x="1243.1" y="1312.8" width="24.3" height="25.0" fill="#8086f8"/>
<rect x="1266.4" y="1312.8" width="47.5" height="25.0" fill="#f46868"/>
<rect x="1312.9" y="1312.8" width="71.5" height="25.0" fill="#8086f8"/>
<rect x="1383.5" y="1312.8" width="71.5" height="25.0" fill="#f46868"/>
<rect x="801.0" y="1336.8" width="24.4" height="25.0" fill="#ffff00"/>
<rect x="824.4" y="1336.8" width="47.8" height="25.0" fill="#fff000"/>
<rect x="871.2" y="1336.8" width="24.4" height="25.0" fill="#ffd700"/>
<rect x="894.6" y="1336.8" width="24.4" height="25.0" fill="#fff000"/>
<rect x="918.0" y="1336.8" width="24.4" height="25.0" fill="#ff5800"/>
<rect x="941.4" y="1336.8" width="24.3" height="25.0" fill="#ffff00"/>
<rect x="964.7" y="1336.8" width="70.9" height="25.0" fill="#fff000"/>
<rect x="1034.6" y="1336.8" width="24.3" height="25.0" fill="#ffa400"/>
<rect x="1057.9" y="1336.8" width="47.2" height="25.0" fill="#ffff00"/>
<rect x="1104.1" y="1336.8" width="24.1" height="25.0" fill="#fff000"/>
<rect x="1127.1" y="1336.8" width="24.1" height="25.0" fill="#ffff00"/>
<rect x="1150.2" y="1336.8" width="24.1" height="25.0" fill="#ff5800"/>
<rect x="1173.3" y="1336.8" width="24.3" height="25.0" fill="#fff000"/>
<rect x="1196.6" y="1336.8" width="24.3" height="25.0" fill="#ffff00"/>
<rect x="1219.8" y="1336.8" width="24.3" height="25.0" fill="#fff000"/>
<rect x="1243.1" y="1336.8" width="24.3" height="25.0" fill="#fafaf7"/>
<rect x="1266.4" y="1336.8" width="24.3" height="25.0" fill="#8086f8"/>
<rect x="1289.6" y="1336.8" width="24.3" height="25.0" fill="#f46868"/>
<rect x="1312.9" y="1336.8" width="24.5" height="25.0" fill="#8086f8"/>
<rect x="1336.4" y="1336.8" width="24.5" height="25.0" fill="#f46868"/>
<rect x="1359.9" y="1336.8" width="24.5" height="25.0" fill="#8086f8"/>
<rect x="1383.5" y="1336.8" width="71.5" height="25.0" fill="#f46868"/>
<rect x="801.0" y="1360.7" width="118.0" height="24.9" fill="#ffff00"/>
<rect x="918.0" y="1360.7" width="24.4" height="24.9" fill="#ffa400"/>
<rect x="941.4" y="1360.7" width="94.2" height="24.9" fill="#ffff00"/>
<rect x="1034.6" y="1360.7" width="24.3" height="24.9" fill="#ffe400"/>
<rect x="1057.9" y="1360.7" width="47.2" height="24.9" fill="#ffff00"/>
<rect x="1104.1" y="1360.7" width="47.2" height="24.9" fill="#fff000"/>
<rect x="1150.2" y="1360.7" width="24.1" height="24.9" fill="#ff5800"/>
<rect x="1173.3" y="1360.7" width="47.5" height="24.9" fill="#ffff00"/>
<rect x="1219.8" y="1360.7" width="47.5" height="24.9" fill="#fff000"/>
<rect x="1266.4" y="1360.7" width="24.3" height="24.9" fill="#fafaf7"/>
<rect x="1289.6" y="1360.7" width="165.4" height="24.9" fill="#8086f8"/>
<rect x="801.0" y="1384.6" width="71.2" height="25.0" fill="#ffe400"/>
<rect x="871.2" y="1384.6" width="24.4" height="25.0" fill="#ffd700"/>
<rect x="894.6" y="1384.6" width="24.4" height="25.0" fill="#ffff00"/>
<rect x="918.0" y="1384.6" width="24.4" height="25.0" fill="#ffd700"/>
<rect x="941.4" y="1384.6" width="24.3" height="25.0" fill="#ffe400"/>
<rect x="964.7" y="1384.6" width="24.3" height="25.0" fill="#ffd700"/>
<rect x="988.0" y="1384.6" width="24.3" height="25.0" fill="#ffe400"/>
<rect x="1011.3" y="1384.6" width="24.3" height="25.0" fill="#fff000"/>
<rect x="1034.6" y="1384.6" width="24.3" height="25.0" fill="#ffff00"/>
<rect x="1057.9" y="1384.6" width="93.3" height="25.0" fill="#ffe400"/>
<rect x="1150.2" y="1384.6" width="24.1" height="25.0" fill="#ff7e00"/>
<rect x="1173.3" y="1384.6" width="70.8" height="25.0" fill="#ffe400"/>
<rect x="1243.1" y="1384.6" width="24.3" height="25.0" fill="#ffd700"/>
<rect x="1266.4" y="1384.6" width="24.3" height="25.0" fill="#ffff00"/>
<rect x="1289.6" y="1384.6" width="24.3" height="25.0" fill="#fafaf7"/>
<rect x="1312.9" y="1384.6" width="95.1" height="25.0" fill="#f46868"/>
<rect x="1407.0" y="1384.6" width="48.0" height="25.0" fill="#8086f8"/>
<rect x="801.0" y="1408.6" width="71.2" height="24.5" fill="#ffff00"/>
<rect x="871.2" y="1408.6" width="47.8" height="24.5" fill="#fff000"/>
<rect x="918.0" y="1408.6" width="24.4" height="24.5" fill="#ff9300"/>
<rect x="941.4" y="1408.6" width="94.2" height="24.5" fill="#ffff00"/>
<rect x="1034.6" y="1408.6" width="24.3" height="24.5" fill="#ffa400"/>
<rect x="1057.9" y="1408.6" width="93.3" height="24.5" fill="#ffff00"/>
<rect x="1150.2" y="1408.6" width="24.1" height="24.5" fill="#ff7e00"/>
<rect x="1173.3" y="1408.6" width="117.3" height="24.5" fill="#ffff00"/>
<rect x="1289.6" y="1408.6" width="24.3" height="24.5" fill="#ffe400"/>
<rect x="1312.9" y="1408.6" width="24.5" height="24.5" fill="#fafaf7"/>
<rect x="1336.4" y="1408.6" width="71.5" height="24.5" fill="#8086f8"/>
<rect x="1407.0" y="1408.6" width="48.0" height="24.5" fill="#f46868"/>
<rect x="801.0" y="1432.1" width="71.2" height="24.5" fill="#ffff00"/>
<rect x="871.2" y="1432.1" width="47.8" height="24.5" fill="#fff000"/>
<rect x="918.0" y="1432.1" width="24.4" height="24.5" fill="#ff9300"/>
<rect x="941.4" y="1432.1" width="94.2" height="24.5" fill="#ffff00"/>
<rect x="1034.6" y="1432.1" width="24.3" height="24.5" fill="#ffa400"/>
<rect x="1057.9" y="1432.1" width="93.3" height="24.5" fill="#ffff00"/>
<rect x="1150.2" y="1432.1" width="24.1" height="24.5" fill="#ff7e00"/>
<rect x="1173.3" y="1432.1" width="70.8" height="24.5" fill="#ffff00"/>
<rect x="1243.1" y="1432.1" width="24.3" height="24.5" fill="#fff000"/>
<rect x="1266.4" y="1432.1" width="24.3" height="24.5" fill="#ffff00"/>
<rect x="1289.6" y="1432.1" width="24.3" height="24.5" fill="#ffe400"/>
<rect x="1312.9" y="1432.1" width="24.5" height="24.5" fill="#ffff00"/>
<rect x="1336.4" y="1432.1" width="24.5" height="24.5" fill="#fafaf7"/>
<rect x="1359.9" y="1432.1" width="71.5" height="24.5" fill="#8086f8"/>
<rect x="1430.5" y="1432.1" width="24.5" height="24.5" fill="#f46868"/>
<rect x="801.0" y="1455.7" width="94.6" height="24.5" fill="#ffff00"/>
<rect x="894.6" y="1455.7" width="24.4" height="24.5" fill="#ffe400"/>
<rect x="918.0" y="1455.7" width="24.4" height="24.5" fill="#ff7e00"/>
<rect x="941.4" y="1455.7" width="94.2" height="24.5" fill="#ffff00"/>
<rect x="1034.6" y="1455.7" width="24.3" height="24.5" fill="#ffa400"/>
<rect x="1057.9" y="1455.7" width="47.2" height="24.5" fill="#ffff00"/>
<rect x="1104.1" y="1455.7" width="47.2" height="24.5" fill="#fff000"/>
<rect x="1150.2" y="1455.7" width="24.1" height="24.5" fill="#ff5800"/>
<rect x="1173.3" y="1455.7" width="47.5" height="24.5" fill="#ffff00"/>
<rect x="1219.8" y="1455.7" width="47.5" height="24.5" fill="#fff000"/>
<rect x="1266.4" y="1455.7" width="24.3" height="24.5" fill="#ffff00"/>
<rect x="1289.6" y="1455.7" width="24.3" height="24.5" fill="#ffd700"/>
<rect x="1312.9" y="1455.7" width="48.0" height="24.5" fill="#ffff00"/>
<rect x="1359.9" y="1455.7" width="24.5" height="24.5" fill="#fafaf7"/>
<rect x="1383.5" y="1455.7" width="48.0" height="24.5" fill="#8086f8"/>
<rect x="1430.5" y="1455.7" width="24.5" height="24.5" fill="#f46868"/>
<rect x="801.0" y="1479.2" width="94.6" height="24.5" fill="#ffff00"/>
<rect x="894.6" y="1479.2" width="24.4" height="24.5" fill="#ffe400"/>
<rect x="918.0" y="1479.2" width="24.4" height="24.5" fill="#ff7e00"/>
<rect x="941.4" y="1479.2" width="94.2" height="24.5" fill="#ffff00"/>
<rect x="1034.6" y="1479.2" width="24.3" height="24.5" fill="#ffa400"/>
<rect x="1057.9" y="1479.2" width="47.2" height="24.5" fill="#ffff00"/>
<rect x="1104.1" y="1479.2" width="47.2" height="24.5" fill="#fff000"/>
<rect x="1150.2" y="1479.2" width="24.1" height="24.5" fill="#ff5800"/>
<rect x="1173.3" y="1479.2" width="47.5" height="24.5" fill="#ffff00"/>
<rect x="1219.8" y="1479.2" width="47.5" height="24.5" fill="#fff000"/>
<rect x="1266.4" y="1479.2" width="24.3" height="24.5" fill="#ffff00"/>
<rect x="1289.6" y="1479.2" width="24.3" height="24.5" fill="#ffd700"/>
<rect x="1312.9" y="1479.2" width="71.5" height="24.5" fill="#ffff00"/>
<rect x="1383.5" y="1479.2" width="24.5" height="24.5" fill="#fafaf7"/>
<rect x="1407.0" y="1479.2" width="48.0" height="24.5" fill="#8086f8"/>
<rect x="801.0" y="1502.7" width="118.0" height="24.5" fill="#ffff00"/>
<rect x="918.0" y="1502.7" width="24.4" height="24.5" fill="#ffb800"/>
<rect x="941.4" y="1502.7" width="24.3" height="24.5" fill="#ffff00"/>
<rect x="964.7" y="1502.7" width="24.3" height="24.5" fill="#fff000"/>
<rect x="988.0" y="1502.7" width="47.6" height="24.5" fill="#ffff00"/>
<rect x="1034.6" y="1502.7" width="24.3" height="24.5" fill="#ffe400"/>
<rect x="1057.9" y="1502.7" width="47.2" height="24.5" fill="#ffff00"/>
<rect x="1104.1" y="1502.7" width="47.2" height="24.5" fill="#fff000"/>
<rect x="1150.2" y="1502.7" width="24.1" height="24.5" fill="#ff5800"/>
<rect x="1173.3" y="1502.7" width="24.3" height="24.5" fill="#ffff00"/>
<rect x="1196.6" y="1502.7" width="70.8" height="24.5" fill="#fff000"/>
<rect x="1266.4" y="1502.7" width="141.6" height="24.5" fill="#ffff00"/>
<rect x="1407.0" y="1502.7" width="24.5" height="24.5" fill="#fafaf7"/>
<rect x="1430.5" y="1502.7" width="24.5" height="24.5" fill="#8086f8"/>
<rect x="801.0" y="1526.3" width="71.2" height="24.5" fill="#ffe400"/>
<rect x="871.2" y="1526.3" width="24.4" height="24.5" fill="#ffd700"/>
<rect x="894.6" y="1526.3" width="24.4" height="24.5" fill="#ffff00"/>
<rect x="918.0" y="1526.3" width="24.4" height="24.5" fill="#fff000"/>
<rect x="941.4" y="1526.3" width="70.9" height="24.5" fill="#ffe400"/>
<rect x="1011.3" y="1526.3" width="24.3" height="24.5" fill="#fff000"/>
<rect x="1034.6" y="1526.3" width="24.3" height="24.5" fill="#ffff00"/>
<rect x="1057.9" y="1526.3" width="93.3" height="24.5" fill="#ffe400"/>
<rect x="1150.2" y="1526.3" width="24.1" height="24.5" fill="#ff5800"/>
<rect x="1173.3" y="1526.3" width="70.8" height="24.5" fill="#ffe400"/>
<rect x="1243.1" y="1526.3" width="24.3" height="24.5" fill="#ffd700"/>
<rect x="1266.4" y="1526.3" width="47.5" height="24.5" fill="#ffff00"/>
<rect x="1312.9" y="1526.3" width="95.1" height="24.5" fill="#ffe400"/>
<rect x="1407.0" y="1526.3" width="24.5" height="24.5" fill="#ffff00"/>
<rect x="1430.5" y="1526.3" width="24.5" height="24.5" fill="#fafaf7"/>
<rect x="940.2" y="879.8" width="2.3" height="670.0" fill="#4a4a4a"/>
<rect x="1056.8" y="879.8" width="2.3" height="670.0" fill="#4a4a4a"/>
<rect x="1172.1" y="879.8" width="2.3" height="670.0" fill="#4a4a4a"/>
<rect x="1311.8" y="879.8" width="2.3" height="670.0" fill="#4a4a4a"/>
<rect x="801.0" y="1025.8" width="653.0" height="2.3" fill="#4a4a4a"/>
<rect x="801.0" y="1144.4" width="653.0" height="2.3" fill="#4a4a4a"/>
<rect x="801.0" y="1263.8" width="653.0" height="2.3" fill="#4a4a4a"/>
<rect x="801.0" y="1407.4" width="653.0" height="2.3" fill="#4a4a4a"/>
<rect x="799.9" y="878.6" width="655.3" height="672.3" fill="none" stroke="#4a4a4a" stroke-width="2.3"/>
<rect x="1462.4" y="886.0" width="2.2" height="137.7" fill="#4a4a4a"/>
<text x="1473.2" y="901.1" font-size="18.29" textLength="21.3" lengthAdjust="spacingAndGlyphs">PA</text>
<text x="1473.8" y="923.7" font-size="18.29" textLength="23.2" lengthAdjust="spacingAndGlyphs">CP</text>
<text x="1473.0" y="945.6" font-size="18.29" textLength="25.2" lengthAdjust="spacingAndGlyphs">LH</text>
<text x="1474.2" y="968.2" font-size="18.29" textLength="24.9" lengthAdjust="spacingAndGlyphs">TH</text>
<text x="1473.0" y="990.9" font-size="18.29" textLength="27.6" lengthAdjust="spacingAndGlyphs">LM</text>
<text x="1474.6" y="1013.0" font-size="18.29" textLength="24.2" lengthAdjust="spacingAndGlyphs">AC</text>
<rect x="1462.4" y="1030.8" width="2.2" height="113.9" fill="#4a4a4a"/>
<text x="1473.2" y="1045.5" font-size="18.29" textLength="21.3" lengthAdjust="spacingAndGlyphs">PA</text>
<text x="1473.8" y="1068.2" font-size="18.29" textLength="23.2" lengthAdjust="spacingAndGlyphs">CP</text>
<text x="1473.0" y="1090.0" font-size="18.29" textLength="25.2" lengthAdjust="spacingAndGlyphs">LH</text>
<text x="1474.2" y="1112.1" font-size="18.29" textLength="24.9" lengthAdjust="spacingAndGlyphs">TH</text>
<text x="1474.6" y="1134.8" font-size="18.29" textLength="24.2" lengthAdjust="spacingAndGlyphs">AC</text>
<rect x="1462.4" y="1150.4" width="2.2" height="117.6" fill="#4a4a4a"/>
<text x="1473.2" y="1168.8" font-size="18.29" textLength="21.3" lengthAdjust="spacingAndGlyphs">PA</text>
<text x="1473.8" y="1190.6" font-size="18.29" textLength="23.2" lengthAdjust="spacingAndGlyphs">CP</text>
<text x="1473.0" y="1212.7" font-size="18.29" textLength="25.2" lengthAdjust="spacingAndGlyphs">LH</text>
<text x="1474.2" y="1234.8" font-size="18.29" textLength="24.9" lengthAdjust="spacingAndGlyphs">TH</text>
<text x="1474.6" y="1256.6" font-size="18.29" textLength="24.2" lengthAdjust="spacingAndGlyphs">AC</text>
<rect x="1462.4" y="1271.0" width="2.2" height="135.0" fill="#4a4a4a"/>
<text x="1473.2" y="1286.1" font-size="18.29" textLength="21.3" lengthAdjust="spacingAndGlyphs">PA</text>
<text x="1473.8" y="1308.2" font-size="18.29" textLength="23.2" lengthAdjust="spacingAndGlyphs">CP</text>
<text x="1473.0" y="1330.3" font-size="18.29" textLength="25.2" lengthAdjust="spacingAndGlyphs">LH</text>
<text x="1474.2" y="1352.9" font-size="18.29" textLength="24.9" lengthAdjust="spacingAndGlyphs">TH</text>
<text x="1473.0" y="1375.6" font-size="18.29" textLength="27.6" lengthAdjust="spacingAndGlyphs">LM</text>
<text x="1474.6" y="1398.0" font-size="18.29" textLength="24.2" lengthAdjust="spacingAndGlyphs">AC</text>
<rect x="1462.4" y="1413.0" width="2.2" height="132.5" fill="#4a4a4a"/>
<text x="1473.2" y="1430.0" font-size="18.29" textLength="21.3" lengthAdjust="spacingAndGlyphs">PA</text>
<text x="1473.8" y="1452.0" font-size="18.29" textLength="23.2" lengthAdjust="spacingAndGlyphs">CP</text>
<text x="1473.0" y="1474.4" font-size="18.29" textLength="25.2" lengthAdjust="spacingAndGlyphs">LH</text>
<text x="1474.2" y="1496.5" font-size="18.29" textLength="24.9" lengthAdjust="spacingAndGlyphs">TH</text>
<text x="1473.0" y="1519.8" font-size="18.29" textLength="27.6" lengthAdjust="spacingAndGlyphs">LM</text>
<text x="1474.6" y="1541.9" font-size="18.29" textLength="24.2" lengthAdjust="spacingAndGlyphs">AC</text>
<text x="1507.8" y="959.2" font-size="29.14" textLength="69.2" lengthAdjust="spacingAndGlyphs">2012</text>
<text x="1507.9" y="1095.1" font-size="29.14" textLength="68.6" lengthAdjust="spacingAndGlyphs">2014</text>
<text x="1507.9" y="1225.4" font-size="29.14" textLength="68.9" lengthAdjust="spacingAndGlyphs">2015</text>
<text x="1507.8" y="1354.9" font-size="29.14" textLength="69.2" lengthAdjust="spacingAndGlyphs">2016</text>
<text x="1507.8" y="1489.5" font-size="29.14" textLength="69.2" lengthAdjust="spacingAndGlyphs">2017</text>
<rect x="801.3" y="1562.1" width="137.7" height="2.2" fill="#4a4a4a"/>
<text x="804.3" y="1585.5" font-size="17.43" textLength="128.8" lengthAdjust="spacingAndGlyphs">PA CP LH TH LM AC</text>
<rect x="943.8" y="1562.1" width="114.2" height="2.2" fill="#4a4a4a"/>
<text x="945.9" y="1585.5" font-size="17.43" textLength="105.7" lengthAdjust="spacingAndGlyphs">PA CP LH TH AC</text>
<rect x="1060.4" y="1562.1" width="113.4" height="2.2" fill="#4a4a4a"/>
<text x="1065.4" y="1585.5" font-size="17.43" textLength="103.7" lengthAdjust="spacingAndGlyphs">PA CP LH TH AC</text>
<rect x="1178.7" y="1562.1" width="133.3" height="2.2" fill="#4a4a4a"/>
<text x="1182.4" y="1585.5" font-size="17.43" textLength="128.2" lengthAdjust="spacingAndGlyphs">PA CP LH TH LM AC</text>
<rect x="1316.3" y="1562.1" width="136.7" height="2.2" fill="#4a4a4a"/>
<text x="1322.5" y="1585.5" font-size="17.43" textLength="128.8" lengthAdjust="spacingAndGlyphs">PA CP LH TH LM AC</text>
<text x="824.9" y="1642.0" font-size="30.0" textLength="65.6" lengthAdjust="spacingAndGlyphs">2012</text>
<text x="956.5" y="1642.0" font-size="30.0" textLength="67.0" lengthAdjust="spacingAndGlyphs">2014</text>
<text x="1083.2" y="1642.0" font-size="30.0" textLength="66.1" lengthAdjust="spacingAndGlyphs">2015</text>
<text x="1212.4" y="1642.0" font-size="30.0" textLength="68.0" lengthAdjust="spacingAndGlyphs">2016</text>
<text x="1341.1" y="1642.0" font-size="30.0" textLength="67.7" lengthAdjust="spacingAndGlyphs">2017</text>
<text x="1618.9" y="1311.8" font-size="48.86" textLength="86.7" lengthAdjust="spacingAndGlyphs">Hg1</text>
<defs><linearGradient id="g2" x1="0" y1="1" x2="0" y2="0"><stop offset="0" stop-color="#ffff00"/><stop offset="0.33" stop-color="#ffb400"/><stop offset="0.66" stop-color="#ff6400"/><stop offset="1" stop-color="#ff0000"/></linearGradient></defs>
<rect x="1621.6" y="1344.4" width="30.4" height="206.0" fill="url(#g2)" stroke="#4a4a4a" stroke-width="2.2"/>
<rect x="1652.0" y="1348.2" width="10.5" height="2.0" fill="#4a4a4a"/>
<text x="1663.9" y="1357.7" font-size="23.57" textLength="37.4" lengthAdjust="spacingAndGlyphs">0.4</text>
<rect x="1652.0" y="1403.5" width="10.5" height="2.0" fill="#4a4a4a"/>
<text x="1663.9" y="1413.0" font-size="23.57" textLength="38.0" lengthAdjust="spacingAndGlyphs">0.3</text>
<rect x="1652.0" y="1451.6" width="10.5" height="2.0" fill="#4a4a4a"/>
<text x="1663.9" y="1461.1" font-size="23.57" textLength="38.0" lengthAdjust="spacingAndGlyphs">0.2</text>
<rect x="1652.0" y="1504.9" width="10.5" height="2.0" fill="#4a4a4a"/>
<text x="1663.9" y="1514.4" font-size="23.57" textLength="38.0" lengthAdjust="spacingAndGlyphs">0.1</text>
<rect x="1652.0" y="1549.4" width="10.5" height="2.0" fill="#4a4a4a"/>
<text x="1675.4" y="1558.9" font-size="23.57" textLength="14.8" lengthAdjust="spacingAndGlyphs">0</text>
<text x="1716.9" y="1461.0" font-size="54.29" textLength="27.8" lengthAdjust="spacingAndGlyphs">F</text>
<text x="1746.0" y="1480.0" font-size="30.0" textLength="35.5" lengthAdjust="spacingAndGlyphs">ST</text>
<text x="8.3" y="1697.0" font-size="31" font-weight="bold" fill="#000">E</text>
<rect x="135.9" y="1713.4" width="39.3" height="39.1" fill="#fafaf7"/>
<rect x="174.2" y="1713.4" width="39.3" height="39.1" fill="#8086f8"/>
<rect x="212.6" y="1713.4" width="77.7" height="39.1" fill="#f46868"/>
<rect x="289.3" y="1713.4" width="114.3" height="39.1" fill="#8086f8"/>
<rect x="402.6" y="1713.4" width="38.5" height="39.1" fill="#f46868"/>
<rect x="440.0" y="1713.4" width="228.1" height="39.1" fill="#8086f8"/>
<rect x="667.1" y="1713.4" width="39.1" height="39.1" fill="#f46868"/>
<rect x="705.2" y="1713.4" width="77.1" height="39.1" fill="#8086f8"/>
<rect x="135.9" y="1751.5" width="39.3" height="39.1" fill="#ffff00"/>
<rect x="174.2" y="1751.5" width="39.3" height="39.1" fill="#fafaf7"/>
<rect x="212.6" y="1751.5" width="77.7" height="39.1" fill="#f46868"/>
<rect x="289.3" y="1751.5" width="76.8" height="39.1" fill="#8086f8"/>
<rect x="365.1" y="1751.5" width="113.4" height="39.1" fill="#f46868"/>
<rect x="477.5" y="1751.5" width="114.5" height="39.1" fill="#8086f8"/>
<rect x="591.0" y="1751.5" width="39.1" height="39.1" fill="#f46868"/>
<rect x="629.1" y="1751.5" width="39.1" height="39.1" fill="#8086f8"/>
<rect x="667.1" y="1751.5" width="39.1" height="39.1" fill="#f46868"/>
<rect x="705.2" y="1751.5" width="77.1" height="39.1" fill="#8086f8"/>
<rect x="135.9" y="1789.6" width="77.7" height="39.1" fill="#ffca00"/>
<rect x="212.6" y="1789.6" width="39.3" height="39.1" fill="#fafaf7"/>
<rect x="250.9" y="1789.6" width="39.3" height="39.1" fill="#8086f8"/>
<rect x="289.3" y="1789.6" width="151.8" height="39.1" fill="#f46868"/>
<rect x="440.0" y="1789.6" width="38.5" height="39.1" fill="#8086f8"/>
<rect x="477.5" y="1789.6" width="152.5" height="39.1" fill="#f46868"/>
<rect x="629.1" y="1789.6" width="39.1" height="39.1" fill="#8086f8"/>
<rect x="667.1" y="1789.6" width="77.1" height="39.1" fill="#f46868"/>
<rect x="743.2" y="1789.6" width="39.1" height="39.1" fill="#8086f8"/>
<rect x="135.9" y="1827.6" width="39.3" height="39.1" fill="#ffca00"/>
<rect x="174.2" y="1827.6" width="39.3" height="39.1" fill="#ffb800"/>
<rect x="212.6" y="1827.6" width="39.3" height="39.1" fill="#ffff00"/>
<rect x="250.9" y="1827.6" width="39.3" height="39.1" fill="#fafaf7"/>
<rect x="289.3" y="1827.6" width="151.8" height="39.1" fill="#f46868"/>
<rect x="440.0" y="1827.6" width="38.5" height="39.1" fill="#8086f8"/>
<rect x="477.5" y="1827.6" width="190.6" height="39.1" fill="#f46868"/>
<rect x="667.1" y="1827.6" width="77.1" height="39.1" fill="#8086f8"/>
<rect x="743.2" y="1827.6" width="39.1" height="39.1" fill="#f46868"/>
<rect x="135.9" y="1865.7" width="77.7" height="39.1" fill="#ffff00"/>
<rect x="212.6" y="1865.7" width="39.3" height="39.1" fill="#ffca00"/>
<rect x="250.9" y="1865.7" width="39.3" height="39.1" fill="#ffb800"/>
<rect x="289.3" y="1865.7" width="39.3" height="39.1" fill="#fafaf7"/>
<rect x="327.6" y="1865.7" width="76.0" height="39.1" fill="#8086f8"/>
<rect x="402.6" y="1865.7" width="76.0" height="39.1" fill="#f46868"/>
<rect x="477.5" y="1865.7" width="190.6" height="39.1" fill="#8086f8"/>
<rect x="667.1" y="1865.7" width="39.1" height="39.1" fill="#f46868"/>
<rect x="705.2" y="1865.7" width="77.1" height="39.1" fill="#8086f8"/>
<rect x="135.9" y="1903.8" width="77.7" height="39.0" fill="#ffff00"/>
<rect x="212.6" y="1903.8" width="77.7" height="39.0" fill="#ffca00"/>
<rect x="289.3" y="1903.8" width="39.3" height="39.0" fill="#ffff00"/>
<rect x="327.6" y="1903.8" width="38.5" height="39.0" fill="#fafaf7"/>
<rect x="365.1" y="1903.8" width="38.5" height="39.0" fill="#8086f8"/>
<rect x="402.6" y="1903.8" width="38.5" height="39.0" fill="#f46868"/>
<rect x="440.0" y="1903.8" width="228.1" height="39.0" fill="#8086f8"/>
<rect x="667.1" y="1903.8" width="39.1" height="39.0" fill="#f46868"/>
<rect x="705.2" y="1903.8" width="77.1" height="39.0" fill="#8086f8"/>
<rect x="135.9" y="1941.8" width="77.7" height="39.0" fill="#ffe400"/>
<rect x="212.6" y="1941.8" width="39.3" height="39.0" fill="#ffa400"/>
<rect x="250.9" y="1941.8" width="39.3" height="39.0" fill="#ff9300"/>
<rect x="289.3" y="1941.8" width="39.3" height="39.0" fill="#fff000"/>
<rect x="327.6" y="1941.8" width="38.5" height="39.0" fill="#ffff00"/>
<rect x="365.1" y="1941.8" width="38.5" height="39.0" fill="#fafaf7"/>
<rect x="402.6" y="1941.8" width="76.0" height="39.0" fill="#f46868"/>
<rect x="477.5" y="1941.8" width="190.6" height="39.0" fill="#8086f8"/>
<rect x="667.1" y="1941.8" width="39.1" height="39.0" fill="#f46868"/>
<rect x="705.2" y="1941.8" width="77.1" height="39.0" fill="#8086f8"/>
<rect x="135.9" y="1979.9" width="39.3" height="39.0" fill="#ffca00"/>
<rect x="174.2" y="1979.9" width="39.3" height="39.0" fill="#ffa400"/>
<rect x="212.6" y="1979.9" width="39.3" height="39.0" fill="#ffca00"/>
<rect x="250.9" y="1979.9" width="39.3" height="39.0" fill="#ffd700"/>
<rect x="289.3" y="1979.9" width="76.8" height="39.0" fill="#ffb800"/>
<rect x="365.1" y="1979.9" width="38.5" height="39.0" fill="#ff9300"/>
<rect x="402.6" y="1979.9" width="38.5" height="39.0" fill="#fafaf7"/>
<rect x="440.0" y="1979.9" width="228.1" height="39.0" fill="#f46868"/>
<rect x="667.1" y="1979.9" width="39.1" height="39.0" fill="#8086f8"/>
<rect x="705.2" y="1979.9" width="77.1" height="39.0" fill="#f46868"/>
<rect x="135.9" y="2017.9" width="39.3" height="39.0" fill="#fff000"/>
<rect x="174.2" y="2017.9" width="39.3" height="39.0" fill="#ffd700"/>
<rect x="212.6" y="2017.9" width="77.7" height="39.0" fill="#ffff00"/>
<rect x="289.3" y="2017.9" width="76.8" height="39.0" fill="#ffd700"/>
<rect x="365.1" y="2017.9" width="38.5" height="39.0" fill="#ffb800"/>
<rect x="402.6" y="2017.9" width="38.5" height="39.0" fill="#ffd700"/>
<rect x="440.0" y="2017.9" width="38.5" height="39.0" fill="#fafaf7"/>
<rect x="477.5" y="2017.9" width="38.5" height="39.0" fill="#f46868"/>
<rect x="515.0" y="2017.9" width="77.0" height="39.0" fill="#8086f8"/>
<rect x="591.0" y="2017.9" width="39.1" height="39.0" fill="#f46868"/>
<rect x="629.1" y="2017.9" width="153.2" height="39.0" fill="#8086f8"/>
<rect x="135.9" y="2056.0" width="77.7" height="39.0" fill="#ffff00"/>
<rect x="212.6" y="2056.0" width="39.3" height="39.0" fill="#ffb800"/>
<rect x="250.9" y="2056.0" width="39.3" height="39.0" fill="#ffa400"/>
<rect x="289.3" y="2056.0" width="76.8" height="39.0" fill="#ffff00"/>
<rect x="365.1" y="2056.0" width="38.5" height="39.0" fill="#fff000"/>
<rect x="402.6" y="2056.0" width="38.5" height="39.0" fill="#ffa400"/>
<rect x="440.0" y="2056.0" width="38.5" height="39.0" fill="#ffb800"/>
<rect x="477.5" y="2056.0" width="38.5" height="39.0" fill="#fafaf7"/>
<rect x="515.0" y="2056.0" width="153.1" height="39.0" fill="#8086f8"/>
<rect x="667.1" y="2056.0" width="39.1" height="39.0" fill="#f46868"/>
<rect x="705.2" y="2056.0" width="77.1" height="39.0" fill="#8086f8"/>
<rect x="135.9" y="2094.0" width="77.7" height="39.2" fill="#ffff00"/>
<rect x="212.6" y="2094.0" width="39.3" height="39.2" fill="#ffa400"/>
<rect x="250.9" y="2094.0" width="39.3" height="39.2" fill="#ff9300"/>
<rect x="289.3" y="2094.0" width="39.3" height="39.2" fill="#ffff00"/>
<rect x="327.6" y="2094.0" width="76.0" height="39.2" fill="#fff000"/>
<rect x="402.6" y="2094.0" width="38.5" height="39.2" fill="#ff9300"/>
<rect x="440.0" y="2094.0" width="38.5" height="39.2" fill="#ffb800"/>
<rect x="477.5" y="2094.0" width="38.5" height="39.2" fill="#ffff00"/>
<rect x="515.0" y="2094.0" width="39.0" height="39.2" fill="#fafaf7"/>
<rect x="553.0" y="2094.0" width="115.1" height="39.2" fill="#8086f8"/>
<rect x="667.1" y="2094.0" width="39.1" height="39.2" fill="#f46868"/>
<rect x="705.2" y="2094.0" width="77.1" height="39.2" fill="#8086f8"/>
<rect x="135.9" y="2132.2" width="77.7" height="39.2" fill="#ffff00"/>
<rect x="212.6" y="2132.2" width="77.7" height="39.2" fill="#ffb800"/>
<rect x="289.3" y="2132.2" width="76.8" height="39.2" fill="#ffff00"/>
<rect x="365.1" y="2132.2" width="38.5" height="39.2" fill="#fff000"/>
<rect x="402.6" y="2132.2" width="38.5" height="39.2" fill="#ffb800"/>
<rect x="440.0" y="2132.2" width="38.5" height="39.2" fill="#ffd700"/>
<rect x="477.5" y="2132.2" width="76.5" height="39.2" fill="#ffff00"/>
<rect x="553.0" y="2132.2" width="39.0" height="39.2" fill="#fafaf7"/>
<rect x="591.0" y="2132.2" width="77.1" height="39.2" fill="#8086f8"/>
<rect x="667.1" y="2132.2" width="39.1" height="39.2" fill="#f46868"/>
<rect x="705.2" y="2132.2" width="77.1" height="39.2" fill="#8086f8"/>
<rect x="135.9" y="2170.5" width="77.7" height="38.3" fill="#ffff00"/>
<rect x="212.6" y="2170.5" width="39.3" height="38.3" fill="#ffb800"/>
<rect x="250.9" y="2170.5" width="39.3" height="38.3" fill="#ffa400"/>
<rect x="289.3" y="2170.5" width="114.3" height="38.3" fill="#ffff00"/>
<rect x="402.6" y="2170.5" width="38.5" height="38.3" fill="#ffa400"/>
<rect x="440.0" y="2170.5" width="38.5" height="38.3" fill="#ffd700"/>
<rect x="477.5" y="2170.5" width="38.5" height="38.3" fill="#ffff00"/>
<rect x="515.0" y="2170.5" width="39.0" height="38.3" fill="#fff000"/>
<rect x="553.0" y="2170.5" width="39.0" height="38.3" fill="#ffff00"/>
<rect x="591.0" y="2170.5" width="39.1" height="38.3" fill="#fafaf7"/>
<rect x="629.1" y="2170.5" width="39.1" height="38.3" fill="#8086f8"/>
<rect x="667.1" y="2170.5" width="39.1" height="38.3" fill="#f46868"/>
<rect x="705.2" y="2170.5" width="77.1" height="38.3" fill="#8086f8"/>
<rect x="135.9" y="2207.8" width="39.3" height="38.3" fill="#ffca00"/>
<rect x="174.2" y="2207.8" width="39.3" height="38.3" fill="#ffff00"/>
<rect x="212.6" y="2207.8" width="39.3" height="38.3" fill="#ff9300"/>
<rect x="250.9" y="2207.8" width="39.3" height="38.3" fill="#ff5800"/>
<rect x="289.3" y="2207.8" width="39.3" height="38.3" fill="#ffff00"/>
<rect x="327.6" y="2207.8" width="76.0" height="38.3" fill="#ffca00"/>
<rect x="402.6" y="2207.8" width="38.5" height="38.3" fill="#ff5800"/>
<rect x="440.0" y="2207.8" width="38.5" height="38.3" fill="#ffa400"/>
<rect x="477.5" y="2207.8" width="114.5" height="38.3" fill="#ffff00"/>
<rect x="591.0" y="2207.8" width="39.1" height="38.3" fill="#ffd700"/>
<rect x="629.1" y="2207.8" width="39.1" height="38.3" fill="#fafaf7"/>
<rect x="667.1" y="2207.8" width="39.1" height="38.3" fill="#f46868"/>
<rect x="705.2" y="2207.8" width="77.1" height="38.3" fill="#8086f8"/>
<rect x="135.9" y="2245.1" width="39.3" height="38.3" fill="#ff7e00"/>
<rect x="174.2" y="2245.1" width="39.3" height="38.3" fill="#ff5800"/>
<rect x="212.6" y="2245.1" width="77.7" height="38.3" fill="#ffff00"/>
<rect x="289.3" y="2245.1" width="76.8" height="38.3" fill="#ff7e00"/>
<rect x="365.1" y="2245.1" width="38.5" height="38.3" fill="#ff5800"/>
<rect x="402.6" y="2245.1" width="38.5" height="38.3" fill="#ff7e00"/>
<rect x="440.0" y="2245.1" width="38.5" height="38.3" fill="#fff000"/>
<rect x="477.5" y="2245.1" width="76.5" height="38.3" fill="#ff5800"/>
<rect x="553.0" y="2245.1" width="77.1" height="38.3" fill="#ff7e00"/>
<rect x="629.1" y="2245.1" width="39.1" height="38.3" fill="#f46868"/>
<rect x="667.1" y="2245.1" width="39.1" height="38.3" fill="#f4f7e6"/>
<rect x="705.2" y="2245.1" width="39.1" height="38.3" fill="#8086f8"/>
<rect x="743.2" y="2245.1" width="39.1" height="38.3" fill="#f46868"/>
<rect x="135.9" y="2282.3" width="77.7" height="38.3" fill="#ffff00"/>
<rect x="212.6" y="2282.3" width="39.3" height="38.3" fill="#ffca00"/>
<rect x="250.9" y="2282.3" width="39.3" height="38.3" fill="#ffa400"/>
<rect x="289.3" y="2282.3" width="114.3" height="38.3" fill="#ffff00"/>
<rect x="402.6" y="2282.3" width="38.5" height="38.3" fill="#ffa400"/>
<rect x="440.0" y="2282.3" width="38.5" height="38.3" fill="#ffe400"/>
<rect x="477.5" y="2282.3" width="190.6" height="38.3" fill="#ffff00"/>
<rect x="667.1" y="2282.3" width="39.1" height="38.3" fill="#ff7e00"/>
<rect x="705.2" y="2282.3" width="39.1" height="38.3" fill="#fafaf7"/>
<rect x="743.2" y="2282.3" width="39.1" height="38.3" fill="#8086f8"/>
<rect x="135.9" y="2319.6" width="39.3" height="38.3" fill="#ffa400"/>
<rect x="174.2" y="2319.6" width="39.3" height="38.3" fill="#ffd700"/>
<rect x="212.6" y="2319.6" width="39.3" height="38.3" fill="#ff7e00"/>
<rect x="250.9" y="2319.6" width="39.3" height="38.3" fill="#ff5800"/>
<rect x="289.3" y="2319.6" width="39.3" height="38.3" fill="#fff000"/>
<rect x="327.6" y="2319.6" width="76.0" height="38.3" fill="#ffb800"/>
<rect x="402.6" y="2319.6" width="38.5" height="38.3" fill="#ff5800"/>
<rect x="440.0" y="2319.6" width="38.5" height="38.3" fill="#ff7e00"/>
<rect x="477.5" y="2319.6" width="76.5" height="38.3" fill="#ffff00"/>
<rect x="553.0" y="2319.6" width="39.0" height="38.3" fill="#fff000"/>
<rect x="591.0" y="2319.6" width="39.1" height="38.3" fill="#ffca00"/>
<rect x="629.1" y="2319.6" width="39.1" height="38.3" fill="#ffff00"/>
<rect x="667.1" y="2319.6" width="39.1" height="38.3" fill="#f46868"/>
<rect x="705.2" y="2319.6" width="39.1" height="38.3" fill="#fff000"/>
<rect x="743.2" y="2319.6" width="39.1" height="38.3" fill="#fafaf7"/>
<rect x="135.9" y="1978.7" width="266.7" height="2.4" fill="#fdfdfb"/>
<rect x="326.5" y="1713.4" width="2.3" height="643.5" fill="#4a4a4a"/>
<rect x="513.9" y="1713.4" width="2.3" height="643.5" fill="#4a4a4a"/>
<rect x="589.9" y="1713.4" width="2.3" height="643.5" fill="#4a4a4a"/>
<rect x="135.9" y="1902.6" width="645.4" height="2.3" fill="#4a4a4a"/>
<rect x="135.9" y="2092.8" width="645.4" height="2.3" fill="#4a4a4a"/>
<rect x="135.9" y="2169.3" width="645.4" height="2.3" fill="#4a4a4a"/>
<rect x="134.8" y="1712.2" width="647.7" height="645.8" fill="none" stroke="#4a4a4a" stroke-width="2.3"/>
<text x="50.7" y="1745.8" font-size="30.0" textLength="66.9" lengthAdjust="spacingAndGlyphs">2012</text>
<text x="50.7" y="1783.3" font-size="30.0" textLength="66.3" lengthAdjust="spacingAndGlyphs">2014</text>
<text x="50.7" y="1820.8" font-size="30.0" textLength="66.6" lengthAdjust="spacingAndGlyphs">2015</text>
<text x="50.7" y="1858.3" font-size="30.0" textLength="66.9" lengthAdjust="spacingAndGlyphs">2016</text>
<text x="50.7" y="1895.8" font-size="30.0" textLength="66.9" lengthAdjust="spacingAndGlyphs">2017</text>
<text x="50.7" y="1935.8" font-size="30.0" textLength="66.9" lengthAdjust="spacingAndGlyphs">2012</text>
<text x="50.7" y="1973.9" font-size="30.0" textLength="66.3" lengthAdjust="spacingAndGlyphs">2014</text>
<text x="50.7" y="2010.6" font-size="30.0" textLength="66.6" lengthAdjust="spacingAndGlyphs">2015</text>
<text x="50.7" y="2048.6" font-size="30.0" textLength="66.9" lengthAdjust="spacingAndGlyphs">2016</text>
<text x="50.7" y="2085.8" font-size="30.0" textLength="66.9" lengthAdjust="spacingAndGlyphs">2017</text>
<text x="50.7" y="2122.8" font-size="30.0" textLength="66.9" lengthAdjust="spacingAndGlyphs">2012</text>
<text x="50.7" y="2161.1" font-size="30.0" textLength="66.9" lengthAdjust="spacingAndGlyphs">2017</text>
<text x="50.7" y="2204.5" font-size="30.0" textLength="66.9" lengthAdjust="spacingAndGlyphs">2012</text>
<text x="50.7" y="2242.2" font-size="30.0" textLength="66.3" lengthAdjust="spacingAndGlyphs">2014</text>
<text x="50.7" y="2279.2" font-size="30.0" textLength="66.6" lengthAdjust="spacingAndGlyphs">2015</text>
<text x="50.7" y="2316.9" font-size="30.0" textLength="66.9" lengthAdjust="spacingAndGlyphs">2016</text>
<text x="50.7" y="2354.6" font-size="30.0" textLength="66.9" lengthAdjust="spacingAndGlyphs">2017</text>
<rect x="122.5" y="1717.2" width="2.2" height="181.8" fill="#4a4a4a"/>
<rect x="122.5" y="1906.0" width="2.2" height="183.5" fill="#4a4a4a"/>
<rect x="122.5" y="2101.0" width="2.2" height="65.0" fill="#4a4a4a"/>
<rect x="122.5" y="2173.0" width="2.2" height="183.0" fill="#4a4a4a"/>
<text x="2.3" y="1827.0" font-size="28.57" textLength="36.6" lengthAdjust="spacingAndGlyphs">LH</text>
<text x="2.3" y="1973.0" font-size="28.57" textLength="39.4" lengthAdjust="spacingAndGlyphs">TH</text>
<text x="1.4" y="2121.5" font-size="28.57" textLength="41.9" lengthAdjust="spacingAndGlyphs">LM</text>
<text x="3.2" y="2267.7" font-size="28.57" textLength="36.8" lengthAdjust="spacingAndGlyphs">AC</text>
<rect x="138.0" y="2379.6" width="184.9" height="2.0" fill="#4a4a4a"/>
<rect x="329.1" y="2379.6" width="185.6" height="2.0" fill="#4a4a4a"/>
<rect x="516.3" y="2379.6" width="74.4" height="2.0" fill="#4a4a4a"/>
<rect x="594.0" y="2379.6" width="185.0" height="2.0" fill="#4a4a4a"/>
<text x="-1.49" y="0" font-size="29.0" textLength="66.2" lengthAdjust="spacingAndGlyphs" transform="translate(164.65,2453.90) rotate(-90)">2012</text>
<text x="-1.47" y="0" font-size="29.0" textLength="65.6" lengthAdjust="spacingAndGlyphs" transform="translate(203.55,2453.90) rotate(-90)">2014</text>
<text x="-1.48" y="0" font-size="29.0" textLength="65.9" lengthAdjust="spacingAndGlyphs" transform="translate(239.25,2453.90) rotate(-90)">2015</text>
<text x="-1.49" y="0" font-size="29.0" textLength="66.2" lengthAdjust="spacingAndGlyphs" transform="translate(278.15,2453.90) rotate(-90)">2016</text>
<text x="-1.49" y="0" font-size="29.0" textLength="66.2" lengthAdjust="spacingAndGlyphs" transform="translate(313.35,2453.90) rotate(-90)">2017</text>
<text x="-1.49" y="0" font-size="29.0" textLength="66.2" lengthAdjust="spacingAndGlyphs" transform="translate(349.05,2453.90) rotate(-90)">2012</text>
<text x="-1.47" y="0" font-size="29.0" textLength="65.6" lengthAdjust="spacingAndGlyphs" transform="translate(388.35,2453.90) rotate(-90)">2014</text>
<text x="-1.48" y="0" font-size="29.0" textLength="65.9" lengthAdjust="spacingAndGlyphs" transform="translate(424.15,2453.90) rotate(-90)">2015</text>
<text x="-1.49" y="0" font-size="29.0" textLength="66.2" lengthAdjust="spacingAndGlyphs" transform="translate(463.15,2453.90) rotate(-90)">2016</text>
<text x="-1.49" y="0" font-size="29.0" textLength="66.2" lengthAdjust="spacingAndGlyphs" transform="translate(498.45,2453.90) rotate(-90)">2017</text>
<text x="-1.49" y="0" font-size="29.0" textLength="66.2" lengthAdjust="spacingAndGlyphs" transform="translate(544.15,2453.90) rotate(-90)">2012</text>
<text x="-1.49" y="0" font-size="29.0" textLength="66.2" lengthAdjust="spacingAndGlyphs" transform="translate(584.35,2453.90) rotate(-90)">2017</text>
<text x="-1.49" y="0" font-size="29.0" textLength="66.2" lengthAdjust="spacingAndGlyphs" transform="translate(623.45,2453.90) rotate(-90)">2012</text>
<text x="-1.47" y="0" font-size="29.0" textLength="65.6" lengthAdjust="spacingAndGlyphs" transform="translate(662.55,2453.90) rotate(-90)">2014</text>
<text x="-1.48" y="0" font-size="29.0" textLength="65.9" lengthAdjust="spacingAndGlyphs" transform="translate(698.35,2453.90) rotate(-90)">2015</text>
<text x="-1.49" y="0" font-size="29.0" textLength="66.2" lengthAdjust="spacingAndGlyphs" transform="translate(737.45,2453.90) rotate(-90)">2016</text>
<text x="-1.49" y="0" font-size="29.0" textLength="66.2" lengthAdjust="spacingAndGlyphs" transform="translate(772.65,2453.90) rotate(-90)">2017</text>
<text x="220.7" y="2493.3" font-size="25.43" textLength="34.6" lengthAdjust="spacingAndGlyphs">LH</text>
<text x="392.0" y="2493.3" font-size="25.43" textLength="34.8" lengthAdjust="spacingAndGlyphs">TH</text>
<text x="527.9" y="2493.3" font-size="25.43" textLength="38.6" lengthAdjust="spacingAndGlyphs">LM</text>
<text x="640.3" y="2493.3" font-size="25.43" textLength="33.5" lengthAdjust="spacingAndGlyphs">AC</text>
<text x="797.0" y="1697.0" font-size="31" font-weight="bold" fill="#000">F</text>
<rect x="807.4" y="1717.0" width="39.1" height="39.2" fill="#fafaf7"/>
<rect x="845.5" y="1717.0" width="304.7" height="39.2" fill="#8086f8"/>
<rect x="1149.1" y="1717.0" width="39.1" height="39.2" fill="#f46868"/>
<rect x="1187.2" y="1717.0" width="266.8" height="39.2" fill="#8086f8"/>
<rect x="807.4" y="1755.2" width="39.1" height="39.2" fill="#ffff00"/>
<rect x="845.5" y="1755.2" width="39.1" height="39.2" fill="#fafaf7"/>
<rect x="883.5" y="1755.2" width="228.5" height="39.2" fill="#8086f8"/>
<rect x="1111.1" y="1755.2" width="115.1" height="39.2" fill="#f46868"/>
<rect x="1225.1" y="1755.2" width="228.9" height="39.2" fill="#8086f8"/>
<rect x="807.4" y="1793.5" width="39.1" height="39.2" fill="#ffff00"/>
<rect x="845.5" y="1793.5" width="39.1" height="39.2" fill="#fff000"/>
<rect x="883.5" y="1793.5" width="39.1" height="39.2" fill="#fafaf7"/>
<rect x="921.6" y="1793.5" width="190.4" height="39.2" fill="#8086f8"/>
<rect x="1111.1" y="1793.5" width="115.1" height="39.2" fill="#f46868"/>
<rect x="1225.1" y="1793.5" width="228.9" height="39.2" fill="#8086f8"/>
<rect x="807.4" y="1831.7" width="77.1" height="39.2" fill="#ffff00"/>
<rect x="883.5" y="1831.7" width="39.1" height="39.2" fill="#fff000"/>
<rect x="921.6" y="1831.7" width="39.1" height="39.2" fill="#fafaf7"/>
<rect x="959.7" y="1831.7" width="152.4" height="39.2" fill="#8086f8"/>
<rect x="1111.1" y="1831.7" width="115.1" height="39.2" fill="#f46868"/>
<rect x="1225.1" y="1831.7" width="228.9" height="39.2" fill="#8086f8"/>
<rect x="807.4" y="1869.9" width="153.3" height="38.7" fill="#ffff00"/>
<rect x="959.7" y="1869.9" width="38.8" height="38.7" fill="#fafaf7"/>
<rect x="997.5" y="1869.9" width="114.6" height="38.7" fill="#8086f8"/>
<rect x="1111.1" y="1869.9" width="115.1" height="38.7" fill="#f46868"/>
<rect x="1225.1" y="1869.9" width="228.9" height="38.7" fill="#8086f8"/>
<rect x="807.4" y="1907.6" width="39.1" height="38.7" fill="#ffd700"/>
<rect x="845.5" y="1907.6" width="39.1" height="38.7" fill="#ffff00"/>
<rect x="883.5" y="1907.6" width="39.1" height="38.7" fill="#fff000"/>
<rect x="921.6" y="1907.6" width="39.1" height="38.7" fill="#ffff00"/>
<rect x="959.7" y="1907.6" width="38.8" height="38.7" fill="#ffd700"/>
<rect x="997.5" y="1907.6" width="38.8" height="38.7" fill="#fafaf7"/>
<rect x="1035.2" y="1907.6" width="38.8" height="38.7" fill="#8086f8"/>
<rect x="1073.0" y="1907.6" width="191.1" height="38.7" fill="#f46868"/>
<rect x="1263.1" y="1907.6" width="190.9" height="38.7" fill="#8086f8"/>
<rect x="807.4" y="1945.2" width="39.1" height="38.7" fill="#ffd700"/>
<rect x="845.5" y="1945.2" width="39.1" height="38.7" fill="#ffca00"/>
<rect x="883.5" y="1945.2" width="39.1" height="38.7" fill="#ffff00"/>
<rect x="921.6" y="1945.2" width="39.1" height="38.7" fill="#ffd700"/>
<rect x="959.7" y="1945.2" width="38.8" height="38.7" fill="#ffff00"/>
<rect x="997.5" y="1945.2" width="38.8" height="38.7" fill="#ffca00"/>
<rect x="1035.2" y="1945.2" width="38.8" height="38.7" fill="#fafaf7"/>
<rect x="1073.0" y="1945.2" width="39.1" height="38.7" fill="#8086f8"/>
<rect x="1111.1" y="1945.2" width="153.0" height="38.7" fill="#f46868"/>
<rect x="1263.1" y="1945.2" width="190.9" height="38.7" fill="#8086f8"/>
<rect x="807.4" y="1982.9" width="39.1" height="39.2" fill="#ffd700"/>
<rect x="845.5" y="1982.9" width="39.1" height="39.2" fill="#ffca00"/>
<rect x="883.5" y="1982.9" width="39.1" height="39.2" fill="#ffb800"/>
<rect x="921.6" y="1982.9" width="39.1" height="39.2" fill="#ffca00"/>
<rect x="959.7" y="1982.9" width="38.8" height="39.2" fill="#ffd700"/>
<rect x="997.5" y="1982.9" width="38.8" height="39.2" fill="#ffa400"/>
<rect x="1035.2" y="1982.9" width="38.8" height="39.2" fill="#ff9300"/>
<rect x="1073.0" y="1982.9" width="39.1" height="39.2" fill="#fafaf7"/>
<rect x="1111.1" y="1982.9" width="342.9" height="39.2" fill="#8086f8"/>
<rect x="807.4" y="2021.1" width="39.1" height="39.2" fill="#ffca00"/>
<rect x="845.5" y="2021.1" width="39.1" height="39.2" fill="#ffb800"/>
<rect x="883.5" y="2021.1" width="39.1" height="39.2" fill="#ff7e00"/>
<rect x="921.6" y="2021.1" width="76.8" height="39.2" fill="#ffa400"/>
<rect x="997.5" y="2021.1" width="38.8" height="39.2" fill="#ff9300"/>
<rect x="1035.2" y="2021.1" width="38.8" height="39.2" fill="#ff5800"/>
<rect x="1073.0" y="2021.1" width="39.1" height="39.2" fill="#ffca00"/>
<rect x="1111.1" y="2021.1" width="39.1" height="39.2" fill="#f4f7e6"/>
<rect x="1149.1" y="2021.1" width="39.1" height="39.2" fill="#f46868"/>
<rect x="1187.2" y="2021.1" width="38.9" height="39.2" fill="#8086f8"/>
<rect x="1225.1" y="2021.1" width="228.9" height="39.2" fill="#f46868"/>
<rect x="807.4" y="2059.3" width="77.1" height="39.2" fill="#ff7e00"/>
<rect x="883.5" y="2059.3" width="39.1" height="39.2" fill="#ff5800"/>
<rect x="921.6" y="2059.3" width="39.1" height="39.2" fill="#ff7e00"/>
<rect x="959.7" y="2059.3" width="76.5" height="39.2" fill="#ff5800"/>
<rect x="1035.2" y="2059.3" width="38.8" height="39.2" fill="#f26a6a"/>
<rect x="1073.0" y="2059.3" width="39.1" height="39.2" fill="#ffff00"/>
<rect x="1111.1" y="2059.3" width="39.1" height="39.2" fill="#ff7e00"/>
<rect x="1149.1" y="2059.3" width="39.1" height="39.2" fill="#fafaf7"/>
<rect x="1187.2" y="2059.3" width="76.9" height="39.2" fill="#8086f8"/>
<rect x="1263.1" y="2059.3" width="190.9" height="39.2" fill="#f46868"/>
<rect x="807.4" y="2097.5" width="39.1" height="38.8" fill="#ffca00"/>
<rect x="845.5" y="2097.5" width="39.1" height="38.8" fill="#ffb800"/>
<rect x="883.5" y="2097.5" width="39.1" height="38.8" fill="#ff7e00"/>
<rect x="921.6" y="2097.5" width="39.1" height="38.8" fill="#ffb800"/>
<rect x="959.7" y="2097.5" width="38.8" height="38.8" fill="#ffa400"/>
<rect x="997.5" y="2097.5" width="38.8" height="38.8" fill="#ff7e00"/>
<rect x="1035.2" y="2097.5" width="38.8" height="38.8" fill="#ff5800"/>
<rect x="1073.0" y="2097.5" width="39.1" height="38.8" fill="#ffff00"/>
<rect x="1111.1" y="2097.5" width="39.1" height="38.8" fill="#ffd700"/>
<rect x="1149.1" y="2097.5" width="39.1" height="38.8" fill="#ffff00"/>
<rect x="1187.2" y="2097.5" width="38.9" height="38.8" fill="#fafaf7"/>
<rect x="1225.1" y="2097.5" width="114.9" height="38.8" fill="#8086f8"/>
<rect x="1339.0" y="2097.5" width="115.0" height="38.8" fill="#f46868"/>
<rect x="807.4" y="2135.3" width="39.1" height="38.8" fill="#ffe400"/>
<rect x="845.5" y="2135.3" width="39.1" height="38.8" fill="#ffd700"/>
<rect x="883.5" y="2135.3" width="39.1" height="38.8" fill="#ffca00"/>
<rect x="921.6" y="2135.3" width="39.1" height="38.8" fill="#ffe400"/>
<rect x="959.7" y="2135.3" width="38.8" height="38.8" fill="#ffca00"/>
<rect x="997.5" y="2135.3" width="38.8" height="38.8" fill="#ffb800"/>
<rect x="1035.2" y="2135.3" width="38.8" height="38.8" fill="#ffa400"/>
<rect x="1073.0" y="2135.3" width="39.1" height="38.8" fill="#ffff00"/>
<rect x="1111.1" y="2135.3" width="39.1" height="38.8" fill="#ffd700"/>
<rect x="1149.1" y="2135.3" width="39.1" height="38.8" fill="#fff000"/>
<rect x="1187.2" y="2135.3" width="38.9" height="38.8" fill="#ffff00"/>
<rect x="1225.1" y="2135.3" width="38.9" height="38.8" fill="#fafaf7"/>
<rect x="1263.1" y="2135.3" width="76.9" height="38.8" fill="#8086f8"/>
<rect x="1339.0" y="2135.3" width="39.0" height="38.8" fill="#f46868"/>
<rect x="1377.0" y="2135.3" width="39.0" height="38.8" fill="#8086f8"/>
<rect x="1415.0" y="2135.3" width="39.0" height="38.8" fill="#f46868"/>
<rect x="807.4" y="2173.2" width="266.6" height="38.8" fill="#ffff00"/>
<rect x="1073.0" y="2173.2" width="39.1" height="38.8" fill="#ffca00"/>
<rect x="1111.1" y="2173.2" width="39.1" height="38.8" fill="#ffa400"/>
<rect x="1149.1" y="2173.2" width="39.1" height="38.8" fill="#ff7e00"/>
<rect x="1187.2" y="2173.2" width="38.9" height="38.8" fill="#ffb800"/>
<rect x="1225.1" y="2173.2" width="38.9" height="38.8" fill="#ffe400"/>
<rect x="1263.1" y="2173.2" width="38.9" height="38.8" fill="#fafaf7"/>
<rect x="1301.0" y="2173.2" width="153.0" height="38.8" fill="#8086f8"/>
<rect x="807.4" y="2211.0" width="191.1" height="38.7" fill="#ffff00"/>
<rect x="997.5" y="2211.0" width="38.8" height="38.7" fill="#fff000"/>
<rect x="1035.2" y="2211.0" width="38.8" height="38.7" fill="#ffff00"/>
<rect x="1073.0" y="2211.0" width="39.1" height="38.7" fill="#ffca00"/>
<rect x="1111.1" y="2211.0" width="39.1" height="38.7" fill="#ffb800"/>
<rect x="1149.1" y="2211.0" width="39.1" height="38.7" fill="#ff7e00"/>
<rect x="1187.2" y="2211.0" width="38.9" height="38.7" fill="#ffb800"/>
<rect x="1225.1" y="2211.0" width="38.9" height="38.7" fill="#ffe400"/>
<rect x="1263.1" y="2211.0" width="38.9" height="38.7" fill="#ffff00"/>
<rect x="1301.0" y="2211.0" width="39.0" height="38.7" fill="#fafaf7"/>
<rect x="1339.0" y="2211.0" width="115.0" height="38.7" fill="#8086f8"/>
<rect x="807.4" y="2248.7" width="191.1" height="38.7" fill="#ffff00"/>
<rect x="997.5" y="2248.7" width="38.8" height="38.7" fill="#fff000"/>
<rect x="1035.2" y="2248.7" width="38.8" height="38.7" fill="#ffff00"/>
<rect x="1073.0" y="2248.7" width="39.1" height="38.7" fill="#ffb800"/>
<rect x="1111.1" y="2248.7" width="39.1" height="38.7" fill="#ffa400"/>
<rect x="1149.1" y="2248.7" width="39.1" height="38.7" fill="#ff5800"/>
<rect x="1187.2" y="2248.7" width="38.9" height="38.7" fill="#ffa400"/>
<rect x="1225.1" y="2248.7" width="38.9" height="38.7" fill="#ffca00"/>
<rect x="1263.1" y="2248.7" width="76.9" height="38.7" fill="#ffff00"/>
<rect x="1339.0" y="2248.7" width="39.0" height="38.7" fill="#fafaf7"/>
<rect x="1377.0" y="2248.7" width="77.0" height="38.7" fill="#8086f8"/>
<rect x="807.4" y="2286.3" width="191.1" height="38.6" fill="#ffff00"/>
<rect x="997.5" y="2286.3" width="38.8" height="38.6" fill="#fff000"/>
<rect x="1035.2" y="2286.3" width="38.8" height="38.6" fill="#ffff00"/>
<rect x="1073.0" y="2286.3" width="39.1" height="38.6" fill="#ffca00"/>
<rect x="1111.1" y="2286.3" width="39.1" height="38.6" fill="#ffb800"/>
<rect x="1149.1" y="2286.3" width="39.1" height="38.6" fill="#ff7e00"/>
<rect x="1187.2" y="2286.3" width="38.9" height="38.6" fill="#ffb800"/>
<rect x="1225.1" y="2286.3" width="38.9" height="38.6" fill="#ffe400"/>
<rect x="1263.1" y="2286.3" width="114.9" height="38.6" fill="#ffff00"/>
<rect x="1377.0" y="2286.3" width="39.0" height="38.6" fill="#fafaf7"/>
<rect x="1415.0" y="2286.3" width="39.0" height="38.6" fill="#8086f8"/>
<rect x="807.4" y="2323.9" width="77.1" height="38.7" fill="#ffb800"/>
<rect x="883.5" y="2323.9" width="39.1" height="38.7" fill="#ffff00"/>
<rect x="921.6" y="2323.9" width="39.1" height="38.7" fill="#ffca00"/>
<rect x="959.7" y="2323.9" width="38.8" height="38.7" fill="#ffe400"/>
<rect x="997.5" y="2323.9" width="38.8" height="38.7" fill="#ffb800"/>
<rect x="1035.2" y="2323.9" width="38.8" height="38.7" fill="#ffff00"/>
<rect x="1073.0" y="2323.9" width="39.1" height="38.7" fill="#ff7e00"/>
<rect x="1111.1" y="2323.9" width="39.1" height="38.7" fill="#ff5800"/>
<rect x="1149.1" y="2323.9" width="39.1" height="38.7" fill="#f26a6a"/>
<rect x="1187.2" y="2323.9" width="38.9" height="38.7" fill="#ff5800"/>
<rect x="1225.1" y="2323.9" width="38.9" height="38.7" fill="#ff7e00"/>
<rect x="1263.1" y="2323.9" width="76.9" height="38.7" fill="#fff000"/>
<rect x="1339.0" y="2323.9" width="39.0" height="38.7" fill="#ffff00"/>
<rect x="1377.0" y="2323.9" width="39.0" height="38.7" fill="#fff000"/>
<rect x="1415.0" y="2323.9" width="39.0" height="38.7" fill="#fafaf7"/>
<rect x="958.6" y="1717.0" width="2.3" height="644.6" fill="#4a4a4a"/>
<rect x="1071.8" y="1717.0" width="2.3" height="644.6" fill="#4a4a4a"/>
<rect x="1186.0" y="1717.0" width="2.3" height="644.6" fill="#4a4a4a"/>
<rect x="1299.8" y="1717.0" width="2.3" height="644.6" fill="#4a4a4a"/>
<rect x="807.4" y="1868.8" width="645.6" height="2.3" fill="#4a4a4a"/>
<rect x="807.4" y="1981.8" width="645.6" height="2.3" fill="#4a4a4a"/>
<rect x="807.4" y="2096.3" width="645.6" height="2.3" fill="#4a4a4a"/>
<rect x="807.4" y="2209.8" width="645.6" height="2.3" fill="#4a4a4a"/>
<rect x="806.2" y="1715.8" width="647.9" height="646.9" fill="none" stroke="#4a4a4a" stroke-width="2.3"/>
<rect x="1462.5" y="1719.3" width="2.2" height="148.5" fill="#4a4a4a"/>
<text x="1473.3" y="1749.9" font-size="28.71" textLength="37.2" lengthAdjust="spacingAndGlyphs">LH</text>
<text x="1474.1" y="1784.7" font-size="28.71" textLength="37.8" lengthAdjust="spacingAndGlyphs">TH</text>
<text x="1473.2" y="1820.0" font-size="28.71" textLength="41.3" lengthAdjust="spacingAndGlyphs">LM</text>
<text x="1474.7" y="1855.7" font-size="28.71" textLength="36.3" lengthAdjust="spacingAndGlyphs">AC</text>
<rect x="1462.5" y="1874.0" width="2.2" height="108.4" fill="#4a4a4a"/>
<text x="1473.3" y="1901.7" font-size="28.71" textLength="37.2" lengthAdjust="spacingAndGlyphs">LH</text>
<text x="1474.1" y="1936.5" font-size="28.71" textLength="37.8" lengthAdjust="spacingAndGlyphs">TH</text>
<text x="1474.7" y="1971.5" font-size="28.71" textLength="36.3" lengthAdjust="spacingAndGlyphs">AC</text>
<rect x="1462.5" y="1989.0" width="2.2" height="106.8" fill="#4a4a4a"/>
<text x="1473.3" y="2016.4" font-size="28.71" textLength="37.2" lengthAdjust="spacingAndGlyphs">LH</text>
<text x="1473.2" y="2051.6" font-size="28.71" textLength="41.3" lengthAdjust="spacingAndGlyphs">LM</text>
<text x="1474.7" y="2087.0" font-size="28.71" textLength="36.3" lengthAdjust="spacingAndGlyphs">AC</text>
<rect x="1462.5" y="2101.0" width="2.2" height="109.0" fill="#4a4a4a"/>
<text x="1473.3" y="2129.4" font-size="28.71" textLength="37.2" lengthAdjust="spacingAndGlyphs">LH</text>
<text x="1473.2" y="2164.8" font-size="28.71" textLength="41.3" lengthAdjust="spacingAndGlyphs">LM</text>
<text x="1474.7" y="2200.2" font-size="28.71" textLength="36.3" lengthAdjust="spacingAndGlyphs">AC</text>
<rect x="1462.5" y="2215.0" width="2.2" height="145.0" fill="#4a4a4a"/>
<text x="1473.3" y="2244.1" font-size="28.71" textLength="37.2" lengthAdjust="spacingAndGlyphs">LH</text>
<text x="1474.1" y="2279.5" font-size="28.71" textLength="37.8" lengthAdjust="spacingAndGlyphs">TH</text>
<text x="1473.2" y="2315.0" font-size="28.71" textLength="41.3" lengthAdjust="spacingAndGlyphs">LM</text>
<text x="1474.7" y="2350.4" font-size="28.71" textLength="36.3" lengthAdjust="spacingAndGlyphs">AC</text>
<text x="1531.6" y="1794.1" font-size="30.71" textLength="69.6" lengthAdjust="spacingAndGlyphs">2012</text>
<text x="1531.7" y="1930.0" font-size="30.71" textLength="68.9" lengthAdjust="spacingAndGlyphs">2014</text>
<text x="1531.6" y="2060.3" font-size="30.71" textLength="69.2" lengthAdjust="spacingAndGlyphs">2015</text>
<text x="1531.6" y="2171.9" font-size="30.71" textLength="69.6" lengthAdjust="spacingAndGlyphs">2016</text>
<text x="1531.6" y="2300.8" font-size="30.71" textLength="69.6" lengthAdjust="spacingAndGlyphs">2017</text>
<rect x="805.0" y="2378.9" width="150.7" height="2.2" fill="#4a4a4a"/>
<text x="806.1" y="2415.7" font-size="26.0" textLength="144.5" lengthAdjust="spacingAndGlyphs">LH TH LM AC</text>
<rect x="963.0" y="2378.9" width="111.3" height="2.2" fill="#4a4a4a"/>
<text x="963.1" y="2415.7" font-size="26.0" textLength="104.9" lengthAdjust="spacingAndGlyphs">LH TH AC</text>
<rect x="1078.4" y="2378.9" width="107.3" height="2.2" fill="#4a4a4a"/>
<text x="1081.4" y="2415.7" font-size="26.0" textLength="104.1" lengthAdjust="spacingAndGlyphs">LH TH AC</text>
<rect x="1191.8" y="2378.9" width="107.2" height="2.2" fill="#4a4a4a"/>
<text x="1197.1" y="2415.7" font-size="26.0" textLength="103.8" lengthAdjust="spacingAndGlyphs">LH TH AC</text>
<rect x="1304.3" y="2378.9" width="150.7" height="2.2" fill="#4a4a4a"/>
<text x="1310.5" y="2415.7" font-size="26.0" textLength="143.4" lengthAdjust="spacingAndGlyphs">LH TH LM AC</text>
<text x="844.1" y="2476.5" font-size="30.14" textLength="66.4" lengthAdjust="spacingAndGlyphs">2012</text>
<text x="970.8" y="2476.5" font-size="30.14" textLength="66.9" lengthAdjust="spacingAndGlyphs">2014</text>
<text x="1093.9" y="2476.5" font-size="30.14" textLength="66.5" lengthAdjust="spacingAndGlyphs">2015</text>
<text x="1216.5" y="2476.5" font-size="30.14" textLength="67.7" lengthAdjust="spacingAndGlyphs">2016</text>
<text x="1350.2" y="2476.5" font-size="30.14" textLength="67.7" lengthAdjust="spacingAndGlyphs">2017</text>
<text x="1618.7" y="2115.2" font-size="48.57" textLength="91.2" lengthAdjust="spacingAndGlyphs">Hg2</text>
<defs><linearGradient id="g3" x1="0" y1="1" x2="0" y2="0"><stop offset="0" stop-color="#ffff00"/><stop offset="0.33" stop-color="#ffb400"/><stop offset="0.66" stop-color="#ff6400"/><stop offset="1" stop-color="#ff0000"/></linearGradient></defs>
<rect x="1623.6" y="2137.9" width="30.3" height="205.4" fill="url(#g3)" stroke="#4a4a4a" stroke-width="2.2"/>
<rect x="1653.9" y="2160.1" width="10.5" height="2.0" fill="#4a4a4a"/>
<text x="1668.4" y="2169.6" font-size="23.57" textLength="38.0" lengthAdjust="spacingAndGlyphs">0.3</text>
<rect x="1653.9" y="2224.7" width="10.5" height="2.0" fill="#4a4a4a"/>
<text x="1668.4" y="2234.2" font-size="23.57" textLength="38.0" lengthAdjust="spacingAndGlyphs">0.2</text>
<rect x="1653.9" y="2285.6" width="10.5" height="2.0" fill="#4a4a4a"/>
<text x="1668.4" y="2295.1" font-size="23.57" textLength="38.0" lengthAdjust="spacingAndGlyphs">0.1</text>
<rect x="1653.9" y="2342.3" width="10.5" height="2.0" fill="#4a4a4a"/>
<text x="1678.3" y="2351.8" font-size="23.57" textLength="14.8" lengthAdjust="spacingAndGlyphs">0</text>
<text x="1729.6" y="2252.6" font-size="54.29" textLength="27.8" lengthAdjust="spacingAndGlyphs">F</text>
<text x="1757.3" y="2271.0" font-size="30.0" textLength="35.2" lengthAdjust="spacingAndGlyphs">ST</text>
<rect x="1624.1" y="2361.7" width="31.2" height="30.3" fill="#8086f8" stroke="#4a4a4a" stroke-width="1.8"/>
<rect x="1624.1" y="2401.4" width="31.2" height="30.3" fill="#f46868" stroke="#4a4a4a" stroke-width="1.8"/>
<text x="1663.7" y="2390.0" font-size="34.29" textLength="249.2" lengthAdjust="spacingAndGlyphs">Non-Significant</text>
<text x="1664.0" y="2429.7" font-size="33.86" textLength="166.5" lengthAdjust="spacingAndGlyphs">Significant</text>
</svg></body></html>
